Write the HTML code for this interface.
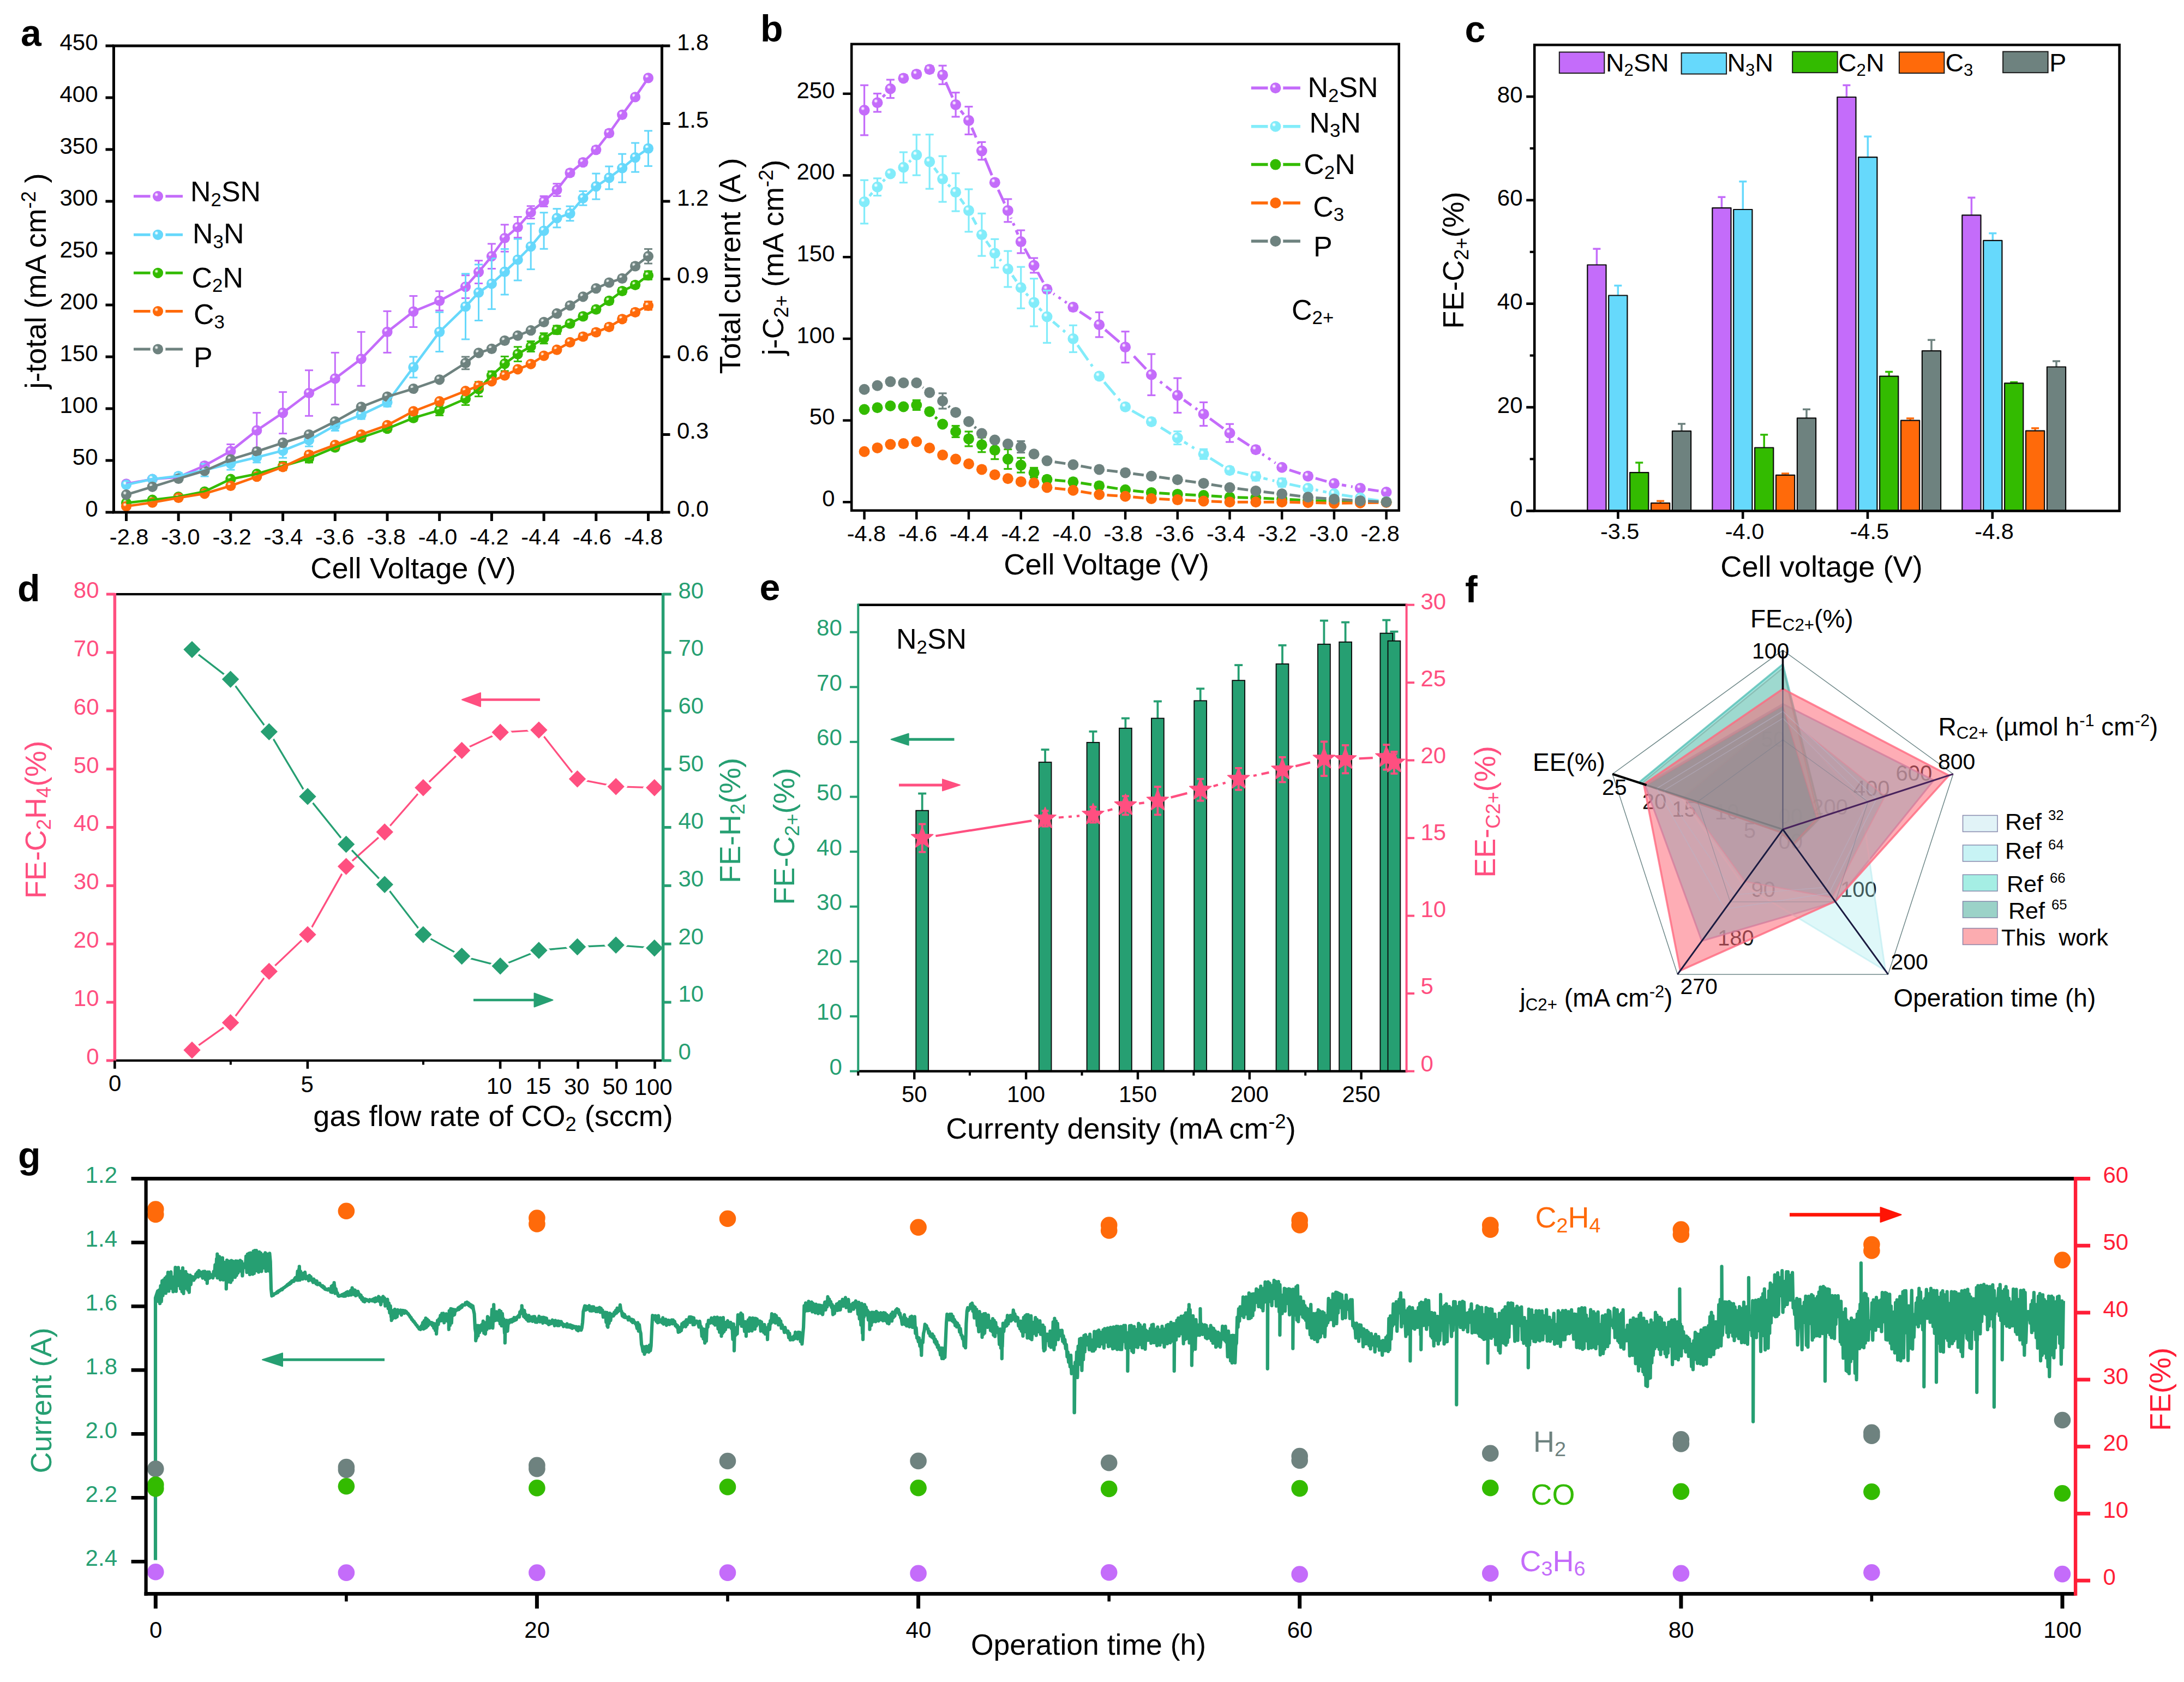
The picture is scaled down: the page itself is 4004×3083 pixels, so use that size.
<!DOCTYPE html><html><head><meta charset="utf-8"><title>Figure</title><style>html,body{margin:0;padding:0;background:#fff;width:4004px;height:3083px;overflow:hidden}svg{display:block}text{font-family:"Liberation Sans",sans-serif}</style></head><body><svg width="4004" height="3083" viewBox="0 0 4004 3083"><defs><radialGradient id="gP" cx="0.36" cy="0.34" r="0.6" fx="0.36" fy="0.34"><stop offset="0" stop-color="#fff"/><stop offset="0.13" stop-color="#F3DCFF"/><stop offset="0.32" stop-color="#C46CFA"/><stop offset="1" stop-color="#C46CFA"/></radialGradient><radialGradient id="gB" cx="0.36" cy="0.34" r="0.6" fx="0.36" fy="0.34"><stop offset="0" stop-color="#fff"/><stop offset="0.13" stop-color="#E6FAFF"/><stop offset="0.32" stop-color="#66D8FB"/><stop offset="1" stop-color="#66D8FB"/></radialGradient><radialGradient id="gC" cx="0.36" cy="0.34" r="0.6" fx="0.36" fy="0.34"><stop offset="0" stop-color="#fff"/><stop offset="0.13" stop-color="#EAFDFF"/><stop offset="0.32" stop-color="#82ECFA"/><stop offset="1" stop-color="#82ECFA"/></radialGradient><radialGradient id="gG" cx="0.36" cy="0.34" r="0.6" fx="0.36" fy="0.34"><stop offset="0" stop-color="#fff"/><stop offset="0.13" stop-color="#C8F5B0"/><stop offset="0.32" stop-color="#33BB00"/><stop offset="1" stop-color="#33BB00"/></radialGradient><radialGradient id="gO" cx="0.36" cy="0.34" r="0.6" fx="0.36" fy="0.34"><stop offset="0" stop-color="#fff"/><stop offset="0.13" stop-color="#FFD9B8"/><stop offset="0.32" stop-color="#FF6A0A"/><stop offset="1" stop-color="#FF6A0A"/></radialGradient><radialGradient id="gY" cx="0.36" cy="0.34" r="0.6" fx="0.36" fy="0.34"><stop offset="0" stop-color="#fff"/><stop offset="0.13" stop-color="#D5DEDC"/><stop offset="0.32" stop-color="#6E827F"/><stop offset="1" stop-color="#6E827F"/></radialGradient></defs><rect width="4004" height="3083" fill="#fff"/><g>
<line x1="375.1" y1="847.8" x2="375.1" y2="859.2" stroke="#C46CFA" stroke-width="3" stroke-linecap="butt" />
<line x1="367.6" y1="847.8" x2="382.6" y2="847.8" stroke="#C46CFA" stroke-width="3" stroke-linecap="butt" />
<line x1="367.6" y1="859.2" x2="382.6" y2="859.2" stroke="#C46CFA" stroke-width="3" stroke-linecap="butt" />
<line x1="422.9" y1="814.4" x2="422.9" y2="839.4" stroke="#C46CFA" stroke-width="3" stroke-linecap="butt" />
<line x1="415.4" y1="814.4" x2="430.4" y2="814.4" stroke="#C46CFA" stroke-width="3" stroke-linecap="butt" />
<line x1="415.4" y1="839.4" x2="430.4" y2="839.4" stroke="#C46CFA" stroke-width="3" stroke-linecap="butt" />
<line x1="470.8" y1="756.6" x2="470.8" y2="821.2" stroke="#C46CFA" stroke-width="3" stroke-linecap="butt" />
<line x1="463.2" y1="756.6" x2="478.2" y2="756.6" stroke="#C46CFA" stroke-width="3" stroke-linecap="butt" />
<line x1="463.2" y1="821.2" x2="478.2" y2="821.2" stroke="#C46CFA" stroke-width="3" stroke-linecap="butt" />
<line x1="518.6" y1="718.6" x2="518.6" y2="794.6" stroke="#C46CFA" stroke-width="3" stroke-linecap="butt" />
<line x1="511.1" y1="718.6" x2="526.1" y2="718.6" stroke="#C46CFA" stroke-width="3" stroke-linecap="butt" />
<line x1="511.1" y1="794.6" x2="526.1" y2="794.6" stroke="#C46CFA" stroke-width="3" stroke-linecap="butt" />
<line x1="566.5" y1="678.7" x2="566.5" y2="762.3" stroke="#C46CFA" stroke-width="3" stroke-linecap="butt" />
<line x1="559" y1="678.7" x2="574" y2="678.7" stroke="#C46CFA" stroke-width="3" stroke-linecap="butt" />
<line x1="559" y1="762.3" x2="574" y2="762.3" stroke="#C46CFA" stroke-width="3" stroke-linecap="butt" />
<line x1="614.3" y1="646.4" x2="614.3" y2="741.4" stroke="#C46CFA" stroke-width="3" stroke-linecap="butt" />
<line x1="606.8" y1="646.4" x2="621.8" y2="646.4" stroke="#C46CFA" stroke-width="3" stroke-linecap="butt" />
<line x1="606.8" y1="741.4" x2="621.8" y2="741.4" stroke="#C46CFA" stroke-width="3" stroke-linecap="butt" />
<line x1="662.2" y1="608.4" x2="662.2" y2="707.2" stroke="#C46CFA" stroke-width="3" stroke-linecap="butt" />
<line x1="654.7" y1="608.4" x2="669.7" y2="608.4" stroke="#C46CFA" stroke-width="3" stroke-linecap="butt" />
<line x1="654.7" y1="707.2" x2="669.7" y2="707.2" stroke="#C46CFA" stroke-width="3" stroke-linecap="butt" />
<line x1="710" y1="570.4" x2="710" y2="646.4" stroke="#C46CFA" stroke-width="3" stroke-linecap="butt" />
<line x1="702.5" y1="570.4" x2="717.5" y2="570.4" stroke="#C46CFA" stroke-width="3" stroke-linecap="butt" />
<line x1="702.5" y1="646.4" x2="717.5" y2="646.4" stroke="#C46CFA" stroke-width="3" stroke-linecap="butt" />
<line x1="757.9" y1="542.5" x2="757.9" y2="599.5" stroke="#C46CFA" stroke-width="3" stroke-linecap="butt" />
<line x1="750.4" y1="542.5" x2="765.4" y2="542.5" stroke="#C46CFA" stroke-width="3" stroke-linecap="butt" />
<line x1="750.4" y1="599.5" x2="765.4" y2="599.5" stroke="#C46CFA" stroke-width="3" stroke-linecap="butt" />
<line x1="805.7" y1="533.7" x2="805.7" y2="569.1" stroke="#C46CFA" stroke-width="3" stroke-linecap="butt" />
<line x1="798.2" y1="533.7" x2="813.2" y2="533.7" stroke="#C46CFA" stroke-width="3" stroke-linecap="butt" />
<line x1="798.2" y1="569.1" x2="813.2" y2="569.1" stroke="#C46CFA" stroke-width="3" stroke-linecap="butt" />
<line x1="853.5" y1="504.7" x2="853.5" y2="546.5" stroke="#C46CFA" stroke-width="3" stroke-linecap="butt" />
<line x1="846" y1="504.7" x2="861" y2="504.7" stroke="#C46CFA" stroke-width="3" stroke-linecap="butt" />
<line x1="846" y1="546.5" x2="861" y2="546.5" stroke="#C46CFA" stroke-width="3" stroke-linecap="butt" />
<line x1="877.5" y1="477.7" x2="877.5" y2="519.5" stroke="#C46CFA" stroke-width="3" stroke-linecap="butt" />
<line x1="870" y1="477.7" x2="885" y2="477.7" stroke="#C46CFA" stroke-width="3" stroke-linecap="butt" />
<line x1="870" y1="519.5" x2="885" y2="519.5" stroke="#C46CFA" stroke-width="3" stroke-linecap="butt" />
<line x1="901.4" y1="446.9" x2="901.4" y2="492.5" stroke="#C46CFA" stroke-width="3" stroke-linecap="butt" />
<line x1="893.9" y1="446.9" x2="908.9" y2="446.9" stroke="#C46CFA" stroke-width="3" stroke-linecap="butt" />
<line x1="893.9" y1="492.5" x2="908.9" y2="492.5" stroke="#C46CFA" stroke-width="3" stroke-linecap="butt" />
<line x1="925.3" y1="411.8" x2="925.3" y2="461.2" stroke="#C46CFA" stroke-width="3" stroke-linecap="butt" />
<line x1="917.8" y1="411.8" x2="932.8" y2="411.8" stroke="#C46CFA" stroke-width="3" stroke-linecap="butt" />
<line x1="917.8" y1="461.2" x2="932.8" y2="461.2" stroke="#C46CFA" stroke-width="3" stroke-linecap="butt" />
<line x1="949.2" y1="397.5" x2="949.2" y2="435.5" stroke="#C46CFA" stroke-width="3" stroke-linecap="butt" />
<line x1="941.8" y1="397.5" x2="956.8" y2="397.5" stroke="#C46CFA" stroke-width="3" stroke-linecap="butt" />
<line x1="941.8" y1="435.5" x2="956.8" y2="435.5" stroke="#C46CFA" stroke-width="3" stroke-linecap="butt" />
<line x1="973.2" y1="377.7" x2="973.2" y2="400.5" stroke="#C46CFA" stroke-width="3" stroke-linecap="butt" />
<line x1="965.7" y1="377.7" x2="980.7" y2="377.7" stroke="#C46CFA" stroke-width="3" stroke-linecap="butt" />
<line x1="965.7" y1="400.5" x2="980.7" y2="400.5" stroke="#C46CFA" stroke-width="3" stroke-linecap="butt" />
<line x1="997.1" y1="359.5" x2="997.1" y2="378.5" stroke="#C46CFA" stroke-width="3" stroke-linecap="butt" />
<line x1="989.6" y1="359.5" x2="1004.6" y2="359.5" stroke="#C46CFA" stroke-width="3" stroke-linecap="butt" />
<line x1="989.6" y1="378.5" x2="1004.6" y2="378.5" stroke="#C46CFA" stroke-width="3" stroke-linecap="butt" />
<line x1="1021" y1="336.7" x2="1021" y2="359.5" stroke="#C46CFA" stroke-width="3" stroke-linecap="butt" />
<line x1="1013.5" y1="336.7" x2="1028.5" y2="336.7" stroke="#C46CFA" stroke-width="3" stroke-linecap="butt" />
<line x1="1013.5" y1="359.5" x2="1028.5" y2="359.5" stroke="#C46CFA" stroke-width="3" stroke-linecap="butt" />
<line x1="1045" y1="311.2" x2="1045" y2="322.6" stroke="#C46CFA" stroke-width="3" stroke-linecap="butt" />
<line x1="1037.5" y1="311.2" x2="1052.5" y2="311.2" stroke="#C46CFA" stroke-width="3" stroke-linecap="butt" />
<line x1="1037.5" y1="322.6" x2="1052.5" y2="322.6" stroke="#C46CFA" stroke-width="3" stroke-linecap="butt" />
<line x1="1068.9" y1="291.9" x2="1068.9" y2="303.3" stroke="#C46CFA" stroke-width="3" stroke-linecap="butt" />
<line x1="1061.4" y1="291.9" x2="1076.4" y2="291.9" stroke="#C46CFA" stroke-width="3" stroke-linecap="butt" />
<line x1="1061.4" y1="303.3" x2="1076.4" y2="303.3" stroke="#C46CFA" stroke-width="3" stroke-linecap="butt" />
<line x1="1092.8" y1="268.9" x2="1092.8" y2="280.3" stroke="#C46CFA" stroke-width="3" stroke-linecap="butt" />
<line x1="1085.3" y1="268.9" x2="1100.3" y2="268.9" stroke="#C46CFA" stroke-width="3" stroke-linecap="butt" />
<line x1="1085.3" y1="280.3" x2="1100.3" y2="280.3" stroke="#C46CFA" stroke-width="3" stroke-linecap="butt" />
<line x1="1116.7" y1="238.3" x2="1116.7" y2="249.7" stroke="#C46CFA" stroke-width="3" stroke-linecap="butt" />
<line x1="1109.2" y1="238.3" x2="1124.2" y2="238.3" stroke="#C46CFA" stroke-width="3" stroke-linecap="butt" />
<line x1="1109.2" y1="249.7" x2="1124.2" y2="249.7" stroke="#C46CFA" stroke-width="3" stroke-linecap="butt" />
<circle cx="231.5" cy="886.9" r="9.6" fill="url(#gP)" />
<circle cx="279.4" cy="878.2" r="9.6" fill="url(#gP)" />
<circle cx="327.2" cy="874.4" r="9.6" fill="url(#gP)" />
<circle cx="375.1" cy="853.5" r="9.6" fill="url(#gP)" />
<circle cx="422.9" cy="826.9" r="9.6" fill="url(#gP)" />
<circle cx="470.8" cy="788.9" r="9.6" fill="url(#gP)" />
<circle cx="518.6" cy="756.6" r="9.6" fill="url(#gP)" />
<circle cx="566.5" cy="720.5" r="9.6" fill="url(#gP)" />
<circle cx="614.3" cy="693.9" r="9.6" fill="url(#gP)" />
<circle cx="662.2" cy="657.8" r="9.6" fill="url(#gP)" />
<circle cx="710" cy="608.4" r="9.6" fill="url(#gP)" />
<circle cx="757.9" cy="571" r="9.6" fill="url(#gP)" />
<circle cx="805.7" cy="551.4" r="9.6" fill="url(#gP)" />
<circle cx="853.5" cy="525.6" r="9.6" fill="url(#gP)" />
<circle cx="877.5" cy="498.6" r="9.6" fill="url(#gP)" />
<circle cx="901.4" cy="469.7" r="9.6" fill="url(#gP)" />
<circle cx="925.3" cy="436.5" r="9.6" fill="url(#gP)" />
<circle cx="949.2" cy="416.5" r="9.6" fill="url(#gP)" />
<circle cx="973.2" cy="389.1" r="9.6" fill="url(#gP)" />
<circle cx="997.1" cy="369" r="9.6" fill="url(#gP)" />
<circle cx="1021" cy="348.1" r="9.6" fill="url(#gP)" />
<circle cx="1045" cy="316.9" r="9.6" fill="url(#gP)" />
<circle cx="1068.9" cy="297.6" r="9.6" fill="url(#gP)" />
<circle cx="1092.8" cy="274.6" r="9.6" fill="url(#gP)" />
<circle cx="1116.7" cy="244" r="9.6" fill="url(#gP)" />
<circle cx="1140.7" cy="210.4" r="9.6" fill="url(#gP)" />
<circle cx="1164.6" cy="177.9" r="9.6" fill="url(#gP)" />
<circle cx="1188.5" cy="142.9" r="9.6" fill="url(#gP)" />
<line x1="327.2" y1="866.8" x2="327.2" y2="878.2" stroke="#66D8FB" stroke-width="3" stroke-linecap="butt" />
<line x1="319.7" y1="866.8" x2="334.7" y2="866.8" stroke="#66D8FB" stroke-width="3" stroke-linecap="butt" />
<line x1="319.7" y1="878.2" x2="334.7" y2="878.2" stroke="#66D8FB" stroke-width="3" stroke-linecap="butt" />
<line x1="375.1" y1="850.3" x2="375.1" y2="873.1" stroke="#66D8FB" stroke-width="3" stroke-linecap="butt" />
<line x1="367.6" y1="850.3" x2="382.6" y2="850.3" stroke="#66D8FB" stroke-width="3" stroke-linecap="butt" />
<line x1="367.6" y1="873.1" x2="382.6" y2="873.1" stroke="#66D8FB" stroke-width="3" stroke-linecap="butt" />
<line x1="422.9" y1="838.3" x2="422.9" y2="861.1" stroke="#66D8FB" stroke-width="3" stroke-linecap="butt" />
<line x1="415.4" y1="838.3" x2="430.4" y2="838.3" stroke="#66D8FB" stroke-width="3" stroke-linecap="butt" />
<line x1="415.4" y1="861.1" x2="430.4" y2="861.1" stroke="#66D8FB" stroke-width="3" stroke-linecap="butt" />
<line x1="470.8" y1="828.8" x2="470.8" y2="847.8" stroke="#66D8FB" stroke-width="3" stroke-linecap="butt" />
<line x1="463.2" y1="828.8" x2="478.2" y2="828.8" stroke="#66D8FB" stroke-width="3" stroke-linecap="butt" />
<line x1="463.2" y1="847.8" x2="478.2" y2="847.8" stroke="#66D8FB" stroke-width="3" stroke-linecap="butt" />
<line x1="518.6" y1="812.7" x2="518.6" y2="839.2" stroke="#66D8FB" stroke-width="3" stroke-linecap="butt" />
<line x1="511.1" y1="812.7" x2="526.1" y2="812.7" stroke="#66D8FB" stroke-width="3" stroke-linecap="butt" />
<line x1="511.1" y1="839.2" x2="526.1" y2="839.2" stroke="#66D8FB" stroke-width="3" stroke-linecap="butt" />
<line x1="566.5" y1="795.4" x2="566.5" y2="818.2" stroke="#66D8FB" stroke-width="3" stroke-linecap="butt" />
<line x1="559" y1="795.4" x2="574" y2="795.4" stroke="#66D8FB" stroke-width="3" stroke-linecap="butt" />
<line x1="559" y1="818.2" x2="574" y2="818.2" stroke="#66D8FB" stroke-width="3" stroke-linecap="butt" />
<line x1="614.3" y1="770.5" x2="614.3" y2="789.5" stroke="#66D8FB" stroke-width="3" stroke-linecap="butt" />
<line x1="606.8" y1="770.5" x2="621.8" y2="770.5" stroke="#66D8FB" stroke-width="3" stroke-linecap="butt" />
<line x1="606.8" y1="789.5" x2="621.8" y2="789.5" stroke="#66D8FB" stroke-width="3" stroke-linecap="butt" />
<line x1="662.2" y1="752.8" x2="662.2" y2="768" stroke="#66D8FB" stroke-width="3" stroke-linecap="butt" />
<line x1="654.7" y1="752.8" x2="669.7" y2="752.8" stroke="#66D8FB" stroke-width="3" stroke-linecap="butt" />
<line x1="654.7" y1="768" x2="669.7" y2="768" stroke="#66D8FB" stroke-width="3" stroke-linecap="butt" />
<line x1="710" y1="730" x2="710" y2="745.2" stroke="#66D8FB" stroke-width="3" stroke-linecap="butt" />
<line x1="702.5" y1="730" x2="717.5" y2="730" stroke="#66D8FB" stroke-width="3" stroke-linecap="butt" />
<line x1="702.5" y1="745.2" x2="717.5" y2="745.2" stroke="#66D8FB" stroke-width="3" stroke-linecap="butt" />
<line x1="757.9" y1="654" x2="757.9" y2="692" stroke="#66D8FB" stroke-width="3" stroke-linecap="butt" />
<line x1="750.4" y1="654" x2="765.4" y2="654" stroke="#66D8FB" stroke-width="3" stroke-linecap="butt" />
<line x1="750.4" y1="692" x2="765.4" y2="692" stroke="#66D8FB" stroke-width="3" stroke-linecap="butt" />
<line x1="805.7" y1="572.3" x2="805.7" y2="644.5" stroke="#66D8FB" stroke-width="3" stroke-linecap="butt" />
<line x1="798.2" y1="572.3" x2="813.2" y2="572.3" stroke="#66D8FB" stroke-width="3" stroke-linecap="butt" />
<line x1="798.2" y1="644.5" x2="813.2" y2="644.5" stroke="#66D8FB" stroke-width="3" stroke-linecap="butt" />
<line x1="853.5" y1="501.8" x2="853.5" y2="621.9" stroke="#66D8FB" stroke-width="3" stroke-linecap="butt" />
<line x1="846" y1="501.8" x2="861" y2="501.8" stroke="#66D8FB" stroke-width="3" stroke-linecap="butt" />
<line x1="846" y1="621.9" x2="861" y2="621.9" stroke="#66D8FB" stroke-width="3" stroke-linecap="butt" />
<line x1="877.5" y1="484.9" x2="877.5" y2="587.5" stroke="#66D8FB" stroke-width="3" stroke-linecap="butt" />
<line x1="870" y1="484.9" x2="885" y2="484.9" stroke="#66D8FB" stroke-width="3" stroke-linecap="butt" />
<line x1="870" y1="587.5" x2="885" y2="587.5" stroke="#66D8FB" stroke-width="3" stroke-linecap="butt" />
<line x1="901.4" y1="473.5" x2="901.4" y2="566.6" stroke="#66D8FB" stroke-width="3" stroke-linecap="butt" />
<line x1="893.9" y1="473.5" x2="908.9" y2="473.5" stroke="#66D8FB" stroke-width="3" stroke-linecap="butt" />
<line x1="893.9" y1="566.6" x2="908.9" y2="566.6" stroke="#66D8FB" stroke-width="3" stroke-linecap="butt" />
<line x1="925.3" y1="456.4" x2="925.3" y2="540" stroke="#66D8FB" stroke-width="3" stroke-linecap="butt" />
<line x1="917.8" y1="456.4" x2="932.8" y2="456.4" stroke="#66D8FB" stroke-width="3" stroke-linecap="butt" />
<line x1="917.8" y1="540" x2="932.8" y2="540" stroke="#66D8FB" stroke-width="3" stroke-linecap="butt" />
<line x1="949.2" y1="438" x2="949.2" y2="514" stroke="#66D8FB" stroke-width="3" stroke-linecap="butt" />
<line x1="941.8" y1="438" x2="956.8" y2="438" stroke="#66D8FB" stroke-width="3" stroke-linecap="butt" />
<line x1="941.8" y1="514" x2="956.8" y2="514" stroke="#66D8FB" stroke-width="3" stroke-linecap="butt" />
<line x1="973.2" y1="410" x2="973.2" y2="493.6" stroke="#66D8FB" stroke-width="3" stroke-linecap="butt" />
<line x1="965.7" y1="410" x2="980.7" y2="410" stroke="#66D8FB" stroke-width="3" stroke-linecap="butt" />
<line x1="965.7" y1="493.6" x2="980.7" y2="493.6" stroke="#66D8FB" stroke-width="3" stroke-linecap="butt" />
<line x1="997.1" y1="389.7" x2="997.1" y2="456.2" stroke="#66D8FB" stroke-width="3" stroke-linecap="butt" />
<line x1="989.6" y1="389.7" x2="1004.6" y2="389.7" stroke="#66D8FB" stroke-width="3" stroke-linecap="butt" />
<line x1="989.6" y1="456.2" x2="1004.6" y2="456.2" stroke="#66D8FB" stroke-width="3" stroke-linecap="butt" />
<line x1="1021" y1="382.7" x2="1021" y2="416.9" stroke="#66D8FB" stroke-width="3" stroke-linecap="butt" />
<line x1="1013.5" y1="382.7" x2="1028.5" y2="382.7" stroke="#66D8FB" stroke-width="3" stroke-linecap="butt" />
<line x1="1013.5" y1="416.9" x2="1028.5" y2="416.9" stroke="#66D8FB" stroke-width="3" stroke-linecap="butt" />
<line x1="1045" y1="378.1" x2="1045" y2="404.7" stroke="#66D8FB" stroke-width="3" stroke-linecap="butt" />
<line x1="1037.5" y1="378.1" x2="1052.5" y2="378.1" stroke="#66D8FB" stroke-width="3" stroke-linecap="butt" />
<line x1="1037.5" y1="404.7" x2="1052.5" y2="404.7" stroke="#66D8FB" stroke-width="3" stroke-linecap="butt" />
<line x1="1068.9" y1="350.4" x2="1068.9" y2="376.2" stroke="#66D8FB" stroke-width="3" stroke-linecap="butt" />
<line x1="1061.4" y1="350.4" x2="1076.4" y2="350.4" stroke="#66D8FB" stroke-width="3" stroke-linecap="butt" />
<line x1="1061.4" y1="376.2" x2="1076.4" y2="376.2" stroke="#66D8FB" stroke-width="3" stroke-linecap="butt" />
<line x1="1092.8" y1="318.1" x2="1092.8" y2="365.2" stroke="#66D8FB" stroke-width="3" stroke-linecap="butt" />
<line x1="1085.3" y1="318.1" x2="1100.3" y2="318.1" stroke="#66D8FB" stroke-width="3" stroke-linecap="butt" />
<line x1="1085.3" y1="365.2" x2="1100.3" y2="365.2" stroke="#66D8FB" stroke-width="3" stroke-linecap="butt" />
<line x1="1116.7" y1="305" x2="1116.7" y2="346.8" stroke="#66D8FB" stroke-width="3" stroke-linecap="butt" />
<line x1="1109.2" y1="305" x2="1124.2" y2="305" stroke="#66D8FB" stroke-width="3" stroke-linecap="butt" />
<line x1="1109.2" y1="346.8" x2="1124.2" y2="346.8" stroke="#66D8FB" stroke-width="3" stroke-linecap="butt" />
<line x1="1140.7" y1="282.2" x2="1140.7" y2="334.2" stroke="#66D8FB" stroke-width="3" stroke-linecap="butt" />
<line x1="1133.2" y1="282.2" x2="1148.2" y2="282.2" stroke="#66D8FB" stroke-width="3" stroke-linecap="butt" />
<line x1="1133.2" y1="334.2" x2="1148.2" y2="334.2" stroke="#66D8FB" stroke-width="3" stroke-linecap="butt" />
<line x1="1164.6" y1="262" x2="1164.6" y2="315.2" stroke="#66D8FB" stroke-width="3" stroke-linecap="butt" />
<line x1="1157.1" y1="262" x2="1172.1" y2="262" stroke="#66D8FB" stroke-width="3" stroke-linecap="butt" />
<line x1="1157.1" y1="315.2" x2="1172.1" y2="315.2" stroke="#66D8FB" stroke-width="3" stroke-linecap="butt" />
<line x1="1188.5" y1="239.8" x2="1188.5" y2="304.4" stroke="#66D8FB" stroke-width="3" stroke-linecap="butt" />
<line x1="1181" y1="239.8" x2="1196" y2="239.8" stroke="#66D8FB" stroke-width="3" stroke-linecap="butt" />
<line x1="1181" y1="304.4" x2="1196" y2="304.4" stroke="#66D8FB" stroke-width="3" stroke-linecap="butt" />
<circle cx="231.5" cy="888.5" r="9.6" fill="url(#gB)" />
<circle cx="279.4" cy="878.2" r="9.6" fill="url(#gB)" />
<circle cx="327.2" cy="872.5" r="9.6" fill="url(#gB)" />
<circle cx="375.1" cy="861.7" r="9.6" fill="url(#gB)" />
<circle cx="422.9" cy="849.7" r="9.6" fill="url(#gB)" />
<circle cx="470.8" cy="838.3" r="9.6" fill="url(#gB)" />
<circle cx="518.6" cy="826" r="9.6" fill="url(#gB)" />
<circle cx="566.5" cy="806.8" r="9.6" fill="url(#gB)" />
<circle cx="614.3" cy="780" r="9.6" fill="url(#gB)" />
<circle cx="662.2" cy="760.4" r="9.6" fill="url(#gB)" />
<circle cx="710" cy="737.6" r="9.6" fill="url(#gB)" />
<circle cx="757.9" cy="673" r="9.6" fill="url(#gB)" />
<circle cx="805.7" cy="608.4" r="9.6" fill="url(#gB)" />
<circle cx="853.5" cy="561.9" r="9.6" fill="url(#gB)" />
<circle cx="877.5" cy="536.2" r="9.6" fill="url(#gB)" />
<circle cx="901.4" cy="520" r="9.6" fill="url(#gB)" />
<circle cx="925.3" cy="498.2" r="9.6" fill="url(#gB)" />
<circle cx="949.2" cy="476" r="9.6" fill="url(#gB)" />
<circle cx="973.2" cy="451.8" r="9.6" fill="url(#gB)" />
<circle cx="997.1" cy="423" r="9.6" fill="url(#gB)" />
<circle cx="1021" cy="399.8" r="9.6" fill="url(#gB)" />
<circle cx="1045" cy="391.4" r="9.6" fill="url(#gB)" />
<circle cx="1068.9" cy="363.3" r="9.6" fill="url(#gB)" />
<circle cx="1092.8" cy="341.6" r="9.6" fill="url(#gB)" />
<circle cx="1116.7" cy="325.9" r="9.6" fill="url(#gB)" />
<circle cx="1140.7" cy="308.2" r="9.6" fill="url(#gB)" />
<circle cx="1164.6" cy="288.6" r="9.6" fill="url(#gB)" />
<circle cx="1188.5" cy="272.1" r="9.6" fill="url(#gB)" />
<line x1="518.6" y1="846.7" x2="518.6" y2="861.9" stroke="#33BB00" stroke-width="3" stroke-linecap="butt" />
<line x1="511.1" y1="846.7" x2="526.1" y2="846.7" stroke="#33BB00" stroke-width="3" stroke-linecap="butt" />
<line x1="511.1" y1="861.9" x2="526.1" y2="861.9" stroke="#33BB00" stroke-width="3" stroke-linecap="butt" />
<line x1="566.5" y1="832.6" x2="566.5" y2="847.8" stroke="#33BB00" stroke-width="3" stroke-linecap="butt" />
<line x1="559" y1="832.6" x2="574" y2="832.6" stroke="#33BB00" stroke-width="3" stroke-linecap="butt" />
<line x1="559" y1="847.8" x2="574" y2="847.8" stroke="#33BB00" stroke-width="3" stroke-linecap="butt" />
<line x1="614.3" y1="814.4" x2="614.3" y2="825.8" stroke="#33BB00" stroke-width="3" stroke-linecap="butt" />
<line x1="606.8" y1="814.4" x2="621.8" y2="814.4" stroke="#33BB00" stroke-width="3" stroke-linecap="butt" />
<line x1="606.8" y1="825.8" x2="621.8" y2="825.8" stroke="#33BB00" stroke-width="3" stroke-linecap="butt" />
<line x1="662.2" y1="796.5" x2="662.2" y2="807.9" stroke="#33BB00" stroke-width="3" stroke-linecap="butt" />
<line x1="654.7" y1="796.5" x2="669.7" y2="796.5" stroke="#33BB00" stroke-width="3" stroke-linecap="butt" />
<line x1="654.7" y1="807.9" x2="669.7" y2="807.9" stroke="#33BB00" stroke-width="3" stroke-linecap="butt" />
<line x1="710" y1="780" x2="710" y2="791.4" stroke="#33BB00" stroke-width="3" stroke-linecap="butt" />
<line x1="702.5" y1="780" x2="717.5" y2="780" stroke="#33BB00" stroke-width="3" stroke-linecap="butt" />
<line x1="702.5" y1="791.4" x2="717.5" y2="791.4" stroke="#33BB00" stroke-width="3" stroke-linecap="butt" />
<line x1="757.9" y1="760.4" x2="757.9" y2="771.8" stroke="#33BB00" stroke-width="3" stroke-linecap="butt" />
<line x1="750.4" y1="760.4" x2="765.4" y2="760.4" stroke="#33BB00" stroke-width="3" stroke-linecap="butt" />
<line x1="750.4" y1="771.8" x2="765.4" y2="771.8" stroke="#33BB00" stroke-width="3" stroke-linecap="butt" />
<line x1="805.7" y1="742.4" x2="805.7" y2="761.4" stroke="#33BB00" stroke-width="3" stroke-linecap="butt" />
<line x1="798.2" y1="742.4" x2="813.2" y2="742.4" stroke="#33BB00" stroke-width="3" stroke-linecap="butt" />
<line x1="798.2" y1="761.4" x2="813.2" y2="761.4" stroke="#33BB00" stroke-width="3" stroke-linecap="butt" />
<line x1="853.5" y1="719.6" x2="853.5" y2="742.4" stroke="#33BB00" stroke-width="3" stroke-linecap="butt" />
<line x1="846" y1="719.6" x2="861" y2="719.6" stroke="#33BB00" stroke-width="3" stroke-linecap="butt" />
<line x1="846" y1="742.4" x2="861" y2="742.4" stroke="#33BB00" stroke-width="3" stroke-linecap="butt" />
<line x1="877.5" y1="700" x2="877.5" y2="726.6" stroke="#33BB00" stroke-width="3" stroke-linecap="butt" />
<line x1="870" y1="700" x2="885" y2="700" stroke="#33BB00" stroke-width="3" stroke-linecap="butt" />
<line x1="870" y1="726.6" x2="885" y2="726.6" stroke="#33BB00" stroke-width="3" stroke-linecap="butt" />
<line x1="901.4" y1="680.6" x2="901.4" y2="695.8" stroke="#33BB00" stroke-width="3" stroke-linecap="butt" />
<line x1="893.9" y1="680.6" x2="908.9" y2="680.6" stroke="#33BB00" stroke-width="3" stroke-linecap="butt" />
<line x1="893.9" y1="695.8" x2="908.9" y2="695.8" stroke="#33BB00" stroke-width="3" stroke-linecap="butt" />
<line x1="925.3" y1="653.4" x2="925.3" y2="680" stroke="#33BB00" stroke-width="3" stroke-linecap="butt" />
<line x1="917.8" y1="653.4" x2="932.8" y2="653.4" stroke="#33BB00" stroke-width="3" stroke-linecap="butt" />
<line x1="917.8" y1="680" x2="932.8" y2="680" stroke="#33BB00" stroke-width="3" stroke-linecap="butt" />
<line x1="949.2" y1="635.8" x2="949.2" y2="662.4" stroke="#33BB00" stroke-width="3" stroke-linecap="butt" />
<line x1="941.8" y1="635.8" x2="956.8" y2="635.8" stroke="#33BB00" stroke-width="3" stroke-linecap="butt" />
<line x1="941.8" y1="662.4" x2="956.8" y2="662.4" stroke="#33BB00" stroke-width="3" stroke-linecap="butt" />
<line x1="973.2" y1="625.5" x2="973.2" y2="644.5" stroke="#33BB00" stroke-width="3" stroke-linecap="butt" />
<line x1="965.7" y1="625.5" x2="980.7" y2="625.5" stroke="#33BB00" stroke-width="3" stroke-linecap="butt" />
<line x1="965.7" y1="644.5" x2="980.7" y2="644.5" stroke="#33BB00" stroke-width="3" stroke-linecap="butt" />
<line x1="997.1" y1="610.7" x2="997.1" y2="629.7" stroke="#33BB00" stroke-width="3" stroke-linecap="butt" />
<line x1="989.6" y1="610.7" x2="1004.6" y2="610.7" stroke="#33BB00" stroke-width="3" stroke-linecap="butt" />
<line x1="989.6" y1="629.7" x2="1004.6" y2="629.7" stroke="#33BB00" stroke-width="3" stroke-linecap="butt" />
<line x1="1021" y1="597" x2="1021" y2="612.2" stroke="#33BB00" stroke-width="3" stroke-linecap="butt" />
<line x1="1013.5" y1="597" x2="1028.5" y2="597" stroke="#33BB00" stroke-width="3" stroke-linecap="butt" />
<line x1="1013.5" y1="612.2" x2="1028.5" y2="612.2" stroke="#33BB00" stroke-width="3" stroke-linecap="butt" />
<line x1="1045" y1="587.5" x2="1045" y2="598.9" stroke="#33BB00" stroke-width="3" stroke-linecap="butt" />
<line x1="1037.5" y1="587.5" x2="1052.5" y2="587.5" stroke="#33BB00" stroke-width="3" stroke-linecap="butt" />
<line x1="1037.5" y1="598.9" x2="1052.5" y2="598.9" stroke="#33BB00" stroke-width="3" stroke-linecap="butt" />
<line x1="1068.9" y1="574.2" x2="1068.9" y2="585.6" stroke="#33BB00" stroke-width="3" stroke-linecap="butt" />
<line x1="1061.4" y1="574.2" x2="1076.4" y2="574.2" stroke="#33BB00" stroke-width="3" stroke-linecap="butt" />
<line x1="1061.4" y1="585.6" x2="1076.4" y2="585.6" stroke="#33BB00" stroke-width="3" stroke-linecap="butt" />
<line x1="1092.8" y1="561.5" x2="1092.8" y2="572.9" stroke="#33BB00" stroke-width="3" stroke-linecap="butt" />
<line x1="1085.3" y1="561.5" x2="1100.3" y2="561.5" stroke="#33BB00" stroke-width="3" stroke-linecap="butt" />
<line x1="1085.3" y1="572.9" x2="1100.3" y2="572.9" stroke="#33BB00" stroke-width="3" stroke-linecap="butt" />
<line x1="1116.7" y1="545.7" x2="1116.7" y2="557.1" stroke="#33BB00" stroke-width="3" stroke-linecap="butt" />
<line x1="1109.2" y1="545.7" x2="1124.2" y2="545.7" stroke="#33BB00" stroke-width="3" stroke-linecap="butt" />
<line x1="1109.2" y1="557.1" x2="1124.2" y2="557.1" stroke="#33BB00" stroke-width="3" stroke-linecap="butt" />
<line x1="1140.7" y1="527.8" x2="1140.7" y2="539.2" stroke="#33BB00" stroke-width="3" stroke-linecap="butt" />
<line x1="1133.2" y1="527.8" x2="1148.2" y2="527.8" stroke="#33BB00" stroke-width="3" stroke-linecap="butt" />
<line x1="1133.2" y1="539.2" x2="1148.2" y2="539.2" stroke="#33BB00" stroke-width="3" stroke-linecap="butt" />
<line x1="1164.6" y1="516.6" x2="1164.6" y2="528" stroke="#33BB00" stroke-width="3" stroke-linecap="butt" />
<line x1="1157.1" y1="516.6" x2="1172.1" y2="516.6" stroke="#33BB00" stroke-width="3" stroke-linecap="butt" />
<line x1="1157.1" y1="528" x2="1172.1" y2="528" stroke="#33BB00" stroke-width="3" stroke-linecap="butt" />
<line x1="1188.5" y1="497.1" x2="1188.5" y2="512.3" stroke="#33BB00" stroke-width="3" stroke-linecap="butt" />
<line x1="1181" y1="497.1" x2="1196" y2="497.1" stroke="#33BB00" stroke-width="3" stroke-linecap="butt" />
<line x1="1181" y1="512.3" x2="1196" y2="512.3" stroke="#33BB00" stroke-width="3" stroke-linecap="butt" />
<circle cx="231.5" cy="921.9" r="9.6" fill="url(#gG)" />
<circle cx="279.4" cy="916.2" r="9.6" fill="url(#gG)" />
<circle cx="327.2" cy="910.5" r="9.6" fill="url(#gG)" />
<circle cx="375.1" cy="901" r="9.6" fill="url(#gG)" />
<circle cx="422.9" cy="878.2" r="9.6" fill="url(#gG)" />
<circle cx="470.8" cy="868.7" r="9.6" fill="url(#gG)" />
<circle cx="518.6" cy="854.3" r="9.6" fill="url(#gG)" />
<circle cx="566.5" cy="840.2" r="9.6" fill="url(#gG)" />
<circle cx="614.3" cy="820.1" r="9.6" fill="url(#gG)" />
<circle cx="662.2" cy="802.2" r="9.6" fill="url(#gG)" />
<circle cx="710" cy="785.7" r="9.6" fill="url(#gG)" />
<circle cx="757.9" cy="766.1" r="9.6" fill="url(#gG)" />
<circle cx="805.7" cy="751.9" r="9.6" fill="url(#gG)" />
<circle cx="853.5" cy="731" r="9.6" fill="url(#gG)" />
<circle cx="877.5" cy="713.3" r="9.6" fill="url(#gG)" />
<circle cx="901.4" cy="688.2" r="9.6" fill="url(#gG)" />
<circle cx="925.3" cy="666.7" r="9.6" fill="url(#gG)" />
<circle cx="949.2" cy="649.1" r="9.6" fill="url(#gG)" />
<circle cx="973.2" cy="635" r="9.6" fill="url(#gG)" />
<circle cx="997.1" cy="620.2" r="9.6" fill="url(#gG)" />
<circle cx="1021" cy="604.6" r="9.6" fill="url(#gG)" />
<circle cx="1045" cy="593.2" r="9.6" fill="url(#gG)" />
<circle cx="1068.9" cy="579.9" r="9.6" fill="url(#gG)" />
<circle cx="1092.8" cy="567.2" r="9.6" fill="url(#gG)" />
<circle cx="1116.7" cy="551.4" r="9.6" fill="url(#gG)" />
<circle cx="1140.7" cy="533.5" r="9.6" fill="url(#gG)" />
<circle cx="1164.6" cy="522.3" r="9.6" fill="url(#gG)" />
<circle cx="1188.5" cy="504.7" r="9.6" fill="url(#gG)" />
<line x1="518.6" y1="850.1" x2="518.6" y2="861.5" stroke="#FF6A0A" stroke-width="3" stroke-linecap="butt" />
<line x1="511.1" y1="850.1" x2="526.1" y2="850.1" stroke="#FF6A0A" stroke-width="3" stroke-linecap="butt" />
<line x1="511.1" y1="861.5" x2="526.1" y2="861.5" stroke="#FF6A0A" stroke-width="3" stroke-linecap="butt" />
<line x1="566.5" y1="827.8" x2="566.5" y2="839.2" stroke="#FF6A0A" stroke-width="3" stroke-linecap="butt" />
<line x1="559" y1="827.8" x2="574" y2="827.8" stroke="#FF6A0A" stroke-width="3" stroke-linecap="butt" />
<line x1="559" y1="839.2" x2="574" y2="839.2" stroke="#FF6A0A" stroke-width="3" stroke-linecap="butt" />
<line x1="877.5" y1="701.5" x2="877.5" y2="712.9" stroke="#FF6A0A" stroke-width="3" stroke-linecap="butt" />
<line x1="870" y1="701.5" x2="885" y2="701.5" stroke="#FF6A0A" stroke-width="3" stroke-linecap="butt" />
<line x1="870" y1="712.9" x2="885" y2="712.9" stroke="#FF6A0A" stroke-width="3" stroke-linecap="butt" />
<line x1="1068.9" y1="611.2" x2="1068.9" y2="622.7" stroke="#FF6A0A" stroke-width="3" stroke-linecap="butt" />
<line x1="1061.4" y1="611.2" x2="1076.4" y2="611.2" stroke="#FF6A0A" stroke-width="3" stroke-linecap="butt" />
<line x1="1061.4" y1="622.7" x2="1076.4" y2="622.7" stroke="#FF6A0A" stroke-width="3" stroke-linecap="butt" />
<line x1="1092.8" y1="603.3" x2="1092.8" y2="614.7" stroke="#FF6A0A" stroke-width="3" stroke-linecap="butt" />
<line x1="1085.3" y1="603.3" x2="1100.3" y2="603.3" stroke="#FF6A0A" stroke-width="3" stroke-linecap="butt" />
<line x1="1085.3" y1="614.7" x2="1100.3" y2="614.7" stroke="#FF6A0A" stroke-width="3" stroke-linecap="butt" />
<line x1="1116.7" y1="593.6" x2="1116.7" y2="605" stroke="#FF6A0A" stroke-width="3" stroke-linecap="butt" />
<line x1="1109.2" y1="593.6" x2="1124.2" y2="593.6" stroke="#FF6A0A" stroke-width="3" stroke-linecap="butt" />
<line x1="1109.2" y1="605" x2="1124.2" y2="605" stroke="#FF6A0A" stroke-width="3" stroke-linecap="butt" />
<line x1="1140.7" y1="579.1" x2="1140.7" y2="590.5" stroke="#FF6A0A" stroke-width="3" stroke-linecap="butt" />
<line x1="1133.2" y1="579.1" x2="1148.2" y2="579.1" stroke="#FF6A0A" stroke-width="3" stroke-linecap="butt" />
<line x1="1133.2" y1="590.5" x2="1148.2" y2="590.5" stroke="#FF6A0A" stroke-width="3" stroke-linecap="butt" />
<line x1="1164.6" y1="566.6" x2="1164.6" y2="578" stroke="#FF6A0A" stroke-width="3" stroke-linecap="butt" />
<line x1="1157.1" y1="566.6" x2="1172.1" y2="566.6" stroke="#FF6A0A" stroke-width="3" stroke-linecap="butt" />
<line x1="1157.1" y1="578" x2="1172.1" y2="578" stroke="#FF6A0A" stroke-width="3" stroke-linecap="butt" />
<line x1="1188.5" y1="552.7" x2="1188.5" y2="567.9" stroke="#FF6A0A" stroke-width="3" stroke-linecap="butt" />
<line x1="1181" y1="552.7" x2="1196" y2="552.7" stroke="#FF6A0A" stroke-width="3" stroke-linecap="butt" />
<line x1="1181" y1="567.9" x2="1196" y2="567.9" stroke="#FF6A0A" stroke-width="3" stroke-linecap="butt" />
<circle cx="231.5" cy="928" r="9.6" fill="url(#gO)" />
<circle cx="279.4" cy="921.1" r="9.6" fill="url(#gO)" />
<circle cx="327.2" cy="912.4" r="9.6" fill="url(#gO)" />
<circle cx="375.1" cy="904.8" r="9.6" fill="url(#gO)" />
<circle cx="422.9" cy="890.5" r="9.6" fill="url(#gO)" />
<circle cx="470.8" cy="873.6" r="9.6" fill="url(#gO)" />
<circle cx="518.6" cy="855.8" r="9.6" fill="url(#gO)" />
<circle cx="566.5" cy="833.5" r="9.6" fill="url(#gO)" />
<circle cx="614.3" cy="815.5" r="9.6" fill="url(#gO)" />
<circle cx="662.2" cy="796.5" r="9.6" fill="url(#gO)" />
<circle cx="710" cy="779.4" r="9.6" fill="url(#gO)" />
<circle cx="757.9" cy="753.9" r="9.6" fill="url(#gO)" />
<circle cx="805.7" cy="735.7" r="9.6" fill="url(#gO)" />
<circle cx="853.5" cy="716.7" r="9.6" fill="url(#gO)" />
<circle cx="877.5" cy="707.2" r="9.6" fill="url(#gO)" />
<circle cx="901.4" cy="698.8" r="9.6" fill="url(#gO)" />
<circle cx="925.3" cy="688.2" r="9.6" fill="url(#gO)" />
<circle cx="949.2" cy="676.8" r="9.6" fill="url(#gO)" />
<circle cx="973.2" cy="667.3" r="9.6" fill="url(#gO)" />
<circle cx="997.1" cy="652.1" r="9.6" fill="url(#gO)" />
<circle cx="1021" cy="641.1" r="9.6" fill="url(#gO)" />
<circle cx="1045" cy="627.4" r="9.6" fill="url(#gO)" />
<circle cx="1068.9" cy="617" r="9.6" fill="url(#gO)" />
<circle cx="1092.8" cy="609" r="9.6" fill="url(#gO)" />
<circle cx="1116.7" cy="599.3" r="9.6" fill="url(#gO)" />
<circle cx="1140.7" cy="584.8" r="9.6" fill="url(#gO)" />
<circle cx="1164.6" cy="572.3" r="9.6" fill="url(#gO)" />
<circle cx="1188.5" cy="560.3" r="9.6" fill="url(#gO)" />
<line x1="853.5" y1="654" x2="853.5" y2="676.8" stroke="#6E827F" stroke-width="3" stroke-linecap="butt" />
<line x1="846" y1="654" x2="861" y2="654" stroke="#6E827F" stroke-width="3" stroke-linecap="butt" />
<line x1="846" y1="676.8" x2="861" y2="676.8" stroke="#6E827F" stroke-width="3" stroke-linecap="butt" />
<line x1="1164.6" y1="482.2" x2="1164.6" y2="493.6" stroke="#6E827F" stroke-width="3" stroke-linecap="butt" />
<line x1="1157.1" y1="482.2" x2="1172.1" y2="482.2" stroke="#6E827F" stroke-width="3" stroke-linecap="butt" />
<line x1="1157.1" y1="493.6" x2="1172.1" y2="493.6" stroke="#6E827F" stroke-width="3" stroke-linecap="butt" />
<line x1="1188.5" y1="456.4" x2="1188.5" y2="483" stroke="#6E827F" stroke-width="3" stroke-linecap="butt" />
<line x1="1181" y1="456.4" x2="1196" y2="456.4" stroke="#6E827F" stroke-width="3" stroke-linecap="butt" />
<line x1="1181" y1="483" x2="1196" y2="483" stroke="#6E827F" stroke-width="3" stroke-linecap="butt" />
<circle cx="231.5" cy="906.7" r="9.6" fill="url(#gY)" />
<circle cx="279.4" cy="892.3" r="9.6" fill="url(#gY)" />
<circle cx="327.2" cy="877.4" r="9.6" fill="url(#gY)" />
<circle cx="375.1" cy="863" r="9.6" fill="url(#gY)" />
<circle cx="422.9" cy="842.1" r="9.6" fill="url(#gY)" />
<circle cx="470.8" cy="827.5" r="9.6" fill="url(#gY)" />
<circle cx="518.6" cy="811.7" r="9.6" fill="url(#gY)" />
<circle cx="566.5" cy="796.5" r="9.6" fill="url(#gY)" />
<circle cx="614.3" cy="772.6" r="9.6" fill="url(#gY)" />
<circle cx="662.2" cy="745.8" r="9.6" fill="url(#gY)" />
<circle cx="710" cy="727.1" r="9.6" fill="url(#gY)" />
<circle cx="757.9" cy="712.5" r="9.6" fill="url(#gY)" />
<circle cx="805.7" cy="695.8" r="9.6" fill="url(#gY)" />
<circle cx="853.5" cy="665.4" r="9.6" fill="url(#gY)" />
<circle cx="877.5" cy="646.8" r="9.6" fill="url(#gY)" />
<circle cx="901.4" cy="639.4" r="9.6" fill="url(#gY)" />
<circle cx="925.3" cy="624.4" r="9.6" fill="url(#gY)" />
<circle cx="949.2" cy="615.2" r="9.6" fill="url(#gY)" />
<circle cx="973.2" cy="605.7" r="9.6" fill="url(#gY)" />
<circle cx="997.1" cy="590.4" r="9.6" fill="url(#gY)" />
<circle cx="1021" cy="574.6" r="9.6" fill="url(#gY)" />
<circle cx="1045" cy="560" r="9.6" fill="url(#gY)" />
<circle cx="1068.9" cy="543.8" r="9.6" fill="url(#gY)" />
<circle cx="1092.8" cy="528.6" r="9.6" fill="url(#gY)" />
<circle cx="1116.7" cy="518" r="9.6" fill="url(#gY)" />
<circle cx="1140.7" cy="510.4" r="9.6" fill="url(#gY)" />
<circle cx="1164.6" cy="487.9" r="9.6" fill="url(#gY)" />
<circle cx="1188.5" cy="469.7" r="9.6" fill="url(#gY)" />
<polyline points="231.5,886.9 279.4,878.2 327.2,874.4 375.1,853.5 422.9,826.9 470.8,788.9 518.6,756.6 566.5,720.5 614.3,693.9 662.2,657.8 710,608.4 757.9,571 805.7,551.4 853.5,525.6 877.5,498.6 901.4,469.7 925.3,436.5 949.2,416.5 973.2,389.1 997.1,369 1021,348.1 1045,316.9 1068.9,297.6 1092.8,274.6 1116.7,244 1140.7,210.4 1164.6,177.9 1188.5,142.9" fill="none" stroke="#C46CFA" stroke-width="4.6" stroke-linejoin="round" />
<polyline points="231.5,888.5 279.4,878.2 327.2,872.5 375.1,861.7 422.9,849.7 470.8,838.3 518.6,826 566.5,806.8 614.3,780 662.2,760.4 710,737.6 757.9,673 805.7,608.4 853.5,561.9 877.5,536.2 901.4,520 925.3,498.2 949.2,476 973.2,451.8 997.1,423 1021,399.8 1045,391.4 1068.9,363.3 1092.8,341.6 1116.7,325.9 1140.7,308.2 1164.6,288.6 1188.5,272.1" fill="none" stroke="#66D8FB" stroke-width="4.6" stroke-linejoin="round" />
<polyline points="231.5,921.9 279.4,916.2 327.2,910.5 375.1,901 422.9,878.2 470.8,868.7 518.6,854.3 566.5,840.2 614.3,820.1 662.2,802.2 710,785.7 757.9,766.1 805.7,751.9 853.5,731 877.5,713.3 901.4,688.2 925.3,666.7 949.2,649.1 973.2,635 997.1,620.2 1021,604.6 1045,593.2 1068.9,579.9 1092.8,567.2 1116.7,551.4 1140.7,533.5 1164.6,522.3 1188.5,504.7" fill="none" stroke="#33BB00" stroke-width="4.6" stroke-linejoin="round" />
<polyline points="231.5,928 279.4,921.1 327.2,912.4 375.1,904.8 422.9,890.5 470.8,873.6 518.6,855.8 566.5,833.5 614.3,815.5 662.2,796.5 710,779.4 757.9,753.9 805.7,735.7 853.5,716.7 877.5,707.2 901.4,698.8 925.3,688.2 949.2,676.8 973.2,667.3 997.1,652.1 1021,641.1 1045,627.4 1068.9,617 1092.8,609 1116.7,599.3 1140.7,584.8 1164.6,572.3 1188.5,560.3" fill="none" stroke="#FF6A0A" stroke-width="4.6" stroke-linejoin="round" />
<polyline points="231.5,906.7 279.4,892.3 327.2,877.4 375.1,863 422.9,842.1 470.8,827.5 518.6,811.7 566.5,796.5 614.3,772.6 662.2,745.8 710,727.1 757.9,712.5 805.7,695.8 853.5,665.4 877.5,646.8 901.4,639.4 925.3,624.4 949.2,615.2 973.2,605.7 997.1,590.4 1021,574.6 1045,560 1068.9,543.8 1092.8,528.6 1116.7,518 1140.7,510.4 1164.6,487.9 1188.5,469.7" fill="none" stroke="#6E827F" stroke-width="4.6" stroke-linejoin="round" />
<rect x="208.5" y="84" width="1005" height="855" fill="none" stroke="#000" stroke-width="5" />
<line x1="193.5" y1="939" x2="208.5" y2="939" stroke="#000" stroke-width="5" stroke-linecap="butt" />
<text x="179.5" y="946.7" font-size="42" text-anchor="end" fill="#000" font-weight="normal" ><tspan>0</tspan></text>
<line x1="193.5" y1="844" x2="208.5" y2="844" stroke="#000" stroke-width="5" stroke-linecap="butt" />
<text x="179.5" y="851.7" font-size="42" text-anchor="end" fill="#000" font-weight="normal" ><tspan>50</tspan></text>
<line x1="193.5" y1="749" x2="208.5" y2="749" stroke="#000" stroke-width="5" stroke-linecap="butt" />
<text x="179.5" y="756.7" font-size="42" text-anchor="end" fill="#000" font-weight="normal" ><tspan>100</tspan></text>
<line x1="193.5" y1="654" x2="208.5" y2="654" stroke="#000" stroke-width="5" stroke-linecap="butt" />
<text x="179.5" y="661.7" font-size="42" text-anchor="end" fill="#000" font-weight="normal" ><tspan>150</tspan></text>
<line x1="193.5" y1="559" x2="208.5" y2="559" stroke="#000" stroke-width="5" stroke-linecap="butt" />
<text x="179.5" y="566.7" font-size="42" text-anchor="end" fill="#000" font-weight="normal" ><tspan>200</tspan></text>
<line x1="193.5" y1="464" x2="208.5" y2="464" stroke="#000" stroke-width="5" stroke-linecap="butt" />
<text x="179.5" y="471.7" font-size="42" text-anchor="end" fill="#000" font-weight="normal" ><tspan>250</tspan></text>
<line x1="193.5" y1="369" x2="208.5" y2="369" stroke="#000" stroke-width="5" stroke-linecap="butt" />
<text x="179.5" y="376.7" font-size="42" text-anchor="end" fill="#000" font-weight="normal" ><tspan>300</tspan></text>
<line x1="193.5" y1="274" x2="208.5" y2="274" stroke="#000" stroke-width="5" stroke-linecap="butt" />
<text x="179.5" y="281.7" font-size="42" text-anchor="end" fill="#000" font-weight="normal" ><tspan>350</tspan></text>
<line x1="193.5" y1="179" x2="208.5" y2="179" stroke="#000" stroke-width="5" stroke-linecap="butt" />
<text x="179.5" y="186.7" font-size="42" text-anchor="end" fill="#000" font-weight="normal" ><tspan>400</tspan></text>
<line x1="193.5" y1="84" x2="208.5" y2="84" stroke="#000" stroke-width="5" stroke-linecap="butt" />
<text x="179.5" y="91.7" font-size="42" text-anchor="end" fill="#000" font-weight="normal" ><tspan>450</tspan></text>
<line x1="1213.5" y1="939" x2="1228.5" y2="939" stroke="#000" stroke-width="5" stroke-linecap="butt" />
<text x="1241" y="946.7" font-size="42" text-anchor="start" fill="#000" font-weight="normal" ><tspan>0.0</tspan></text>
<line x1="1213.5" y1="796.5" x2="1228.5" y2="796.5" stroke="#000" stroke-width="5" stroke-linecap="butt" />
<text x="1241" y="804.2" font-size="42" text-anchor="start" fill="#000" font-weight="normal" ><tspan>0.3</tspan></text>
<line x1="1213.5" y1="654" x2="1228.5" y2="654" stroke="#000" stroke-width="5" stroke-linecap="butt" />
<text x="1241" y="661.7" font-size="42" text-anchor="start" fill="#000" font-weight="normal" ><tspan>0.6</tspan></text>
<line x1="1213.5" y1="511.5" x2="1228.5" y2="511.5" stroke="#000" stroke-width="5" stroke-linecap="butt" />
<text x="1241" y="519.2" font-size="42" text-anchor="start" fill="#000" font-weight="normal" ><tspan>0.9</tspan></text>
<line x1="1213.5" y1="369" x2="1228.5" y2="369" stroke="#000" stroke-width="5" stroke-linecap="butt" />
<text x="1241" y="376.7" font-size="42" text-anchor="start" fill="#000" font-weight="normal" ><tspan>1.2</tspan></text>
<line x1="1213.5" y1="226.5" x2="1228.5" y2="226.5" stroke="#000" stroke-width="5" stroke-linecap="butt" />
<text x="1241" y="234.2" font-size="42" text-anchor="start" fill="#000" font-weight="normal" ><tspan>1.5</tspan></text>
<line x1="1213.5" y1="84" x2="1228.5" y2="84" stroke="#000" stroke-width="5" stroke-linecap="butt" />
<text x="1241" y="91.7" font-size="42" text-anchor="start" fill="#000" font-weight="normal" ><tspan>1.8</tspan></text>
<line x1="231.5" y1="939" x2="231.5" y2="955" stroke="#000" stroke-width="5" stroke-linecap="butt" />
<text x="236.6" y="997.7" font-size="41.5" text-anchor="middle" fill="#000" font-weight="normal" ><tspan>-2.8</tspan></text>
<line x1="327.2" y1="939" x2="327.2" y2="955" stroke="#000" stroke-width="5" stroke-linecap="butt" />
<text x="330.9" y="997.7" font-size="41.5" text-anchor="middle" fill="#000" font-weight="normal" ><tspan>-3.0</tspan></text>
<line x1="422.9" y1="939" x2="422.9" y2="955" stroke="#000" stroke-width="5" stroke-linecap="butt" />
<text x="425.2" y="997.7" font-size="41.5" text-anchor="middle" fill="#000" font-weight="normal" ><tspan>-3.2</tspan></text>
<line x1="518.6" y1="939" x2="518.6" y2="955" stroke="#000" stroke-width="5" stroke-linecap="butt" />
<text x="519.5" y="997.7" font-size="41.5" text-anchor="middle" fill="#000" font-weight="normal" ><tspan>-3.4</tspan></text>
<line x1="614.3" y1="939" x2="614.3" y2="955" stroke="#000" stroke-width="5" stroke-linecap="butt" />
<text x="613.8" y="997.7" font-size="41.5" text-anchor="middle" fill="#000" font-weight="normal" ><tspan>-3.6</tspan></text>
<line x1="710" y1="939" x2="710" y2="955" stroke="#000" stroke-width="5" stroke-linecap="butt" />
<text x="708.1" y="997.7" font-size="41.5" text-anchor="middle" fill="#000" font-weight="normal" ><tspan>-3.8</tspan></text>
<line x1="805.7" y1="939" x2="805.7" y2="955" stroke="#000" stroke-width="5" stroke-linecap="butt" />
<text x="802.5" y="997.7" font-size="41.5" text-anchor="middle" fill="#000" font-weight="normal" ><tspan>-4.0</tspan></text>
<line x1="901.4" y1="939" x2="901.4" y2="955" stroke="#000" stroke-width="5" stroke-linecap="butt" />
<text x="896.8" y="997.7" font-size="41.5" text-anchor="middle" fill="#000" font-weight="normal" ><tspan>-4.2</tspan></text>
<line x1="997.1" y1="939" x2="997.1" y2="955" stroke="#000" stroke-width="5" stroke-linecap="butt" />
<text x="991.1" y="997.7" font-size="41.5" text-anchor="middle" fill="#000" font-weight="normal" ><tspan>-4.4</tspan></text>
<line x1="1092.8" y1="939" x2="1092.8" y2="955" stroke="#000" stroke-width="5" stroke-linecap="butt" />
<text x="1085.4" y="997.7" font-size="41.5" text-anchor="middle" fill="#000" font-weight="normal" ><tspan>-4.6</tspan></text>
<line x1="1188.5" y1="939" x2="1188.5" y2="955" stroke="#000" stroke-width="5" stroke-linecap="butt" />
<text x="1179.7" y="997.7" font-size="41.5" text-anchor="middle" fill="#000" font-weight="normal" ><tspan>-4.8</tspan></text>
<text x="757.5" y="1059.5" font-size="54.2" text-anchor="middle" fill="#000" font-weight="normal" ><tspan>Cell Voltage (V)</tspan></text>
<text x="84" y="515" font-size="54" text-anchor="middle" fill="#000" font-weight="normal" transform="rotate(-90 84 515)" ><tspan>j-total (mA cm</tspan><tspan font-size="36.2" dy="-19.4">-2</tspan><tspan dy="19.4"> )</tspan></text>
<text x="1357" y="487.5" font-size="54" text-anchor="middle" fill="#000" font-weight="normal" transform="rotate(-90 1357 487.5)" ><tspan>Total current (A )</tspan></text>
<line x1="245" y1="359.7" x2="335" y2="359.7" stroke="#C46CFA" stroke-width="5" stroke-linecap="butt" />
<circle cx="289.5" cy="359.7" r="14" fill="#fff" />
<circle cx="289.5" cy="359.7" r="9.6" fill="url(#gP)" />
<text x="349" y="369.3" font-size="52" text-anchor="start" fill="#000" font-weight="normal" ><tspan>N</tspan><tspan font-size="34.8" dy="8.3">2</tspan><tspan dy="-8.3">SN</tspan></text>
<line x1="245" y1="430.3" x2="335" y2="430.3" stroke="#66D8FB" stroke-width="5" stroke-linecap="butt" />
<circle cx="289.5" cy="430.3" r="14" fill="#fff" />
<circle cx="289.5" cy="430.3" r="9.6" fill="url(#gB)" />
<text x="353" y="446.4" font-size="52" text-anchor="start" fill="#000" font-weight="normal" ><tspan>N</tspan><tspan font-size="34.8" dy="8.3">3</tspan><tspan dy="-8.3">N</tspan></text>
<line x1="245" y1="500.3" x2="335" y2="500.3" stroke="#33BB00" stroke-width="5" stroke-linecap="butt" />
<circle cx="289.5" cy="500.3" r="14" fill="#fff" />
<circle cx="289.5" cy="500.3" r="9.6" fill="url(#gG)" />
<text x="351.5" y="526.8" font-size="52" text-anchor="start" fill="#000" font-weight="normal" ><tspan>C</tspan><tspan font-size="34.8" dy="8.3">2</tspan><tspan dy="-8.3">N</tspan></text>
<line x1="245" y1="570.5" x2="335" y2="570.5" stroke="#FF6A0A" stroke-width="5" stroke-linecap="butt" />
<circle cx="289.5" cy="570.5" r="14" fill="#fff" />
<circle cx="289.5" cy="570.5" r="9.6" fill="url(#gO)" />
<text x="355" y="593.7" font-size="52" text-anchor="start" fill="#000" font-weight="normal" ><tspan>C</tspan><tspan font-size="34.8" dy="8.3">3</tspan></text>
<line x1="245" y1="640" x2="335" y2="640" stroke="#6E827F" stroke-width="5" stroke-linecap="butt" />
<circle cx="289.5" cy="640" r="14" fill="#fff" />
<circle cx="289.5" cy="640" r="9.6" fill="url(#gY)" />
<text x="355" y="672.5" font-size="52" text-anchor="start" fill="#000" font-weight="normal" ><tspan>P</tspan></text>
<text x="38" y="83.5" font-size="68" text-anchor="start" fill="#000" font-weight="bold" ><tspan>a</tspan></text>
</g>
<g>
<line x1="1584.6" y1="156.2" x2="1584.6" y2="247.8" stroke="#C46CFA" stroke-width="3.2" stroke-linecap="butt" />
<line x1="1577.1" y1="156.2" x2="1592.1" y2="156.2" stroke="#C46CFA" stroke-width="3.2" stroke-linecap="butt" />
<line x1="1577.1" y1="247.8" x2="1592.1" y2="247.8" stroke="#C46CFA" stroke-width="3.2" stroke-linecap="butt" />
<line x1="1608.5" y1="171.5" x2="1608.5" y2="205" stroke="#C46CFA" stroke-width="3.2" stroke-linecap="butt" />
<line x1="1601" y1="171.5" x2="1616" y2="171.5" stroke="#C46CFA" stroke-width="3.2" stroke-linecap="butt" />
<line x1="1601" y1="205" x2="1616" y2="205" stroke="#C46CFA" stroke-width="3.2" stroke-linecap="butt" />
<line x1="1632.4" y1="146.1" x2="1632.4" y2="179.6" stroke="#C46CFA" stroke-width="3.2" stroke-linecap="butt" />
<line x1="1624.9" y1="146.1" x2="1639.9" y2="146.1" stroke="#C46CFA" stroke-width="3.2" stroke-linecap="butt" />
<line x1="1624.9" y1="179.6" x2="1639.9" y2="179.6" stroke="#C46CFA" stroke-width="3.2" stroke-linecap="butt" />
<line x1="1656.4" y1="137.4" x2="1656.4" y2="149.3" stroke="#C46CFA" stroke-width="3.2" stroke-linecap="butt" />
<line x1="1648.9" y1="137.4" x2="1663.9" y2="137.4" stroke="#C46CFA" stroke-width="3.2" stroke-linecap="butt" />
<line x1="1648.9" y1="149.3" x2="1663.9" y2="149.3" stroke="#C46CFA" stroke-width="3.2" stroke-linecap="butt" />
<line x1="1680.3" y1="129.9" x2="1680.3" y2="141.9" stroke="#C46CFA" stroke-width="3.2" stroke-linecap="butt" />
<line x1="1672.8" y1="129.9" x2="1687.8" y2="129.9" stroke="#C46CFA" stroke-width="3.2" stroke-linecap="butt" />
<line x1="1672.8" y1="141.9" x2="1687.8" y2="141.9" stroke="#C46CFA" stroke-width="3.2" stroke-linecap="butt" />
<line x1="1704.2" y1="121.2" x2="1704.2" y2="133.2" stroke="#C46CFA" stroke-width="3.2" stroke-linecap="butt" />
<line x1="1696.7" y1="121.2" x2="1711.7" y2="121.2" stroke="#C46CFA" stroke-width="3.2" stroke-linecap="butt" />
<line x1="1696.7" y1="133.2" x2="1711.7" y2="133.2" stroke="#C46CFA" stroke-width="3.2" stroke-linecap="butt" />
<line x1="1728.1" y1="120.3" x2="1728.1" y2="154.4" stroke="#C46CFA" stroke-width="3.2" stroke-linecap="butt" />
<line x1="1720.6" y1="120.3" x2="1735.6" y2="120.3" stroke="#C46CFA" stroke-width="3.2" stroke-linecap="butt" />
<line x1="1720.6" y1="154.4" x2="1735.6" y2="154.4" stroke="#C46CFA" stroke-width="3.2" stroke-linecap="butt" />
<line x1="1752.1" y1="169.7" x2="1752.1" y2="214" stroke="#C46CFA" stroke-width="3.2" stroke-linecap="butt" />
<line x1="1744.6" y1="169.7" x2="1759.6" y2="169.7" stroke="#C46CFA" stroke-width="3.2" stroke-linecap="butt" />
<line x1="1744.6" y1="214" x2="1759.6" y2="214" stroke="#C46CFA" stroke-width="3.2" stroke-linecap="butt" />
<line x1="1776" y1="195.5" x2="1776" y2="246.4" stroke="#C46CFA" stroke-width="3.2" stroke-linecap="butt" />
<line x1="1768.5" y1="195.5" x2="1783.5" y2="195.5" stroke="#C46CFA" stroke-width="3.2" stroke-linecap="butt" />
<line x1="1768.5" y1="246.4" x2="1783.5" y2="246.4" stroke="#C46CFA" stroke-width="3.2" stroke-linecap="butt" />
<line x1="1799.9" y1="260.4" x2="1799.9" y2="292.8" stroke="#C46CFA" stroke-width="3.2" stroke-linecap="butt" />
<line x1="1792.4" y1="260.4" x2="1807.4" y2="260.4" stroke="#C46CFA" stroke-width="3.2" stroke-linecap="butt" />
<line x1="1792.4" y1="292.8" x2="1807.4" y2="292.8" stroke="#C46CFA" stroke-width="3.2" stroke-linecap="butt" />
<line x1="1847.8" y1="364.9" x2="1847.8" y2="406.8" stroke="#C46CFA" stroke-width="3.2" stroke-linecap="butt" />
<line x1="1840.3" y1="364.9" x2="1855.3" y2="364.9" stroke="#C46CFA" stroke-width="3.2" stroke-linecap="butt" />
<line x1="1840.3" y1="406.8" x2="1855.3" y2="406.8" stroke="#C46CFA" stroke-width="3.2" stroke-linecap="butt" />
<line x1="1871.7" y1="422.1" x2="1871.7" y2="464" stroke="#C46CFA" stroke-width="3.2" stroke-linecap="butt" />
<line x1="1864.2" y1="422.1" x2="1879.2" y2="422.1" stroke="#C46CFA" stroke-width="3.2" stroke-linecap="butt" />
<line x1="1864.2" y1="464" x2="1879.2" y2="464" stroke="#C46CFA" stroke-width="3.2" stroke-linecap="butt" />
<line x1="1895.6" y1="473" x2="1895.6" y2="499.9" stroke="#C46CFA" stroke-width="3.2" stroke-linecap="butt" />
<line x1="1888.1" y1="473" x2="1903.1" y2="473" stroke="#C46CFA" stroke-width="3.2" stroke-linecap="butt" />
<line x1="1888.1" y1="499.9" x2="1903.1" y2="499.9" stroke="#C46CFA" stroke-width="3.2" stroke-linecap="butt" />
<line x1="1919.5" y1="524.2" x2="1919.5" y2="536.2" stroke="#C46CFA" stroke-width="3.2" stroke-linecap="butt" />
<line x1="1912" y1="524.2" x2="1927" y2="524.2" stroke="#C46CFA" stroke-width="3.2" stroke-linecap="butt" />
<line x1="1912" y1="536.2" x2="1927" y2="536.2" stroke="#C46CFA" stroke-width="3.2" stroke-linecap="butt" />
<line x1="1967.4" y1="557.1" x2="1967.4" y2="569.1" stroke="#C46CFA" stroke-width="3.2" stroke-linecap="butt" />
<line x1="1959.9" y1="557.1" x2="1974.9" y2="557.1" stroke="#C46CFA" stroke-width="3.2" stroke-linecap="butt" />
<line x1="1959.9" y1="569.1" x2="1974.9" y2="569.1" stroke="#C46CFA" stroke-width="3.2" stroke-linecap="butt" />
<line x1="2015.2" y1="572.4" x2="2015.2" y2="617.9" stroke="#C46CFA" stroke-width="3.2" stroke-linecap="butt" />
<line x1="2007.8" y1="572.4" x2="2022.8" y2="572.4" stroke="#C46CFA" stroke-width="3.2" stroke-linecap="butt" />
<line x1="2007.8" y1="617.9" x2="2022.8" y2="617.9" stroke="#C46CFA" stroke-width="3.2" stroke-linecap="butt" />
<line x1="2063.1" y1="607.7" x2="2063.1" y2="664.6" stroke="#C46CFA" stroke-width="3.2" stroke-linecap="butt" />
<line x1="2055.6" y1="607.7" x2="2070.6" y2="607.7" stroke="#C46CFA" stroke-width="3.2" stroke-linecap="butt" />
<line x1="2055.6" y1="664.6" x2="2070.6" y2="664.6" stroke="#C46CFA" stroke-width="3.2" stroke-linecap="butt" />
<line x1="2110.9" y1="649" x2="2110.9" y2="724.5" stroke="#C46CFA" stroke-width="3.2" stroke-linecap="butt" />
<line x1="2103.4" y1="649" x2="2118.4" y2="649" stroke="#C46CFA" stroke-width="3.2" stroke-linecap="butt" />
<line x1="2103.4" y1="724.5" x2="2118.4" y2="724.5" stroke="#C46CFA" stroke-width="3.2" stroke-linecap="butt" />
<line x1="2158.8" y1="693.1" x2="2158.8" y2="756.5" stroke="#C46CFA" stroke-width="3.2" stroke-linecap="butt" />
<line x1="2151.3" y1="693.1" x2="2166.3" y2="693.1" stroke="#C46CFA" stroke-width="3.2" stroke-linecap="butt" />
<line x1="2151.3" y1="756.5" x2="2166.3" y2="756.5" stroke="#C46CFA" stroke-width="3.2" stroke-linecap="butt" />
<line x1="2206.6" y1="737.4" x2="2206.6" y2="780.5" stroke="#C46CFA" stroke-width="3.2" stroke-linecap="butt" />
<line x1="2199.1" y1="737.4" x2="2214.1" y2="737.4" stroke="#C46CFA" stroke-width="3.2" stroke-linecap="butt" />
<line x1="2199.1" y1="780.5" x2="2214.1" y2="780.5" stroke="#C46CFA" stroke-width="3.2" stroke-linecap="butt" />
<line x1="2254.5" y1="777.2" x2="2254.5" y2="810.1" stroke="#C46CFA" stroke-width="3.2" stroke-linecap="butt" />
<line x1="2247" y1="777.2" x2="2262" y2="777.2" stroke="#C46CFA" stroke-width="3.2" stroke-linecap="butt" />
<line x1="2247" y1="810.1" x2="2262" y2="810.1" stroke="#C46CFA" stroke-width="3.2" stroke-linecap="butt" />
<line x1="2302.3" y1="818.2" x2="2302.3" y2="830.2" stroke="#C46CFA" stroke-width="3.2" stroke-linecap="butt" />
<line x1="2294.8" y1="818.2" x2="2309.8" y2="818.2" stroke="#C46CFA" stroke-width="3.2" stroke-linecap="butt" />
<line x1="2294.8" y1="830.2" x2="2309.8" y2="830.2" stroke="#C46CFA" stroke-width="3.2" stroke-linecap="butt" />
<line x1="2398" y1="866.7" x2="2398" y2="878.7" stroke="#C46CFA" stroke-width="3.2" stroke-linecap="butt" />
<line x1="2390.5" y1="866.7" x2="2405.5" y2="866.7" stroke="#C46CFA" stroke-width="3.2" stroke-linecap="butt" />
<line x1="2390.5" y1="878.7" x2="2405.5" y2="878.7" stroke="#C46CFA" stroke-width="3.2" stroke-linecap="butt" />
<line x1="1618.3" y1="177.8" x2="1622.7" y2="173.2" stroke="#C46CFA" stroke-width="5" stroke-linecap="butt" stroke-dasharray="58 9 5 9" stroke-dashoffset="41.9"/>
<line x1="1643.5" y1="153.8" x2="1645.3" y2="152.4" stroke="#C46CFA" stroke-width="5" stroke-linecap="butt" stroke-dasharray="58 9 5 9" stroke-dashoffset="76.8"/>
<line x1="1733.9" y1="150.5" x2="1746.3" y2="178.8" stroke="#C46CFA" stroke-width="5" stroke-linecap="butt" stroke-dasharray="58 9 5 9" stroke-dashoffset="184.2"/>
<line x1="1761.2" y1="202.9" x2="1766.9" y2="209.9" stroke="#C46CFA" stroke-width="5" stroke-linecap="butt" stroke-dasharray="58 9 5 9" stroke-dashoffset="243.7"/>
<line x1="1781.6" y1="234" x2="1794.3" y2="263.5" stroke="#C46CFA" stroke-width="5" stroke-linecap="butt" stroke-dasharray="58 9 5 9" stroke-dashoffset="281.3"/>
<line x1="1805.4" y1="289.8" x2="1818.4" y2="321.2" stroke="#C46CFA" stroke-width="5" stroke-linecap="butt" stroke-dasharray="58 9 5 9" stroke-dashoffset="341.9"/>
<line x1="1829.9" y1="347.3" x2="1841.7" y2="372.9" stroke="#C46CFA" stroke-width="5" stroke-linecap="butt" stroke-dasharray="58 9 5 9" stroke-dashoffset="404.5"/>
<line x1="1853.3" y1="399.1" x2="1866.2" y2="429.9" stroke="#C46CFA" stroke-width="5" stroke-linecap="butt" stroke-dasharray="58 9 5 9" stroke-dashoffset="461.3"/>
<line x1="1878.6" y1="455.6" x2="1888.7" y2="473.9" stroke="#C46CFA" stroke-width="5" stroke-linecap="butt" stroke-dasharray="58 9 5 9" stroke-dashoffset="523.3"/>
<line x1="1902.5" y1="499" x2="1912.7" y2="517.6" stroke="#C46CFA" stroke-width="5" stroke-linecap="butt" stroke-dasharray="58 9 5 9" stroke-dashoffset="572.8"/>
<line x1="1931.3" y1="538.3" x2="1955.6" y2="555" stroke="#C46CFA" stroke-width="5" stroke-linecap="butt" stroke-dasharray="58 9 5 9" stroke-dashoffset="622.7"/>
<line x1="1979.3" y1="571.1" x2="2003.4" y2="587.2" stroke="#C46CFA" stroke-width="5" stroke-linecap="butt" stroke-dasharray="58 9 5 9" stroke-dashoffset="680.7"/>
<line x1="2026.1" y1="604.5" x2="2052.2" y2="626.9" stroke="#C46CFA" stroke-width="5" stroke-linecap="butt" stroke-dasharray="58 9 5 9" stroke-dashoffset="738.3"/>
<line x1="2072.9" y1="646.6" x2="2101.1" y2="676.4" stroke="#C46CFA" stroke-width="5" stroke-linecap="butt" stroke-dasharray="58 9 5 9" stroke-dashoffset="801.4"/>
<line x1="2122.1" y1="695.7" x2="2147.6" y2="715.9" stroke="#C46CFA" stroke-width="5" stroke-linecap="butt" stroke-dasharray="58 9 5 9" stroke-dashoffset="871"/>
<line x1="2170.4" y1="733.1" x2="2195" y2="750.6" stroke="#C46CFA" stroke-width="5" stroke-linecap="butt" stroke-dasharray="58 9 5 9" stroke-dashoffset="932.1"/>
<line x1="2218.2" y1="767.3" x2="2242.9" y2="785.3" stroke="#C46CFA" stroke-width="5" stroke-linecap="butt" stroke-dasharray="58 9 5 9" stroke-dashoffset="990.9"/>
<line x1="2266.6" y1="801.3" x2="2290.3" y2="816.5" stroke="#C46CFA" stroke-width="5" stroke-linecap="butt" stroke-dasharray="58 9 5 9" stroke-dashoffset="1050"/>
<line x1="2314.2" y1="832.2" x2="2338.4" y2="848.8" stroke="#C46CFA" stroke-width="5" stroke-linecap="butt" stroke-dasharray="58 9 5 9" stroke-dashoffset="1106.8"/>
<line x1="2363.8" y1="861.3" x2="2384.5" y2="868.2" stroke="#C46CFA" stroke-width="5" stroke-linecap="butt" stroke-dasharray="58 9 5 9" stroke-dashoffset="1164.7"/>
<line x1="2411.8" y1="876.6" x2="2432.1" y2="882.3" stroke="#C46CFA" stroke-width="5" stroke-linecap="butt" stroke-dasharray="58 9 5 9" stroke-dashoffset="1215.1"/>
<line x1="2460" y1="888.7" x2="2479.7" y2="892.3" stroke="#C46CFA" stroke-width="5" stroke-linecap="butt" stroke-dasharray="58 9 5 9" stroke-dashoffset="1264.8"/>
<line x1="2507.9" y1="897" x2="2527.5" y2="899.9" stroke="#C46CFA" stroke-width="5" stroke-linecap="butt" stroke-dasharray="58 9 5 9" stroke-dashoffset="1313.5"/>
<circle cx="1584.6" cy="202" r="10" fill="url(#gP)" />
<circle cx="1608.5" cy="188.3" r="10" fill="url(#gP)" />
<circle cx="1632.4" cy="162.8" r="10" fill="url(#gP)" />
<circle cx="1656.4" cy="143.4" r="10" fill="url(#gP)" />
<circle cx="1680.3" cy="135.9" r="10" fill="url(#gP)" />
<circle cx="1704.2" cy="127.2" r="10" fill="url(#gP)" />
<circle cx="1728.1" cy="137.4" r="10" fill="url(#gP)" />
<circle cx="1752.1" cy="191.9" r="10" fill="url(#gP)" />
<circle cx="1776" cy="220.9" r="10" fill="url(#gP)" />
<circle cx="1799.9" cy="276.6" r="10" fill="url(#gP)" />
<circle cx="1823.8" cy="334.4" r="10" fill="url(#gP)" />
<circle cx="1847.8" cy="385.9" r="10" fill="url(#gP)" />
<circle cx="1871.7" cy="443.1" r="10" fill="url(#gP)" />
<circle cx="1895.6" cy="486.5" r="10" fill="url(#gP)" />
<circle cx="1919.5" cy="530.2" r="10" fill="url(#gP)" />
<circle cx="1967.4" cy="563.1" r="10" fill="url(#gP)" />
<circle cx="2015.2" cy="595.2" r="10" fill="url(#gP)" />
<circle cx="2063.1" cy="636.2" r="10" fill="url(#gP)" />
<circle cx="2110.9" cy="686.8" r="10" fill="url(#gP)" />
<circle cx="2158.8" cy="724.8" r="10" fill="url(#gP)" />
<circle cx="2206.6" cy="758.9" r="10" fill="url(#gP)" />
<circle cx="2254.5" cy="793.7" r="10" fill="url(#gP)" />
<circle cx="2302.3" cy="824.2" r="10" fill="url(#gP)" />
<circle cx="2350.2" cy="856.8" r="10" fill="url(#gP)" />
<circle cx="2398" cy="872.7" r="10" fill="url(#gP)" />
<circle cx="2445.9" cy="886.2" r="10" fill="url(#gP)" />
<circle cx="2493.8" cy="894.9" r="10" fill="url(#gP)" />
<circle cx="2541.6" cy="902" r="10" fill="url(#gP)" />
<line x1="1584.6" y1="330.2" x2="1584.6" y2="409.8" stroke="#82ECFA" stroke-width="3.2" stroke-linecap="butt" />
<line x1="1577.1" y1="330.2" x2="1592.1" y2="330.2" stroke="#82ECFA" stroke-width="3.2" stroke-linecap="butt" />
<line x1="1577.1" y1="409.8" x2="1592.1" y2="409.8" stroke="#82ECFA" stroke-width="3.2" stroke-linecap="butt" />
<line x1="1608.5" y1="326.9" x2="1608.5" y2="358.6" stroke="#82ECFA" stroke-width="3.2" stroke-linecap="butt" />
<line x1="1601" y1="326.9" x2="1616" y2="326.9" stroke="#82ECFA" stroke-width="3.2" stroke-linecap="butt" />
<line x1="1601" y1="358.6" x2="1616" y2="358.6" stroke="#82ECFA" stroke-width="3.2" stroke-linecap="butt" />
<line x1="1656.4" y1="279" x2="1656.4" y2="334.7" stroke="#82ECFA" stroke-width="3.2" stroke-linecap="butt" />
<line x1="1648.9" y1="279" x2="1663.9" y2="279" stroke="#82ECFA" stroke-width="3.2" stroke-linecap="butt" />
<line x1="1648.9" y1="334.7" x2="1663.9" y2="334.7" stroke="#82ECFA" stroke-width="3.2" stroke-linecap="butt" />
<line x1="1680.3" y1="246.9" x2="1680.3" y2="321.2" stroke="#82ECFA" stroke-width="3.2" stroke-linecap="butt" />
<line x1="1672.8" y1="246.9" x2="1687.8" y2="246.9" stroke="#82ECFA" stroke-width="3.2" stroke-linecap="butt" />
<line x1="1672.8" y1="321.2" x2="1687.8" y2="321.2" stroke="#82ECFA" stroke-width="3.2" stroke-linecap="butt" />
<line x1="1704.2" y1="246.6" x2="1704.2" y2="346.1" stroke="#82ECFA" stroke-width="3.2" stroke-linecap="butt" />
<line x1="1696.7" y1="246.6" x2="1711.7" y2="246.6" stroke="#82ECFA" stroke-width="3.2" stroke-linecap="butt" />
<line x1="1696.7" y1="346.1" x2="1711.7" y2="346.1" stroke="#82ECFA" stroke-width="3.2" stroke-linecap="butt" />
<line x1="1728.1" y1="286.2" x2="1728.1" y2="370" stroke="#82ECFA" stroke-width="3.2" stroke-linecap="butt" />
<line x1="1720.6" y1="286.2" x2="1735.6" y2="286.2" stroke="#82ECFA" stroke-width="3.2" stroke-linecap="butt" />
<line x1="1720.6" y1="370" x2="1735.6" y2="370" stroke="#82ECFA" stroke-width="3.2" stroke-linecap="butt" />
<line x1="1752.1" y1="317.6" x2="1752.1" y2="387.1" stroke="#82ECFA" stroke-width="3.2" stroke-linecap="butt" />
<line x1="1744.6" y1="317.6" x2="1759.6" y2="317.6" stroke="#82ECFA" stroke-width="3.2" stroke-linecap="butt" />
<line x1="1744.6" y1="387.1" x2="1759.6" y2="387.1" stroke="#82ECFA" stroke-width="3.2" stroke-linecap="butt" />
<line x1="1776" y1="346.9" x2="1776" y2="424.8" stroke="#82ECFA" stroke-width="3.2" stroke-linecap="butt" />
<line x1="1768.5" y1="346.9" x2="1783.5" y2="346.9" stroke="#82ECFA" stroke-width="3.2" stroke-linecap="butt" />
<line x1="1768.5" y1="424.8" x2="1783.5" y2="424.8" stroke="#82ECFA" stroke-width="3.2" stroke-linecap="butt" />
<line x1="1799.9" y1="391.3" x2="1799.9" y2="469.1" stroke="#82ECFA" stroke-width="3.2" stroke-linecap="butt" />
<line x1="1792.4" y1="391.3" x2="1807.4" y2="391.3" stroke="#82ECFA" stroke-width="3.2" stroke-linecap="butt" />
<line x1="1792.4" y1="469.1" x2="1807.4" y2="469.1" stroke="#82ECFA" stroke-width="3.2" stroke-linecap="butt" />
<line x1="1823.8" y1="438.3" x2="1823.8" y2="490.4" stroke="#82ECFA" stroke-width="3.2" stroke-linecap="butt" />
<line x1="1816.3" y1="438.3" x2="1831.3" y2="438.3" stroke="#82ECFA" stroke-width="3.2" stroke-linecap="butt" />
<line x1="1816.3" y1="490.4" x2="1831.3" y2="490.4" stroke="#82ECFA" stroke-width="3.2" stroke-linecap="butt" />
<line x1="1847.8" y1="460.1" x2="1847.8" y2="526" stroke="#82ECFA" stroke-width="3.2" stroke-linecap="butt" />
<line x1="1840.3" y1="460.1" x2="1855.3" y2="460.1" stroke="#82ECFA" stroke-width="3.2" stroke-linecap="butt" />
<line x1="1840.3" y1="526" x2="1855.3" y2="526" stroke="#82ECFA" stroke-width="3.2" stroke-linecap="butt" />
<line x1="1871.7" y1="489.2" x2="1871.7" y2="565.2" stroke="#82ECFA" stroke-width="3.2" stroke-linecap="butt" />
<line x1="1864.2" y1="489.2" x2="1879.2" y2="489.2" stroke="#82ECFA" stroke-width="3.2" stroke-linecap="butt" />
<line x1="1864.2" y1="565.2" x2="1879.2" y2="565.2" stroke="#82ECFA" stroke-width="3.2" stroke-linecap="butt" />
<line x1="1895.6" y1="510.7" x2="1895.6" y2="598.1" stroke="#82ECFA" stroke-width="3.2" stroke-linecap="butt" />
<line x1="1888.1" y1="510.7" x2="1903.1" y2="510.7" stroke="#82ECFA" stroke-width="3.2" stroke-linecap="butt" />
<line x1="1888.1" y1="598.1" x2="1903.1" y2="598.1" stroke="#82ECFA" stroke-width="3.2" stroke-linecap="butt" />
<line x1="1919.5" y1="532.6" x2="1919.5" y2="628.4" stroke="#82ECFA" stroke-width="3.2" stroke-linecap="butt" />
<line x1="1912" y1="532.6" x2="1927" y2="532.6" stroke="#82ECFA" stroke-width="3.2" stroke-linecap="butt" />
<line x1="1912" y1="628.4" x2="1927" y2="628.4" stroke="#82ECFA" stroke-width="3.2" stroke-linecap="butt" />
<line x1="1967.4" y1="596.3" x2="1967.4" y2="645.5" stroke="#82ECFA" stroke-width="3.2" stroke-linecap="butt" />
<line x1="1959.9" y1="596.3" x2="1974.9" y2="596.3" stroke="#82ECFA" stroke-width="3.2" stroke-linecap="butt" />
<line x1="1959.9" y1="645.5" x2="1974.9" y2="645.5" stroke="#82ECFA" stroke-width="3.2" stroke-linecap="butt" />
<line x1="2015.2" y1="683.5" x2="2015.2" y2="695.5" stroke="#82ECFA" stroke-width="3.2" stroke-linecap="butt" />
<line x1="2007.8" y1="683.5" x2="2022.8" y2="683.5" stroke="#82ECFA" stroke-width="3.2" stroke-linecap="butt" />
<line x1="2007.8" y1="695.5" x2="2022.8" y2="695.5" stroke="#82ECFA" stroke-width="3.2" stroke-linecap="butt" />
<line x1="2063.1" y1="739.8" x2="2063.1" y2="751.7" stroke="#82ECFA" stroke-width="3.2" stroke-linecap="butt" />
<line x1="2055.6" y1="739.8" x2="2070.6" y2="739.8" stroke="#82ECFA" stroke-width="3.2" stroke-linecap="butt" />
<line x1="2055.6" y1="751.7" x2="2070.6" y2="751.7" stroke="#82ECFA" stroke-width="3.2" stroke-linecap="butt" />
<line x1="2110.9" y1="767" x2="2110.9" y2="779" stroke="#82ECFA" stroke-width="3.2" stroke-linecap="butt" />
<line x1="2103.4" y1="767" x2="2118.4" y2="767" stroke="#82ECFA" stroke-width="3.2" stroke-linecap="butt" />
<line x1="2103.4" y1="779" x2="2118.4" y2="779" stroke="#82ECFA" stroke-width="3.2" stroke-linecap="butt" />
<line x1="2158.8" y1="790.7" x2="2158.8" y2="814.6" stroke="#82ECFA" stroke-width="3.2" stroke-linecap="butt" />
<line x1="2151.3" y1="790.7" x2="2166.3" y2="790.7" stroke="#82ECFA" stroke-width="3.2" stroke-linecap="butt" />
<line x1="2151.3" y1="814.6" x2="2166.3" y2="814.6" stroke="#82ECFA" stroke-width="3.2" stroke-linecap="butt" />
<line x1="2206.6" y1="823.3" x2="2206.6" y2="841.3" stroke="#82ECFA" stroke-width="3.2" stroke-linecap="butt" />
<line x1="2199.1" y1="823.3" x2="2214.1" y2="823.3" stroke="#82ECFA" stroke-width="3.2" stroke-linecap="butt" />
<line x1="2199.1" y1="841.3" x2="2214.1" y2="841.3" stroke="#82ECFA" stroke-width="3.2" stroke-linecap="butt" />
<line x1="2254.5" y1="856.2" x2="2254.5" y2="868.2" stroke="#82ECFA" stroke-width="3.2" stroke-linecap="butt" />
<line x1="2247" y1="856.2" x2="2262" y2="856.2" stroke="#82ECFA" stroke-width="3.2" stroke-linecap="butt" />
<line x1="2247" y1="868.2" x2="2262" y2="868.2" stroke="#82ECFA" stroke-width="3.2" stroke-linecap="butt" />
<line x1="2302.3" y1="865.8" x2="2302.3" y2="880.8" stroke="#82ECFA" stroke-width="3.2" stroke-linecap="butt" />
<line x1="2294.8" y1="865.8" x2="2309.8" y2="865.8" stroke="#82ECFA" stroke-width="3.2" stroke-linecap="butt" />
<line x1="2294.8" y1="880.8" x2="2309.8" y2="880.8" stroke="#82ECFA" stroke-width="3.2" stroke-linecap="butt" />
<line x1="2350.2" y1="877.2" x2="2350.2" y2="892.2" stroke="#82ECFA" stroke-width="3.2" stroke-linecap="butt" />
<line x1="2342.7" y1="877.2" x2="2357.7" y2="877.2" stroke="#82ECFA" stroke-width="3.2" stroke-linecap="butt" />
<line x1="2342.7" y1="892.2" x2="2357.7" y2="892.2" stroke="#82ECFA" stroke-width="3.2" stroke-linecap="butt" />
<line x1="1594" y1="359.3" x2="1599.1" y2="353.5" stroke="#82ECFA" stroke-width="5" stroke-linecap="butt" stroke-dasharray="58 9 5 9" stroke-dashoffset="14.3"/>
<line x1="1618.6" y1="332.6" x2="1622.4" y2="328.7" stroke="#82ECFA" stroke-width="5" stroke-linecap="butt" stroke-dasharray="58 9 5 9" stroke-dashoffset="50.6"/>
<line x1="1666.7" y1="297" x2="1669.9" y2="293.9" stroke="#82ECFA" stroke-width="5" stroke-linecap="butt" stroke-dasharray="58 9 5 9" stroke-dashoffset="111.2"/>
<line x1="1712.8" y1="307.8" x2="1719.5" y2="316.7" stroke="#82ECFA" stroke-width="5" stroke-linecap="butt" stroke-dasharray="58 9 5 9" stroke-dashoffset="171.2"/>
<line x1="1738.2" y1="338.3" x2="1742" y2="342.2" stroke="#82ECFA" stroke-width="5" stroke-linecap="butt" stroke-dasharray="58 9 5 9" stroke-dashoffset="210.9"/>
<line x1="1760.4" y1="364" x2="1767.7" y2="374.2" stroke="#82ECFA" stroke-width="5" stroke-linecap="butt" stroke-dasharray="58 9 5 9" stroke-dashoffset="245"/>
<line x1="1782.8" y1="398.5" x2="1793.1" y2="417.6" stroke="#82ECFA" stroke-width="5" stroke-linecap="butt" stroke-dasharray="58 9 5 9" stroke-dashoffset="286.2"/>
<line x1="1808.1" y1="441.9" x2="1815.6" y2="452.6" stroke="#82ECFA" stroke-width="5" stroke-linecap="butt" stroke-dasharray="58 9 5 9" stroke-dashoffset="336.5"/>
<line x1="1833" y1="475.3" x2="1838.6" y2="482.1" stroke="#82ECFA" stroke-width="5" stroke-linecap="butt" stroke-dasharray="58 9 5 9" stroke-dashoffset="378.2"/>
<line x1="1856" y1="504.8" x2="1863.5" y2="515.5" stroke="#82ECFA" stroke-width="5" stroke-linecap="butt" stroke-dasharray="58 9 5 9" stroke-dashoffset="415.6"/>
<line x1="1881.1" y1="537.9" x2="1886.2" y2="543.7" stroke="#82ECFA" stroke-width="5" stroke-linecap="butt" stroke-dasharray="58 9 5 9" stroke-dashoffset="457.3"/>
<line x1="1905.3" y1="565" x2="1909.9" y2="569.9" stroke="#82ECFA" stroke-width="5" stroke-linecap="butt" stroke-dasharray="58 9 5 9" stroke-dashoffset="493.5"/>
<line x1="1930.5" y1="589.7" x2="1956.5" y2="611.7" stroke="#82ECFA" stroke-width="5" stroke-linecap="butt" stroke-dasharray="58 9 5 9" stroke-dashoffset="528.9"/>
<line x1="1975.6" y1="632.6" x2="2007.1" y2="677.7" stroke="#82ECFA" stroke-width="5" stroke-linecap="butt" stroke-dasharray="58 9 5 9" stroke-dashoffset="591.5"/>
<line x1="2024.5" y1="700.4" x2="2053.8" y2="734.9" stroke="#82ECFA" stroke-width="5" stroke-linecap="butt" stroke-dasharray="58 9 5 9" stroke-dashoffset="675.2"/>
<line x1="2075.5" y1="752.8" x2="2098.5" y2="765.9" stroke="#82ECFA" stroke-width="5" stroke-linecap="butt" stroke-dasharray="58 9 5 9" stroke-dashoffset="749"/>
<line x1="2123.1" y1="780.5" x2="2146.6" y2="795.1" stroke="#82ECFA" stroke-width="5" stroke-linecap="butt" stroke-dasharray="58 9 5 9" stroke-dashoffset="804.1"/>
<line x1="2171" y1="810.2" x2="2194.5" y2="824.7" stroke="#82ECFA" stroke-width="5" stroke-linecap="butt" stroke-dasharray="58 9 5 9" stroke-dashoffset="860.4"/>
<line x1="2218.8" y1="839.9" x2="2242.4" y2="854.6" stroke="#82ECFA" stroke-width="5" stroke-linecap="butt" stroke-dasharray="58 9 5 9" stroke-dashoffset="916.7"/>
<line x1="2268.4" y1="865.4" x2="2288.4" y2="870.1" stroke="#82ECFA" stroke-width="5" stroke-linecap="butt" stroke-dasharray="58 9 5 9" stroke-dashoffset="973.1"/>
<line x1="2316.3" y1="876.6" x2="2336.3" y2="881.4" stroke="#82ECFA" stroke-width="5" stroke-linecap="butt" stroke-dasharray="58 9 5 9" stroke-dashoffset="1022.2"/>
<line x1="2364.2" y1="887.6" x2="2384.1" y2="891.9" stroke="#82ECFA" stroke-width="5" stroke-linecap="butt" stroke-dasharray="58 9 5 9" stroke-dashoffset="1071.4"/>
<line x1="2412" y1="897.8" x2="2431.9" y2="902.1" stroke="#82ECFA" stroke-width="5" stroke-linecap="butt" stroke-dasharray="58 9 5 9" stroke-dashoffset="1120.3"/>
<line x1="2460" y1="907.2" x2="2479.6" y2="910.3" stroke="#82ECFA" stroke-width="5" stroke-linecap="butt" stroke-dasharray="58 9 5 9" stroke-dashoffset="1169.3"/>
<line x1="2507.9" y1="914.6" x2="2527.4" y2="917.4" stroke="#82ECFA" stroke-width="5" stroke-linecap="butt" stroke-dasharray="58 9 5 9" stroke-dashoffset="1217.7"/>
<circle cx="1584.6" cy="370" r="10" fill="url(#gC)" />
<circle cx="1608.5" cy="342.8" r="10" fill="url(#gC)" />
<circle cx="1632.4" cy="318.5" r="10" fill="url(#gC)" />
<circle cx="1656.4" cy="306.8" r="10" fill="url(#gC)" />
<circle cx="1680.3" cy="284.1" r="10" fill="url(#gC)" />
<circle cx="1704.2" cy="296.4" r="10" fill="url(#gC)" />
<circle cx="1728.1" cy="328.1" r="10" fill="url(#gC)" />
<circle cx="1752.1" cy="352.3" r="10" fill="url(#gC)" />
<circle cx="1776" cy="385.9" r="10" fill="url(#gC)" />
<circle cx="1799.9" cy="430.2" r="10" fill="url(#gC)" />
<circle cx="1823.8" cy="464.3" r="10" fill="url(#gC)" />
<circle cx="1847.8" cy="493.1" r="10" fill="url(#gC)" />
<circle cx="1871.7" cy="527.2" r="10" fill="url(#gC)" />
<circle cx="1895.6" cy="554.4" r="10" fill="url(#gC)" />
<circle cx="1919.5" cy="580.5" r="10" fill="url(#gC)" />
<circle cx="1967.4" cy="620.9" r="10" fill="url(#gC)" />
<circle cx="2015.2" cy="689.5" r="10" fill="url(#gC)" />
<circle cx="2063.1" cy="745.7" r="10" fill="url(#gC)" />
<circle cx="2110.9" cy="773" r="10" fill="url(#gC)" />
<circle cx="2158.8" cy="802.6" r="10" fill="url(#gC)" />
<circle cx="2206.6" cy="832.3" r="10" fill="url(#gC)" />
<circle cx="2254.5" cy="862.2" r="10" fill="url(#gC)" />
<circle cx="2302.3" cy="873.3" r="10" fill="url(#gC)" />
<circle cx="2350.2" cy="884.7" r="10" fill="url(#gC)" />
<circle cx="2398" cy="894.9" r="10" fill="url(#gC)" />
<circle cx="2445.9" cy="905" r="10" fill="url(#gC)" />
<circle cx="2493.8" cy="912.5" r="10" fill="url(#gC)" />
<circle cx="2541.6" cy="919.4" r="10" fill="url(#gC)" />
<line x1="1680.3" y1="733.5" x2="1680.3" y2="751.4" stroke="#33BB00" stroke-width="3.2" stroke-linecap="butt" />
<line x1="1672.8" y1="733.5" x2="1687.8" y2="733.5" stroke="#33BB00" stroke-width="3.2" stroke-linecap="butt" />
<line x1="1672.8" y1="751.4" x2="1687.8" y2="751.4" stroke="#33BB00" stroke-width="3.2" stroke-linecap="butt" />
<line x1="1752.1" y1="780.5" x2="1752.1" y2="801.4" stroke="#33BB00" stroke-width="3.2" stroke-linecap="butt" />
<line x1="1744.6" y1="780.5" x2="1759.6" y2="780.5" stroke="#33BB00" stroke-width="3.2" stroke-linecap="butt" />
<line x1="1744.6" y1="801.4" x2="1759.6" y2="801.4" stroke="#33BB00" stroke-width="3.2" stroke-linecap="butt" />
<line x1="1776" y1="791" x2="1776" y2="817.9" stroke="#33BB00" stroke-width="3.2" stroke-linecap="butt" />
<line x1="1768.5" y1="791" x2="1783.5" y2="791" stroke="#33BB00" stroke-width="3.2" stroke-linecap="butt" />
<line x1="1768.5" y1="817.9" x2="1783.5" y2="817.9" stroke="#33BB00" stroke-width="3.2" stroke-linecap="butt" />
<line x1="1799.9" y1="801.7" x2="1799.9" y2="828.7" stroke="#33BB00" stroke-width="3.2" stroke-linecap="butt" />
<line x1="1792.4" y1="801.7" x2="1807.4" y2="801.7" stroke="#33BB00" stroke-width="3.2" stroke-linecap="butt" />
<line x1="1792.4" y1="828.7" x2="1807.4" y2="828.7" stroke="#33BB00" stroke-width="3.2" stroke-linecap="butt" />
<line x1="1823.8" y1="808.6" x2="1823.8" y2="841.6" stroke="#33BB00" stroke-width="3.2" stroke-linecap="butt" />
<line x1="1816.3" y1="808.6" x2="1831.3" y2="808.6" stroke="#33BB00" stroke-width="3.2" stroke-linecap="butt" />
<line x1="1816.3" y1="841.6" x2="1831.3" y2="841.6" stroke="#33BB00" stroke-width="3.2" stroke-linecap="butt" />
<line x1="1847.8" y1="823.6" x2="1847.8" y2="859.5" stroke="#33BB00" stroke-width="3.2" stroke-linecap="butt" />
<line x1="1840.3" y1="823.6" x2="1855.3" y2="823.6" stroke="#33BB00" stroke-width="3.2" stroke-linecap="butt" />
<line x1="1840.3" y1="859.5" x2="1855.3" y2="859.5" stroke="#33BB00" stroke-width="3.2" stroke-linecap="butt" />
<line x1="1871.7" y1="839.2" x2="1871.7" y2="866.1" stroke="#33BB00" stroke-width="3.2" stroke-linecap="butt" />
<line x1="1864.2" y1="839.2" x2="1879.2" y2="839.2" stroke="#33BB00" stroke-width="3.2" stroke-linecap="butt" />
<line x1="1864.2" y1="866.1" x2="1879.2" y2="866.1" stroke="#33BB00" stroke-width="3.2" stroke-linecap="butt" />
<line x1="1895.6" y1="857.4" x2="1895.6" y2="875.4" stroke="#33BB00" stroke-width="3.2" stroke-linecap="butt" />
<line x1="1888.1" y1="857.4" x2="1903.1" y2="857.4" stroke="#33BB00" stroke-width="3.2" stroke-linecap="butt" />
<line x1="1888.1" y1="875.4" x2="1903.1" y2="875.4" stroke="#33BB00" stroke-width="3.2" stroke-linecap="butt" />
<line x1="1919.5" y1="872.7" x2="1919.5" y2="884.7" stroke="#33BB00" stroke-width="3.2" stroke-linecap="butt" />
<line x1="1912" y1="872.7" x2="1927" y2="872.7" stroke="#33BB00" stroke-width="3.2" stroke-linecap="butt" />
<line x1="1912" y1="884.7" x2="1927" y2="884.7" stroke="#33BB00" stroke-width="3.2" stroke-linecap="butt" />
<line x1="1967.4" y1="877.2" x2="1967.4" y2="889.2" stroke="#33BB00" stroke-width="3.2" stroke-linecap="butt" />
<line x1="1959.9" y1="877.2" x2="1974.9" y2="877.2" stroke="#33BB00" stroke-width="3.2" stroke-linecap="butt" />
<line x1="1959.9" y1="889.2" x2="1974.9" y2="889.2" stroke="#33BB00" stroke-width="3.2" stroke-linecap="butt" />
<line x1="2015.2" y1="884.4" x2="2015.2" y2="896.3" stroke="#33BB00" stroke-width="3.2" stroke-linecap="butt" />
<line x1="2007.8" y1="884.4" x2="2022.8" y2="884.4" stroke="#33BB00" stroke-width="3.2" stroke-linecap="butt" />
<line x1="2007.8" y1="896.3" x2="2022.8" y2="896.3" stroke="#33BB00" stroke-width="3.2" stroke-linecap="butt" />
<line x1="1714.5" y1="764.4" x2="1717.9" y2="767.6" stroke="#33BB00" stroke-width="5" stroke-linecap="butt" />
<line x1="1933.8" y1="880" x2="1953.2" y2="881.8" stroke="#33BB00" stroke-width="5" stroke-linecap="butt" />
<line x1="1981.5" y1="885.3" x2="2001.1" y2="888.2" stroke="#33BB00" stroke-width="5" stroke-linecap="butt" />
<line x1="2029.4" y1="892.6" x2="2049" y2="895.6" stroke="#33BB00" stroke-width="5" stroke-linecap="butt" />
<line x1="2077.3" y1="899.4" x2="2096.7" y2="901.4" stroke="#33BB00" stroke-width="5" stroke-linecap="butt" />
<line x1="2125.2" y1="903.8" x2="2144.5" y2="905" stroke="#33BB00" stroke-width="5" stroke-linecap="butt" />
<line x1="2173.1" y1="906.6" x2="2192.4" y2="907.4" stroke="#33BB00" stroke-width="5" stroke-linecap="butt" />
<line x1="2220.9" y1="909" x2="2240.2" y2="910.3" stroke="#33BB00" stroke-width="5" stroke-linecap="butt" />
<line x1="2268.8" y1="911.7" x2="2288.1" y2="912.2" stroke="#33BB00" stroke-width="5" stroke-linecap="butt" />
<line x1="2316.6" y1="913.2" x2="2335.9" y2="914.2" stroke="#33BB00" stroke-width="5" stroke-linecap="butt" />
<line x1="2364.5" y1="915.6" x2="2383.8" y2="916.6" stroke="#33BB00" stroke-width="5" stroke-linecap="butt" />
<line x1="2412.3" y1="917.7" x2="2431.6" y2="918.1" stroke="#33BB00" stroke-width="5" stroke-linecap="butt" />
<line x1="2460.2" y1="918.8" x2="2479.5" y2="919.1" stroke="#33BB00" stroke-width="5" stroke-linecap="butt" />
<line x1="2508" y1="919.7" x2="2527.3" y2="920" stroke="#33BB00" stroke-width="5" stroke-linecap="butt" />
<circle cx="1584.6" cy="750.5" r="10" fill="#33BB00" />
<circle cx="1608.5" cy="747.2" r="10" fill="#33BB00" />
<circle cx="1632.4" cy="744" r="10" fill="#33BB00" />
<circle cx="1656.4" cy="745.5" r="10" fill="#33BB00" />
<circle cx="1680.3" cy="742.5" r="10" fill="#33BB00" />
<circle cx="1704.2" cy="754.4" r="10" fill="#33BB00" />
<circle cx="1728.1" cy="777.5" r="10" fill="#33BB00" />
<circle cx="1752.1" cy="791" r="10" fill="#33BB00" />
<circle cx="1776" cy="804.4" r="10" fill="#33BB00" />
<circle cx="1799.9" cy="815.2" r="10" fill="#33BB00" />
<circle cx="1823.8" cy="825.1" r="10" fill="#33BB00" />
<circle cx="1847.8" cy="841.6" r="10" fill="#33BB00" />
<circle cx="1871.7" cy="852.6" r="10" fill="#33BB00" />
<circle cx="1895.6" cy="866.4" r="10" fill="#33BB00" />
<circle cx="1919.5" cy="878.7" r="10" fill="#33BB00" />
<circle cx="1967.4" cy="883.2" r="10" fill="#33BB00" />
<circle cx="2015.2" cy="890.4" r="10" fill="#33BB00" />
<circle cx="2063.1" cy="897.8" r="10" fill="#33BB00" />
<circle cx="2110.9" cy="902.9" r="10" fill="#33BB00" />
<circle cx="2158.8" cy="905.9" r="10" fill="#33BB00" />
<circle cx="2206.6" cy="908" r="10" fill="#33BB00" />
<circle cx="2254.5" cy="911.3" r="10" fill="#33BB00" />
<circle cx="2302.3" cy="912.5" r="10" fill="#33BB00" />
<circle cx="2350.2" cy="914.9" r="10" fill="#33BB00" />
<circle cx="2398" cy="917.3" r="10" fill="#33BB00" />
<circle cx="2445.9" cy="918.5" r="10" fill="#33BB00" />
<circle cx="2493.8" cy="919.4" r="10" fill="#33BB00" />
<circle cx="2541.6" cy="920.3" r="10" fill="#33BB00" />
<line x1="1933.8" y1="895" x2="1953.2" y2="897.1" stroke="#FF6A0A" stroke-width="5" stroke-linecap="butt" />
<line x1="1981.5" y1="901" x2="2001.1" y2="904.2" stroke="#FF6A0A" stroke-width="5" stroke-linecap="butt" />
<line x1="2029.5" y1="907.5" x2="2048.8" y2="908.8" stroke="#FF6A0A" stroke-width="5" stroke-linecap="butt" />
<line x1="2077.3" y1="911.1" x2="2096.7" y2="912.8" stroke="#FF6A0A" stroke-width="5" stroke-linecap="butt" />
<line x1="2125.2" y1="914.6" x2="2144.5" y2="915.5" stroke="#FF6A0A" stroke-width="5" stroke-linecap="butt" />
<line x1="2173.1" y1="916.8" x2="2192.4" y2="917.8" stroke="#FF6A0A" stroke-width="5" stroke-linecap="butt" />
<line x1="2220.9" y1="919" x2="2240.2" y2="919.8" stroke="#FF6A0A" stroke-width="5" stroke-linecap="butt" />
<line x1="2268.8" y1="920.3" x2="2288" y2="920.3" stroke="#FF6A0A" stroke-width="5" stroke-linecap="butt" />
<line x1="2316.7" y1="920.3" x2="2335.9" y2="920.3" stroke="#FF6A0A" stroke-width="5" stroke-linecap="butt" />
<line x1="2364.5" y1="920.6" x2="2383.8" y2="920.9" stroke="#FF6A0A" stroke-width="5" stroke-linecap="butt" />
<line x1="2412.3" y1="921.6" x2="2431.6" y2="922" stroke="#FF6A0A" stroke-width="5" stroke-linecap="butt" />
<line x1="2460.2" y1="922.2" x2="2479.5" y2="922" stroke="#FF6A0A" stroke-width="5" stroke-linecap="butt" />
<line x1="2508" y1="921.5" x2="2527.3" y2="921.2" stroke="#FF6A0A" stroke-width="5" stroke-linecap="butt" />
<circle cx="1584.6" cy="827.8" r="10" fill="#FF6A0A" />
<circle cx="1608.5" cy="820.9" r="10" fill="#FF6A0A" />
<circle cx="1632.4" cy="814.6" r="10" fill="#FF6A0A" />
<circle cx="1656.4" cy="813.1" r="10" fill="#FF6A0A" />
<circle cx="1680.3" cy="809.5" r="10" fill="#FF6A0A" />
<circle cx="1704.2" cy="821.2" r="10" fill="#FF6A0A" />
<circle cx="1728.1" cy="834.1" r="10" fill="#FF6A0A" />
<circle cx="1752.1" cy="841.6" r="10" fill="#FF6A0A" />
<circle cx="1776" cy="850.2" r="10" fill="#FF6A0A" />
<circle cx="1799.9" cy="860.4" r="10" fill="#FF6A0A" />
<circle cx="1823.8" cy="870.3" r="10" fill="#FF6A0A" />
<circle cx="1847.8" cy="877.2" r="10" fill="#FF6A0A" />
<circle cx="1871.7" cy="882.9" r="10" fill="#FF6A0A" />
<circle cx="1895.6" cy="885.3" r="10" fill="#FF6A0A" />
<circle cx="1919.5" cy="893.4" r="10" fill="#FF6A0A" />
<circle cx="1967.4" cy="898.7" r="10" fill="#FF6A0A" />
<circle cx="2015.2" cy="906.5" r="10" fill="#FF6A0A" />
<circle cx="2063.1" cy="909.8" r="10" fill="#FF6A0A" />
<circle cx="2110.9" cy="914" r="10" fill="#FF6A0A" />
<circle cx="2158.8" cy="916.1" r="10" fill="#FF6A0A" />
<circle cx="2206.6" cy="918.5" r="10" fill="#FF6A0A" />
<circle cx="2254.5" cy="920.3" r="10" fill="#FF6A0A" />
<circle cx="2302.3" cy="920.3" r="10" fill="#FF6A0A" />
<circle cx="2350.2" cy="920.3" r="10" fill="#FF6A0A" />
<circle cx="2398" cy="921.2" r="10" fill="#FF6A0A" />
<circle cx="2445.9" cy="922.4" r="10" fill="#FF6A0A" />
<circle cx="2493.8" cy="921.8" r="10" fill="#FF6A0A" />
<circle cx="2541.6" cy="920.9" r="10" fill="#FF6A0A" />
<line x1="1728.1" y1="720.9" x2="1728.1" y2="749" stroke="#6E827F" stroke-width="3.2" stroke-linecap="butt" />
<line x1="1720.6" y1="720.9" x2="1735.6" y2="720.9" stroke="#6E827F" stroke-width="3.2" stroke-linecap="butt" />
<line x1="1720.6" y1="749" x2="1735.6" y2="749" stroke="#6E827F" stroke-width="3.2" stroke-linecap="butt" />
<line x1="1871.7" y1="808.6" x2="1871.7" y2="829.6" stroke="#6E827F" stroke-width="3.2" stroke-linecap="butt" />
<line x1="1864.2" y1="808.6" x2="1879.2" y2="808.6" stroke="#6E827F" stroke-width="3.2" stroke-linecap="butt" />
<line x1="1864.2" y1="829.6" x2="1879.2" y2="829.6" stroke="#6E827F" stroke-width="3.2" stroke-linecap="butt" />
<line x1="1691.8" y1="710.2" x2="1692.7" y2="710.9" stroke="#6E827F" stroke-width="5" stroke-linecap="butt" />
<line x1="1738.9" y1="744.4" x2="1741.3" y2="746.5" stroke="#6E827F" stroke-width="5" stroke-linecap="butt" />
<line x1="1786.6" y1="782.3" x2="1789.4" y2="784.9" stroke="#6E827F" stroke-width="5" stroke-linecap="butt" />
<line x1="1933.7" y1="846.7" x2="1953.3" y2="849.6" stroke="#6E827F" stroke-width="5" stroke-linecap="butt" />
<line x1="1981.5" y1="854.3" x2="2001.2" y2="857.9" stroke="#6E827F" stroke-width="5" stroke-linecap="butt" />
<line x1="2029.4" y1="862.2" x2="2048.9" y2="864.6" stroke="#6E827F" stroke-width="5" stroke-linecap="butt" />
<line x1="2077.3" y1="868.3" x2="2096.8" y2="870.8" stroke="#6E827F" stroke-width="5" stroke-linecap="butt" />
<line x1="2125.1" y1="874.6" x2="2144.6" y2="877.3" stroke="#6E827F" stroke-width="5" stroke-linecap="butt" />
<line x1="2173" y1="881.2" x2="2192.5" y2="883.9" stroke="#6E827F" stroke-width="5" stroke-linecap="butt" />
<line x1="2220.8" y1="888.2" x2="2240.4" y2="891.4" stroke="#6E827F" stroke-width="5" stroke-linecap="butt" />
<line x1="2268.7" y1="895.5" x2="2288.2" y2="898.1" stroke="#6E827F" stroke-width="5" stroke-linecap="butt" />
<line x1="2316.6" y1="901.5" x2="2336" y2="903.7" stroke="#6E827F" stroke-width="5" stroke-linecap="butt" />
<line x1="2364.4" y1="907.1" x2="2383.9" y2="909.5" stroke="#6E827F" stroke-width="5" stroke-linecap="butt" />
<line x1="2412.3" y1="912.4" x2="2431.6" y2="913.8" stroke="#6E827F" stroke-width="5" stroke-linecap="butt" />
<line x1="2460.2" y1="915.8" x2="2479.5" y2="917" stroke="#6E827F" stroke-width="5" stroke-linecap="butt" />
<line x1="2508" y1="918.6" x2="2527.3" y2="919.6" stroke="#6E827F" stroke-width="5" stroke-linecap="butt" />
<circle cx="1584.6" cy="713.7" r="10" fill="#6E827F" />
<circle cx="1608.5" cy="706.8" r="10" fill="#6E827F" />
<circle cx="1632.4" cy="699.6" r="10" fill="#6E827F" />
<circle cx="1656.4" cy="701.7" r="10" fill="#6E827F" />
<circle cx="1680.3" cy="701.7" r="10" fill="#6E827F" />
<circle cx="1704.2" cy="719.4" r="10" fill="#6E827F" />
<circle cx="1728.1" cy="735" r="10" fill="#6E827F" />
<circle cx="1752.1" cy="755.9" r="10" fill="#6E827F" />
<circle cx="1776" cy="772.7" r="10" fill="#6E827F" />
<circle cx="1799.9" cy="794.6" r="10" fill="#6E827F" />
<circle cx="1823.8" cy="806.5" r="10" fill="#6E827F" />
<circle cx="1847.8" cy="813.7" r="10" fill="#6E827F" />
<circle cx="1871.7" cy="819.1" r="10" fill="#6E827F" />
<circle cx="1895.6" cy="832.3" r="10" fill="#6E827F" />
<circle cx="1919.5" cy="844.6" r="10" fill="#6E827F" />
<circle cx="1967.4" cy="851.7" r="10" fill="#6E827F" />
<circle cx="2015.2" cy="860.4" r="10" fill="#6E827F" />
<circle cx="2063.1" cy="866.4" r="10" fill="#6E827F" />
<circle cx="2110.9" cy="872.7" r="10" fill="#6E827F" />
<circle cx="2158.8" cy="879.3" r="10" fill="#6E827F" />
<circle cx="2206.6" cy="885.9" r="10" fill="#6E827F" />
<circle cx="2254.5" cy="893.7" r="10" fill="#6E827F" />
<circle cx="2302.3" cy="899.9" r="10" fill="#6E827F" />
<circle cx="2350.2" cy="905.3" r="10" fill="#6E827F" />
<circle cx="2398" cy="911.3" r="10" fill="#6E827F" />
<circle cx="2445.9" cy="914.9" r="10" fill="#6E827F" />
<circle cx="2493.8" cy="917.9" r="10" fill="#6E827F" />
<circle cx="2541.6" cy="920.3" r="10" fill="#6E827F" />
<rect x="1561.2" y="80.8" width="1003.5" height="854.9" fill="none" stroke="#000" stroke-width="4.5" />
<line x1="1545.2" y1="920.3" x2="1561.2" y2="920.3" stroke="#000" stroke-width="4.5" stroke-linecap="butt" />
<text x="1530.5" y="928" font-size="42" text-anchor="end" fill="#000" font-weight="normal" ><tspan>0</tspan></text>
<line x1="1545.2" y1="770.6" x2="1561.2" y2="770.6" stroke="#000" stroke-width="4.5" stroke-linecap="butt" />
<text x="1530.5" y="778.3" font-size="42" text-anchor="end" fill="#000" font-weight="normal" ><tspan>50</tspan></text>
<line x1="1545.2" y1="620.9" x2="1561.2" y2="620.9" stroke="#000" stroke-width="4.5" stroke-linecap="butt" />
<text x="1530.5" y="628.6" font-size="42" text-anchor="end" fill="#000" font-weight="normal" ><tspan>100</tspan></text>
<line x1="1545.2" y1="471.2" x2="1561.2" y2="471.2" stroke="#000" stroke-width="4.5" stroke-linecap="butt" />
<text x="1530.5" y="478.9" font-size="42" text-anchor="end" fill="#000" font-weight="normal" ><tspan>150</tspan></text>
<line x1="1545.2" y1="321.5" x2="1561.2" y2="321.5" stroke="#000" stroke-width="4.5" stroke-linecap="butt" />
<text x="1530.5" y="329.2" font-size="42" text-anchor="end" fill="#000" font-weight="normal" ><tspan>200</tspan></text>
<line x1="1545.2" y1="171.8" x2="1561.2" y2="171.8" stroke="#000" stroke-width="4.5" stroke-linecap="butt" />
<text x="1530.5" y="179.5" font-size="42" text-anchor="end" fill="#000" font-weight="normal" ><tspan>250</tspan></text>
<line x1="1584.6" y1="935.7" x2="1584.6" y2="952.2" stroke="#000" stroke-width="4.5" stroke-linecap="butt" />
<text x="1588.4" y="992.2" font-size="41.5" text-anchor="middle" fill="#000" font-weight="normal" ><tspan>-4.8</tspan></text>
<line x1="1680.3" y1="935.7" x2="1680.3" y2="952.2" stroke="#000" stroke-width="4.5" stroke-linecap="butt" />
<text x="1682.6" y="992.2" font-size="41.5" text-anchor="middle" fill="#000" font-weight="normal" ><tspan>-4.6</tspan></text>
<line x1="1776" y1="935.7" x2="1776" y2="952.2" stroke="#000" stroke-width="4.5" stroke-linecap="butt" />
<text x="1776.8" y="992.2" font-size="41.5" text-anchor="middle" fill="#000" font-weight="normal" ><tspan>-4.4</tspan></text>
<line x1="1871.7" y1="935.7" x2="1871.7" y2="952.2" stroke="#000" stroke-width="4.5" stroke-linecap="butt" />
<text x="1870.9" y="992.2" font-size="41.5" text-anchor="middle" fill="#000" font-weight="normal" ><tspan>-4.2</tspan></text>
<line x1="1967.4" y1="935.7" x2="1967.4" y2="952.2" stroke="#000" stroke-width="4.5" stroke-linecap="butt" />
<text x="1965.1" y="992.2" font-size="41.5" text-anchor="middle" fill="#000" font-weight="normal" ><tspan>-4.0</tspan></text>
<line x1="2063.1" y1="935.7" x2="2063.1" y2="952.2" stroke="#000" stroke-width="4.5" stroke-linecap="butt" />
<text x="2059.3" y="992.2" font-size="41.5" text-anchor="middle" fill="#000" font-weight="normal" ><tspan>-3.8</tspan></text>
<line x1="2158.8" y1="935.7" x2="2158.8" y2="952.2" stroke="#000" stroke-width="4.5" stroke-linecap="butt" />
<text x="2153.5" y="992.2" font-size="41.5" text-anchor="middle" fill="#000" font-weight="normal" ><tspan>-3.6</tspan></text>
<line x1="2254.5" y1="935.7" x2="2254.5" y2="952.2" stroke="#000" stroke-width="4.5" stroke-linecap="butt" />
<text x="2247.7" y="992.2" font-size="41.5" text-anchor="middle" fill="#000" font-weight="normal" ><tspan>-3.4</tspan></text>
<line x1="2350.2" y1="935.7" x2="2350.2" y2="952.2" stroke="#000" stroke-width="4.5" stroke-linecap="butt" />
<text x="2341.8" y="992.2" font-size="41.5" text-anchor="middle" fill="#000" font-weight="normal" ><tspan>-3.2</tspan></text>
<line x1="2445.9" y1="935.7" x2="2445.9" y2="952.2" stroke="#000" stroke-width="4.5" stroke-linecap="butt" />
<text x="2436" y="992.2" font-size="41.5" text-anchor="middle" fill="#000" font-weight="normal" ><tspan>-3.0</tspan></text>
<line x1="2541.6" y1="935.7" x2="2541.6" y2="952.2" stroke="#000" stroke-width="4.5" stroke-linecap="butt" />
<text x="2530.2" y="992.2" font-size="41.5" text-anchor="middle" fill="#000" font-weight="normal" ><tspan>-2.8</tspan></text>
<text x="2028.5" y="1053" font-size="54.2" text-anchor="middle" fill="#000" font-weight="normal" ><tspan>Cell Voltage (V)</tspan></text>
<text x="1436" y="472" font-size="54" text-anchor="middle" fill="#000" font-weight="normal" transform="rotate(-90 1436 472)" ><tspan>j-C</tspan><tspan font-size="36.2" dy="8.6">2+</tspan><tspan dy="-8.6"> (mA cm</tspan><tspan font-size="36.2" dy="-19.4">-2</tspan><tspan dy="19.4">)</tspan></text>
<line x1="2293.8" y1="161.3" x2="2383.9" y2="161.3" stroke="#C46CFA" stroke-width="5.5" stroke-linecap="butt" />
<circle cx="2338.4" cy="161.3" r="14" fill="#fff" />
<circle cx="2338.4" cy="161.3" r="10" fill="url(#gP)" />
<text x="2397.5" y="178.2" font-size="52" text-anchor="start" fill="#000" font-weight="normal" ><tspan>N</tspan><tspan font-size="34.8" dy="8.3">2</tspan><tspan dy="-8.3">SN</tspan></text>
<line x1="2293.8" y1="231.7" x2="2383.9" y2="231.7" stroke="#82ECFA" stroke-width="5.5" stroke-linecap="butt" />
<circle cx="2338.4" cy="231.7" r="14" fill="#fff" />
<circle cx="2338.4" cy="231.7" r="10" fill="url(#gC)" />
<text x="2400.5" y="242.7" font-size="52" text-anchor="start" fill="#000" font-weight="normal" ><tspan>N</tspan><tspan font-size="34.8" dy="8.3">3</tspan><tspan dy="-8.3">N</tspan></text>
<line x1="2293.8" y1="301.6" x2="2383.9" y2="301.6" stroke="#33BB00" stroke-width="5.5" stroke-linecap="butt" />
<circle cx="2338.4" cy="301.6" r="14" fill="#fff" />
<circle cx="2338.4" cy="301.6" r="10" fill="#33BB00" />
<text x="2390.3" y="319.4" font-size="52" text-anchor="start" fill="#000" font-weight="normal" ><tspan>C</tspan><tspan font-size="34.8" dy="8.3">2</tspan><tspan dy="-8.3">N</tspan></text>
<line x1="2293.8" y1="372" x2="2383.9" y2="372" stroke="#FF6A0A" stroke-width="5.5" stroke-linecap="butt" />
<circle cx="2338.4" cy="372" r="14" fill="#fff" />
<circle cx="2338.4" cy="372" r="10" fill="#FF6A0A" />
<text x="2407.2" y="396.7" font-size="52" text-anchor="start" fill="#000" font-weight="normal" ><tspan>C</tspan><tspan font-size="34.8" dy="8.3">3</tspan></text>
<line x1="2293.8" y1="441.9" x2="2383.9" y2="441.9" stroke="#6E827F" stroke-width="5.5" stroke-linecap="butt" />
<circle cx="2338.4" cy="441.9" r="14" fill="#fff" />
<circle cx="2338.4" cy="441.9" r="10" fill="#6E827F" />
<text x="2408.1" y="469.5" font-size="52" text-anchor="start" fill="#000" font-weight="normal" ><tspan>P</tspan></text>
<text x="2368" y="586.3" font-size="52" text-anchor="start" fill="#000" font-weight="normal" ><tspan>C</tspan><tspan font-size="34.8" dy="7.8">2+</tspan></text>
<text x="1394" y="76" font-size="68" text-anchor="start" fill="#000" font-weight="bold" ><tspan>b</tspan></text>
</g>
<g>
<line x1="2927.4" y1="485.5" x2="2927.4" y2="456.1" stroke="#C46CFA" stroke-width="3.5" stroke-linecap="butt" />
<line x1="2920.4" y1="456.1" x2="2934.4" y2="456.1" stroke="#C46CFA" stroke-width="3.5" stroke-linecap="butt" />
<rect x="2910.3" y="485.5" width="34.2" height="451" fill="#C46CFA" stroke="#0c0c0c" stroke-width="2.2" stroke-linejoin="round"/>
<line x1="2966.3" y1="541.5" x2="2966.3" y2="523.5" stroke="#66D9FC" stroke-width="3.5" stroke-linecap="butt" />
<line x1="2959.3" y1="523.5" x2="2973.3" y2="523.5" stroke="#66D9FC" stroke-width="3.5" stroke-linecap="butt" />
<rect x="2949.2" y="541.5" width="34.2" height="395" fill="#66D9FC" stroke="#0c0c0c" stroke-width="2.2" stroke-linejoin="round"/>
<line x1="3005.2" y1="866.1" x2="3005.2" y2="848" stroke="#33BB00" stroke-width="3.5" stroke-linecap="butt" />
<line x1="2998.2" y1="848" x2="3012.2" y2="848" stroke="#33BB00" stroke-width="3.5" stroke-linecap="butt" />
<rect x="2988.1" y="866.1" width="34.2" height="70.4" fill="#33BB00" stroke="#0c0c0c" stroke-width="2.2" stroke-linejoin="round"/>
<line x1="3044.1" y1="922.1" x2="3044.1" y2="918.3" stroke="#FF6A0A" stroke-width="3.5" stroke-linecap="butt" />
<line x1="3037.1" y1="918.3" x2="3051.1" y2="918.3" stroke="#FF6A0A" stroke-width="3.5" stroke-linecap="butt" />
<rect x="3027" y="922.1" width="34.2" height="14.4" fill="#FF6A0A" stroke="#0c0c0c" stroke-width="2.2" stroke-linejoin="round"/>
<line x1="3083" y1="790.2" x2="3083" y2="776.9" stroke="#6E827F" stroke-width="3.5" stroke-linecap="butt" />
<line x1="3076" y1="776.9" x2="3090" y2="776.9" stroke="#6E827F" stroke-width="3.5" stroke-linecap="butt" />
<rect x="3065.9" y="790.2" width="34.2" height="146.3" fill="#6E827F" stroke="#0c0c0c" stroke-width="2.2" stroke-linejoin="round"/>
<line x1="3156.4" y1="381.1" x2="3156.4" y2="361.2" stroke="#C46CFA" stroke-width="3.5" stroke-linecap="butt" />
<line x1="3149.4" y1="361.2" x2="3163.4" y2="361.2" stroke="#C46CFA" stroke-width="3.5" stroke-linecap="butt" />
<rect x="3139.3" y="381.1" width="34.2" height="555.4" fill="#C46CFA" stroke="#0c0c0c" stroke-width="2.2" stroke-linejoin="round"/>
<line x1="3195.3" y1="384" x2="3195.3" y2="332.7" stroke="#66D9FC" stroke-width="3.5" stroke-linecap="butt" />
<line x1="3188.3" y1="332.7" x2="3202.3" y2="332.7" stroke="#66D9FC" stroke-width="3.5" stroke-linecap="butt" />
<rect x="3178.2" y="384" width="34.2" height="552.5" fill="#66D9FC" stroke="#0c0c0c" stroke-width="2.2" stroke-linejoin="round"/>
<line x1="3234.2" y1="820.5" x2="3234.2" y2="796.8" stroke="#33BB00" stroke-width="3.5" stroke-linecap="butt" />
<line x1="3227.2" y1="796.8" x2="3241.2" y2="796.8" stroke="#33BB00" stroke-width="3.5" stroke-linecap="butt" />
<rect x="3217.1" y="820.5" width="34.2" height="116" fill="#33BB00" stroke="#0c0c0c" stroke-width="2.2" stroke-linejoin="round"/>
<line x1="3273.1" y1="870.8" x2="3273.1" y2="868" stroke="#FF6A0A" stroke-width="3.5" stroke-linecap="butt" />
<line x1="3266.1" y1="868" x2="3280.1" y2="868" stroke="#FF6A0A" stroke-width="3.5" stroke-linecap="butt" />
<rect x="3256" y="870.8" width="34.2" height="65.7" fill="#FF6A0A" stroke="#0c0c0c" stroke-width="2.2" stroke-linejoin="round"/>
<line x1="3312" y1="766.4" x2="3312" y2="750.3" stroke="#6E827F" stroke-width="3.5" stroke-linecap="butt" />
<line x1="3305" y1="750.3" x2="3319" y2="750.3" stroke="#6E827F" stroke-width="3.5" stroke-linecap="butt" />
<rect x="3294.9" y="766.4" width="34.2" height="170.1" fill="#6E827F" stroke="#0c0c0c" stroke-width="2.2" stroke-linejoin="round"/>
<line x1="3385.4" y1="178" x2="3385.4" y2="156.2" stroke="#C46CFA" stroke-width="3.5" stroke-linecap="butt" />
<line x1="3378.4" y1="156.2" x2="3392.4" y2="156.2" stroke="#C46CFA" stroke-width="3.5" stroke-linecap="butt" />
<rect x="3368.3" y="178" width="34.2" height="758.5" fill="#C46CFA" stroke="#0c0c0c" stroke-width="2.2" stroke-linejoin="round"/>
<line x1="3424.3" y1="288.1" x2="3424.3" y2="250.2" stroke="#66D9FC" stroke-width="3.5" stroke-linecap="butt" />
<line x1="3417.3" y1="250.2" x2="3431.3" y2="250.2" stroke="#66D9FC" stroke-width="3.5" stroke-linecap="butt" />
<rect x="3407.2" y="288.1" width="34.2" height="648.4" fill="#66D9FC" stroke="#0c0c0c" stroke-width="2.2" stroke-linejoin="round"/>
<line x1="3463.2" y1="689.6" x2="3463.2" y2="681.5" stroke="#33BB00" stroke-width="3.5" stroke-linecap="butt" />
<line x1="3456.2" y1="681.5" x2="3470.2" y2="681.5" stroke="#33BB00" stroke-width="3.5" stroke-linecap="butt" />
<rect x="3446.1" y="689.6" width="34.2" height="246.9" fill="#33BB00" stroke="#0c0c0c" stroke-width="2.2" stroke-linejoin="round"/>
<line x1="3502.1" y1="770.7" x2="3502.1" y2="766.9" stroke="#FF6A0A" stroke-width="3.5" stroke-linecap="butt" />
<line x1="3495.1" y1="766.9" x2="3509.1" y2="766.9" stroke="#FF6A0A" stroke-width="3.5" stroke-linecap="butt" />
<rect x="3485" y="770.7" width="34.2" height="165.8" fill="#FF6A0A" stroke="#0c0c0c" stroke-width="2.2" stroke-linejoin="round"/>
<line x1="3541" y1="643.1" x2="3541" y2="623.1" stroke="#6E827F" stroke-width="3.5" stroke-linecap="butt" />
<line x1="3534" y1="623.1" x2="3548" y2="623.1" stroke="#6E827F" stroke-width="3.5" stroke-linecap="butt" />
<rect x="3523.9" y="643.1" width="34.2" height="293.4" fill="#6E827F" stroke="#0c0c0c" stroke-width="2.2" stroke-linejoin="round"/>
<line x1="3614.4" y1="394.4" x2="3614.4" y2="362.2" stroke="#C46CFA" stroke-width="3.5" stroke-linecap="butt" />
<line x1="3607.4" y1="362.2" x2="3621.4" y2="362.2" stroke="#C46CFA" stroke-width="3.5" stroke-linecap="butt" />
<rect x="3597.3" y="394.4" width="34.2" height="542.1" fill="#C46CFA" stroke="#0c0c0c" stroke-width="2.2" stroke-linejoin="round"/>
<line x1="3653.3" y1="440.9" x2="3653.3" y2="427.6" stroke="#66D9FC" stroke-width="3.5" stroke-linecap="butt" />
<line x1="3646.3" y1="427.6" x2="3660.3" y2="427.6" stroke="#66D9FC" stroke-width="3.5" stroke-linecap="butt" />
<rect x="3636.2" y="440.9" width="34.2" height="495.6" fill="#66D9FC" stroke="#0c0c0c" stroke-width="2.2" stroke-linejoin="round"/>
<line x1="3692.2" y1="702.4" x2="3692.2" y2="700.5" stroke="#33BB00" stroke-width="3.5" stroke-linecap="butt" />
<line x1="3685.2" y1="700.5" x2="3699.2" y2="700.5" stroke="#33BB00" stroke-width="3.5" stroke-linecap="butt" />
<rect x="3675.1" y="702.4" width="34.2" height="234.1" fill="#33BB00" stroke="#0c0c0c" stroke-width="2.2" stroke-linejoin="round"/>
<line x1="3731.1" y1="789.7" x2="3731.1" y2="784.9" stroke="#FF6A0A" stroke-width="3.5" stroke-linecap="butt" />
<line x1="3724.1" y1="784.9" x2="3738.1" y2="784.9" stroke="#FF6A0A" stroke-width="3.5" stroke-linecap="butt" />
<rect x="3714" y="789.7" width="34.2" height="146.8" fill="#FF6A0A" stroke="#0c0c0c" stroke-width="2.2" stroke-linejoin="round"/>
<line x1="3770" y1="672.5" x2="3770" y2="662" stroke="#6E827F" stroke-width="3.5" stroke-linecap="butt" />
<line x1="3763" y1="662" x2="3777" y2="662" stroke="#6E827F" stroke-width="3.5" stroke-linecap="butt" />
<rect x="3752.9" y="672.5" width="34.2" height="264" fill="#6E827F" stroke="#0c0c0c" stroke-width="2.2" stroke-linejoin="round"/>
<rect x="2813.2" y="82.3" width="1072.4" height="854.2" fill="none" stroke="#000" stroke-width="4.6" />
<line x1="2798.2" y1="936.5" x2="2813.2" y2="936.5" stroke="#000" stroke-width="4.6" stroke-linecap="butt" />
<line x1="2798.2" y1="936.3" x2="2813.2" y2="936.3" stroke="#000" stroke-width="4.6" stroke-linecap="butt" />
<text x="2791.5" y="946.8" font-size="42" text-anchor="end" fill="#000" font-weight="normal" ><tspan>0</tspan></text>
<line x1="2804.7" y1="841.4" x2="2813.2" y2="841.4" stroke="#000" stroke-width="4.2" stroke-linecap="butt" />
<line x1="2798.2" y1="746.5" x2="2813.2" y2="746.5" stroke="#000" stroke-width="4.6" stroke-linecap="butt" />
<text x="2791.5" y="757" font-size="42" text-anchor="end" fill="#000" font-weight="normal" ><tspan>20</tspan></text>
<line x1="2804.7" y1="651.6" x2="2813.2" y2="651.6" stroke="#000" stroke-width="4.2" stroke-linecap="butt" />
<line x1="2798.2" y1="556.7" x2="2813.2" y2="556.7" stroke="#000" stroke-width="4.6" stroke-linecap="butt" />
<text x="2791.5" y="567.2" font-size="42" text-anchor="end" fill="#000" font-weight="normal" ><tspan>40</tspan></text>
<line x1="2804.7" y1="461.8" x2="2813.2" y2="461.8" stroke="#000" stroke-width="4.2" stroke-linecap="butt" />
<line x1="2798.2" y1="366.9" x2="2813.2" y2="366.9" stroke="#000" stroke-width="4.6" stroke-linecap="butt" />
<text x="2791.5" y="377.4" font-size="42" text-anchor="end" fill="#000" font-weight="normal" ><tspan>60</tspan></text>
<line x1="2804.7" y1="272" x2="2813.2" y2="272" stroke="#000" stroke-width="4.2" stroke-linecap="butt" />
<line x1="2798.2" y1="177.1" x2="2813.2" y2="177.1" stroke="#000" stroke-width="4.6" stroke-linecap="butt" />
<text x="2791.5" y="187.6" font-size="42" text-anchor="end" fill="#000" font-weight="normal" ><tspan>80</tspan></text>
<line x1="2966.4" y1="936.5" x2="2966.4" y2="951" stroke="#000" stroke-width="4.6" stroke-linecap="butt" />
<text x="2969.7" y="988.3" font-size="41.5" text-anchor="middle" fill="#000" font-weight="normal" ><tspan>-3.5</tspan></text>
<line x1="3195.2" y1="936.5" x2="3195.2" y2="951" stroke="#000" stroke-width="4.6" stroke-linecap="butt" />
<text x="3198.5" y="988.3" font-size="41.5" text-anchor="middle" fill="#000" font-weight="normal" ><tspan>-4.0</tspan></text>
<line x1="3424" y1="936.5" x2="3424" y2="951" stroke="#000" stroke-width="4.6" stroke-linecap="butt" />
<text x="3427.3" y="988.3" font-size="41.5" text-anchor="middle" fill="#000" font-weight="normal" ><tspan>-4.5</tspan></text>
<line x1="3652.8" y1="936.5" x2="3652.8" y2="951" stroke="#000" stroke-width="4.6" stroke-linecap="butt" />
<text x="3656.1" y="988.3" font-size="41.5" text-anchor="middle" fill="#000" font-weight="normal" ><tspan>-4.8</tspan></text>
<text x="3339.5" y="1057" font-size="54.2" text-anchor="middle" fill="#000" font-weight="normal" ><tspan>Cell voltage (V)</tspan></text>
<text x="2683" y="477" font-size="54" text-anchor="middle" fill="#000" font-weight="normal" transform="rotate(-90 2683 477)" ><tspan>FE-C</tspan><tspan font-size="36.2" dy="8.6">2+</tspan><tspan dy="-8.6">(%)</tspan></text>
<rect x="2858.8" y="95.5" width="82.5" height="38.6" fill="#C46CFA" stroke="#1a1a1a" stroke-width="2" />
<text x="2944" y="131.3" font-size="46.5" text-anchor="start" fill="#000" font-weight="normal" ><tspan>N</tspan><tspan font-size="31.2" dy="7.4">2</tspan><tspan dy="-7.4">SN</tspan></text>
<rect x="3082.6" y="97" width="82.5" height="38.6" fill="#66D9FC" stroke="#1a1a1a" stroke-width="2" />
<text x="3166.5" y="131.3" font-size="46.5" text-anchor="start" fill="#000" font-weight="normal" ><tspan>N</tspan><tspan font-size="31.2" dy="7.4">3</tspan><tspan dy="-7.4">N</tspan></text>
<rect x="3286.2" y="94.6" width="82.5" height="38.6" fill="#33BB00" stroke="#1a1a1a" stroke-width="2" />
<text x="3370" y="131.3" font-size="46.5" text-anchor="start" fill="#000" font-weight="normal" ><tspan>C</tspan><tspan font-size="31.2" dy="7.4">2</tspan><tspan dy="-7.4">N</tspan></text>
<rect x="3481.9" y="95.5" width="82.5" height="38.6" fill="#FF6A0A" stroke="#1a1a1a" stroke-width="2" />
<text x="3566.5" y="131.3" font-size="46.5" text-anchor="start" fill="#000" font-weight="normal" ><tspan>C</tspan><tspan font-size="31.2" dy="7.4">3</tspan></text>
<rect x="3672.1" y="94.6" width="82.5" height="38.6" fill="#6E827F" stroke="#1a1a1a" stroke-width="2" />
<text x="3757.3" y="131.3" font-size="46.5" text-anchor="start" fill="#000" font-weight="normal" ><tspan>P</tspan></text>
<text x="2685.5" y="77.2" font-size="68" text-anchor="start" fill="#000" font-weight="bold" ><tspan>c</tspan></text>
</g>
<g>
<polyline points="352,1924.7 422.6,1874.4 493.3,1780.4 564,1713.1 634.6,1588.1 705.2,1525 775.9,1443.8 846.6,1375.5 917.2,1342.3 987.9,1338.1 1058.5,1427.8 1129.2,1441.7 1199.8,1443.8" fill="none" stroke="#FF4F80" stroke-width="3.3" stroke-linejoin="round" />
<polygon points="352,1909 367.7,1924.7 352,1940.4 336.3,1924.7" fill="#FF4F80" stroke="#fff" stroke-width="8" paint-order="stroke" stroke-linejoin="miter"/>
<polygon points="422.6,1858.7 438.3,1874.4 422.6,1890.1 406.9,1874.4" fill="#FF4F80" stroke="#fff" stroke-width="8" paint-order="stroke" stroke-linejoin="miter"/>
<polygon points="493.3,1764.7 509,1780.4 493.3,1796.1 477.6,1780.4" fill="#FF4F80" stroke="#fff" stroke-width="8" paint-order="stroke" stroke-linejoin="miter"/>
<polygon points="564,1697.4 579.7,1713.1 564,1728.8 548.2,1713.1" fill="#FF4F80" stroke="#fff" stroke-width="8" paint-order="stroke" stroke-linejoin="miter"/>
<polygon points="634.6,1572.4 650.3,1588.1 634.6,1603.8 618.9,1588.1" fill="#FF4F80" stroke="#fff" stroke-width="8" paint-order="stroke" stroke-linejoin="miter"/>
<polygon points="705.2,1509.3 721,1525 705.2,1540.7 689.5,1525" fill="#FF4F80" stroke="#fff" stroke-width="8" paint-order="stroke" stroke-linejoin="miter"/>
<polygon points="775.9,1428.1 791.6,1443.8 775.9,1459.5 760.2,1443.8" fill="#FF4F80" stroke="#fff" stroke-width="8" paint-order="stroke" stroke-linejoin="miter"/>
<polygon points="846.6,1359.8 862.3,1375.5 846.6,1391.2 830.9,1375.5" fill="#FF4F80" stroke="#fff" stroke-width="8" paint-order="stroke" stroke-linejoin="miter"/>
<polygon points="917.2,1326.6 932.9,1342.3 917.2,1358 901.5,1342.3" fill="#FF4F80" stroke="#fff" stroke-width="8" paint-order="stroke" stroke-linejoin="miter"/>
<polygon points="987.9,1322.4 1003.6,1338.1 987.9,1353.8 972.1,1338.1" fill="#FF4F80" stroke="#fff" stroke-width="8" paint-order="stroke" stroke-linejoin="miter"/>
<polygon points="1058.5,1412.1 1074.2,1427.8 1058.5,1443.5 1042.8,1427.8" fill="#FF4F80" stroke="#fff" stroke-width="8" paint-order="stroke" stroke-linejoin="miter"/>
<polygon points="1129.2,1426 1144.9,1441.7 1129.2,1457.4 1113.5,1441.7" fill="#FF4F80" stroke="#fff" stroke-width="8" paint-order="stroke" stroke-linejoin="miter"/>
<polygon points="1199.8,1428.1 1215.5,1443.8 1199.8,1459.5 1184.1,1443.8" fill="#FF4F80" stroke="#fff" stroke-width="8" paint-order="stroke" stroke-linejoin="miter"/>
<polyline points="352,1190.6 422.6,1245.1 493.3,1341.3 564,1459.9 634.6,1547.5 705.2,1621.2 775.9,1713.1 846.6,1752.6 917.2,1770.8 987.9,1742 1058.5,1735.5 1129.2,1732.3 1199.8,1737.7" fill="none" stroke="#269F72" stroke-width="3.3" stroke-linejoin="round" />
<polygon points="352,1174.9 367.7,1190.6 352,1206.3 336.3,1190.6" fill="#269F72" stroke="#fff" stroke-width="8" paint-order="stroke" stroke-linejoin="miter"/>
<polygon points="422.6,1229.4 438.3,1245.1 422.6,1260.8 406.9,1245.1" fill="#269F72" stroke="#fff" stroke-width="8" paint-order="stroke" stroke-linejoin="miter"/>
<polygon points="493.3,1325.6 509,1341.3 493.3,1357 477.6,1341.3" fill="#269F72" stroke="#fff" stroke-width="8" paint-order="stroke" stroke-linejoin="miter"/>
<polygon points="564,1444.2 579.7,1459.9 564,1475.6 548.2,1459.9" fill="#269F72" stroke="#fff" stroke-width="8" paint-order="stroke" stroke-linejoin="miter"/>
<polygon points="634.6,1531.8 650.3,1547.5 634.6,1563.2 618.9,1547.5" fill="#269F72" stroke="#fff" stroke-width="8" paint-order="stroke" stroke-linejoin="miter"/>
<polygon points="705.2,1605.5 721,1621.2 705.2,1636.9 689.5,1621.2" fill="#269F72" stroke="#fff" stroke-width="8" paint-order="stroke" stroke-linejoin="miter"/>
<polygon points="775.9,1697.4 791.6,1713.1 775.9,1728.8 760.2,1713.1" fill="#269F72" stroke="#fff" stroke-width="8" paint-order="stroke" stroke-linejoin="miter"/>
<polygon points="846.6,1736.9 862.3,1752.6 846.6,1768.3 830.9,1752.6" fill="#269F72" stroke="#fff" stroke-width="8" paint-order="stroke" stroke-linejoin="miter"/>
<polygon points="917.2,1755.1 932.9,1770.8 917.2,1786.5 901.5,1770.8" fill="#269F72" stroke="#fff" stroke-width="8" paint-order="stroke" stroke-linejoin="miter"/>
<polygon points="987.9,1726.3 1003.6,1742 987.9,1757.7 972.1,1742" fill="#269F72" stroke="#fff" stroke-width="8" paint-order="stroke" stroke-linejoin="miter"/>
<polygon points="1058.5,1719.8 1074.2,1735.5 1058.5,1751.2 1042.8,1735.5" fill="#269F72" stroke="#fff" stroke-width="8" paint-order="stroke" stroke-linejoin="miter"/>
<polygon points="1129.2,1716.6 1144.9,1732.3 1129.2,1748 1113.5,1732.3" fill="#269F72" stroke="#fff" stroke-width="8" paint-order="stroke" stroke-linejoin="miter"/>
<polygon points="1199.8,1722 1215.5,1737.7 1199.8,1753.4 1184.1,1737.7" fill="#269F72" stroke="#fff" stroke-width="8" paint-order="stroke" stroke-linejoin="miter"/>
<line x1="210.4" y1="1089.1" x2="1215.6" y2="1089.1" stroke="#000" stroke-width="4.2" stroke-linecap="butt" />
<line x1="210.4" y1="1943.9" x2="1215.6" y2="1943.9" stroke="#000" stroke-width="4.4" stroke-linecap="butt" />
<line x1="210.4" y1="1087" x2="210.4" y2="1946.1" stroke="#FF4F80" stroke-width="5.5" stroke-linecap="butt" />
<line x1="1215.6" y1="1087" x2="1215.6" y2="1946.1" stroke="#269F72" stroke-width="5.5" stroke-linecap="butt" />
<line x1="194.9" y1="1943.9" x2="210.4" y2="1943.9" stroke="#FF4F80" stroke-width="5" stroke-linecap="butt" />
<text x="181.5" y="1950.7" font-size="42" text-anchor="end" fill="#FF4F80" font-weight="normal" ><tspan>0</tspan></text>
<line x1="1215.6" y1="1943.9" x2="1230.6" y2="1943.9" stroke="#269F72" stroke-width="5" stroke-linecap="butt" />
<text x="1243.5" y="1941.9" font-size="42" text-anchor="start" fill="#269F72" font-weight="normal" ><tspan>0</tspan></text>
<line x1="194.9" y1="1837.1" x2="210.4" y2="1837.1" stroke="#FF4F80" stroke-width="5" stroke-linecap="butt" />
<text x="181.5" y="1843.9" font-size="42" text-anchor="end" fill="#FF4F80" font-weight="normal" ><tspan>10</tspan></text>
<line x1="1215.6" y1="1837.1" x2="1230.6" y2="1837.1" stroke="#269F72" stroke-width="5" stroke-linecap="butt" />
<text x="1243.5" y="1836.3" font-size="42" text-anchor="start" fill="#269F72" font-weight="normal" ><tspan>10</tspan></text>
<line x1="194.9" y1="1730.2" x2="210.4" y2="1730.2" stroke="#FF4F80" stroke-width="5" stroke-linecap="butt" />
<text x="181.5" y="1737" font-size="42" text-anchor="end" fill="#FF4F80" font-weight="normal" ><tspan>20</tspan></text>
<line x1="1215.6" y1="1730.2" x2="1230.6" y2="1730.2" stroke="#269F72" stroke-width="5" stroke-linecap="butt" />
<text x="1243.5" y="1730.6" font-size="42" text-anchor="start" fill="#269F72" font-weight="normal" ><tspan>20</tspan></text>
<line x1="194.9" y1="1623.4" x2="210.4" y2="1623.4" stroke="#FF4F80" stroke-width="5" stroke-linecap="butt" />
<text x="181.5" y="1630.2" font-size="42" text-anchor="end" fill="#FF4F80" font-weight="normal" ><tspan>30</tspan></text>
<line x1="1215.6" y1="1623.4" x2="1230.6" y2="1623.4" stroke="#269F72" stroke-width="5" stroke-linecap="butt" />
<text x="1243.5" y="1625" font-size="42" text-anchor="start" fill="#269F72" font-weight="normal" ><tspan>30</tspan></text>
<line x1="194.9" y1="1516.5" x2="210.4" y2="1516.5" stroke="#FF4F80" stroke-width="5" stroke-linecap="butt" />
<text x="181.5" y="1523.3" font-size="42" text-anchor="end" fill="#FF4F80" font-weight="normal" ><tspan>40</tspan></text>
<line x1="1215.6" y1="1516.5" x2="1230.6" y2="1516.5" stroke="#269F72" stroke-width="5" stroke-linecap="butt" />
<text x="1243.5" y="1519.3" font-size="42" text-anchor="start" fill="#269F72" font-weight="normal" ><tspan>40</tspan></text>
<line x1="194.9" y1="1409.7" x2="210.4" y2="1409.7" stroke="#FF4F80" stroke-width="5" stroke-linecap="butt" />
<text x="181.5" y="1416.5" font-size="42" text-anchor="end" fill="#FF4F80" font-weight="normal" ><tspan>50</tspan></text>
<line x1="1215.6" y1="1409.7" x2="1230.6" y2="1409.7" stroke="#269F72" stroke-width="5" stroke-linecap="butt" />
<text x="1243.5" y="1413.7" font-size="42" text-anchor="start" fill="#269F72" font-weight="normal" ><tspan>50</tspan></text>
<line x1="194.9" y1="1302.8" x2="210.4" y2="1302.8" stroke="#FF4F80" stroke-width="5" stroke-linecap="butt" />
<text x="181.5" y="1309.6" font-size="42" text-anchor="end" fill="#FF4F80" font-weight="normal" ><tspan>60</tspan></text>
<line x1="1215.6" y1="1302.8" x2="1230.6" y2="1302.8" stroke="#269F72" stroke-width="5" stroke-linecap="butt" />
<text x="1243.5" y="1308.1" font-size="42" text-anchor="start" fill="#269F72" font-weight="normal" ><tspan>60</tspan></text>
<line x1="194.9" y1="1196" x2="210.4" y2="1196" stroke="#FF4F80" stroke-width="5" stroke-linecap="butt" />
<text x="181.5" y="1202.8" font-size="42" text-anchor="end" fill="#FF4F80" font-weight="normal" ><tspan>70</tspan></text>
<line x1="1215.6" y1="1196" x2="1230.6" y2="1196" stroke="#269F72" stroke-width="5" stroke-linecap="butt" />
<text x="1243.5" y="1202.4" font-size="42" text-anchor="start" fill="#269F72" font-weight="normal" ><tspan>70</tspan></text>
<line x1="194.9" y1="1089.1" x2="210.4" y2="1089.1" stroke="#FF4F80" stroke-width="5" stroke-linecap="butt" />
<text x="181.5" y="1095.9" font-size="42" text-anchor="end" fill="#FF4F80" font-weight="normal" ><tspan>80</tspan></text>
<line x1="1215.6" y1="1089.1" x2="1230.6" y2="1089.1" stroke="#269F72" stroke-width="5" stroke-linecap="butt" />
<text x="1243.5" y="1096.8" font-size="42" text-anchor="start" fill="#269F72" font-weight="normal" ><tspan>80</tspan></text>
<line x1="210.4" y1="1943.9" x2="210.4" y2="1958.9" stroke="#000" stroke-width="4.6" stroke-linecap="butt" />
<text x="210.7" y="2000.1" font-size="42" text-anchor="middle" fill="#000" font-weight="normal" ><tspan>0</tspan></text>
<line x1="563.9" y1="1943.9" x2="563.9" y2="1958.9" stroke="#000" stroke-width="4.6" stroke-linecap="butt" />
<text x="563.1" y="2002.4" font-size="42" text-anchor="middle" fill="#000" font-weight="normal" ><tspan>5</tspan></text>
<line x1="917.1" y1="1943.9" x2="917.1" y2="1958.9" stroke="#000" stroke-width="4.6" stroke-linecap="butt" />
<text x="915.2" y="2004.7" font-size="42" text-anchor="middle" fill="#000" font-weight="normal" ><tspan>10</tspan></text>
<line x1="989" y1="1943.9" x2="989" y2="1958.9" stroke="#000" stroke-width="4.6" stroke-linecap="butt" />
<text x="986.9" y="2005.1" font-size="42" text-anchor="middle" fill="#000" font-weight="normal" ><tspan>15</tspan></text>
<line x1="1059.6" y1="1943.9" x2="1059.6" y2="1958.9" stroke="#000" stroke-width="4.6" stroke-linecap="butt" />
<text x="1057.3" y="2005.6" font-size="42" text-anchor="middle" fill="#000" font-weight="normal" ><tspan>30</tspan></text>
<line x1="1130.4" y1="1943.9" x2="1130.4" y2="1958.9" stroke="#000" stroke-width="4.6" stroke-linecap="butt" />
<text x="1127.8" y="2006" font-size="42" text-anchor="middle" fill="#000" font-weight="normal" ><tspan>50</tspan></text>
<line x1="1200.5" y1="1943.9" x2="1200.5" y2="1958.9" stroke="#000" stroke-width="4.6" stroke-linecap="butt" />
<text x="1197.7" y="2006.5" font-size="42" text-anchor="middle" fill="#000" font-weight="normal" ><tspan>100</tspan></text>
<line x1="422.9" y1="1943.9" x2="422.9" y2="1951.6" stroke="#000" stroke-width="4" stroke-linecap="butt" />
<line x1="776" y1="1943.9" x2="776" y2="1951.6" stroke="#000" stroke-width="4" stroke-linecap="butt" />
<text x="904" y="2064" font-size="54" text-anchor="middle" fill="#000" font-weight="normal" ><tspan>gas flow rate of CO</tspan><tspan font-size="36.2" dy="8.6">2</tspan><tspan dy="-8.6"> (sccm)</tspan></text>
<text x="84" y="1502.5" font-size="54" text-anchor="middle" fill="#FF4F80" font-weight="normal" transform="rotate(-90 84 1502.5)" ><tspan>FE-C</tspan><tspan font-size="36.2" dy="8.6">2</tspan><tspan dy="-8.6">H</tspan><tspan font-size="36.2" dy="8.6">4</tspan><tspan dy="-8.6">(%)</tspan></text>
<text x="1356.7" y="1504" font-size="54" text-anchor="middle" fill="#269F72" font-weight="normal" transform="rotate(-90 1356.7 1504)" ><tspan>FE-H</tspan><tspan font-size="36.2" dy="8.6">2</tspan><tspan dy="-8.6">(%)</tspan></text>
<line x1="990" y1="1282.5" x2="874.2" y2="1282.5" stroke="#FF4F80" stroke-width="4.6" stroke-linecap="butt" />
<polygon points="847,1282.5 881,1270 881,1295" fill="#FF4F80" stroke="#FF4F80" stroke-width="2" stroke-linejoin="round"/>
<line x1="868" y1="1833" x2="986.3" y2="1833" stroke="#269F72" stroke-width="4.6" stroke-linecap="butt" />
<polygon points="1013.5,1833 979.5,1820.5 979.5,1845.5" fill="#269F72" stroke="#269F72" stroke-width="2" stroke-linejoin="round"/>
<text x="32" y="1102" font-size="68" text-anchor="start" fill="#000" font-weight="bold" ><tspan>d</tspan></text>
</g>
<g>
<line x1="1690.7" y1="1485.7" x2="1690.7" y2="1454.5" stroke="#269F72" stroke-width="3.8" stroke-linecap="butt" />
<line x1="1683.2" y1="1454.5" x2="1698.2" y2="1454.5" stroke="#269F72" stroke-width="3.8" stroke-linecap="butt" />
<rect x="1679.3" y="1485.7" width="22.8" height="477.8" fill="#269F72" stroke="#0a0a0a" stroke-width="1.9" />
<line x1="1916.1" y1="1397.1" x2="1916.1" y2="1374" stroke="#269F72" stroke-width="3.8" stroke-linecap="butt" />
<line x1="1908.6" y1="1374" x2="1923.6" y2="1374" stroke="#269F72" stroke-width="3.8" stroke-linecap="butt" />
<rect x="1904.7" y="1397.1" width="22.8" height="566.4" fill="#269F72" stroke="#0a0a0a" stroke-width="1.9" />
<line x1="2004" y1="1360.9" x2="2004" y2="1340.8" stroke="#269F72" stroke-width="3.8" stroke-linecap="butt" />
<line x1="1996.5" y1="1340.8" x2="2011.5" y2="1340.8" stroke="#269F72" stroke-width="3.8" stroke-linecap="butt" />
<rect x="1992.6" y="1360.9" width="22.8" height="602.6" fill="#269F72" stroke="#0a0a0a" stroke-width="1.9" />
<line x1="2063.4" y1="1334.8" x2="2063.4" y2="1316.6" stroke="#269F72" stroke-width="3.8" stroke-linecap="butt" />
<line x1="2055.9" y1="1316.6" x2="2070.9" y2="1316.6" stroke="#269F72" stroke-width="3.8" stroke-linecap="butt" />
<rect x="2052" y="1334.8" width="22.8" height="628.8" fill="#269F72" stroke="#0a0a0a" stroke-width="1.9" />
<line x1="2122.4" y1="1316.6" x2="2122.4" y2="1285.5" stroke="#269F72" stroke-width="3.8" stroke-linecap="butt" />
<line x1="2114.9" y1="1285.5" x2="2129.9" y2="1285.5" stroke="#269F72" stroke-width="3.8" stroke-linecap="butt" />
<rect x="2111" y="1316.6" width="22.8" height="646.9" fill="#269F72" stroke="#0a0a0a" stroke-width="1.9" />
<line x1="2200.7" y1="1284.4" x2="2200.7" y2="1262.3" stroke="#269F72" stroke-width="3.8" stroke-linecap="butt" />
<line x1="2193.2" y1="1262.3" x2="2208.2" y2="1262.3" stroke="#269F72" stroke-width="3.8" stroke-linecap="butt" />
<rect x="2189.3" y="1284.4" width="22.8" height="679.1" fill="#269F72" stroke="#0a0a0a" stroke-width="1.9" />
<line x1="2270.7" y1="1247.2" x2="2270.7" y2="1219.1" stroke="#269F72" stroke-width="3.8" stroke-linecap="butt" />
<line x1="2263.2" y1="1219.1" x2="2278.2" y2="1219.1" stroke="#269F72" stroke-width="3.8" stroke-linecap="butt" />
<rect x="2259.3" y="1247.2" width="22.8" height="716.3" fill="#269F72" stroke="#0a0a0a" stroke-width="1.9" />
<line x1="2351" y1="1217" x2="2351" y2="1182.8" stroke="#269F72" stroke-width="3.8" stroke-linecap="butt" />
<line x1="2343.5" y1="1182.8" x2="2358.5" y2="1182.8" stroke="#269F72" stroke-width="3.8" stroke-linecap="butt" />
<rect x="2339.6" y="1217" width="22.8" height="746.5" fill="#269F72" stroke="#0a0a0a" stroke-width="1.9" />
<line x1="2427.4" y1="1180.8" x2="2427.4" y2="1137.6" stroke="#269F72" stroke-width="3.8" stroke-linecap="butt" />
<line x1="2419.9" y1="1137.6" x2="2434.9" y2="1137.6" stroke="#269F72" stroke-width="3.8" stroke-linecap="butt" />
<rect x="2416" y="1180.8" width="22.8" height="782.7" fill="#269F72" stroke="#0a0a0a" stroke-width="1.9" />
<line x1="2466.6" y1="1176.8" x2="2466.6" y2="1140.6" stroke="#269F72" stroke-width="3.8" stroke-linecap="butt" />
<line x1="2459.1" y1="1140.6" x2="2474.1" y2="1140.6" stroke="#269F72" stroke-width="3.8" stroke-linecap="butt" />
<rect x="2455.2" y="1176.8" width="22.8" height="786.7" fill="#269F72" stroke="#0a0a0a" stroke-width="1.9" />
<line x1="2541.8" y1="1160.7" x2="2541.8" y2="1136.6" stroke="#269F72" stroke-width="3.8" stroke-linecap="butt" />
<line x1="2534.3" y1="1136.6" x2="2549.3" y2="1136.6" stroke="#269F72" stroke-width="3.8" stroke-linecap="butt" />
<rect x="2530.4" y="1160.7" width="22.8" height="802.8" fill="#269F72" stroke="#0a0a0a" stroke-width="1.9" />
<line x1="2555.9" y1="1174.8" x2="2555.9" y2="1157.7" stroke="#269F72" stroke-width="3.8" stroke-linecap="butt" />
<line x1="2548.4" y1="1157.7" x2="2563.4" y2="1157.7" stroke="#269F72" stroke-width="3.8" stroke-linecap="butt" />
<rect x="2544.5" y="1174.8" width="22.8" height="788.7" fill="#269F72" stroke="#0a0a0a" stroke-width="1.9" />
<line x1="1690.7" y1="1510.5" x2="1690.7" y2="1561.7" stroke="#FF4F80" stroke-width="3.8" stroke-linecap="butt" />
<line x1="1684.2" y1="1510.5" x2="1697.2" y2="1510.5" stroke="#FF4F80" stroke-width="3.8" stroke-linecap="butt" />
<line x1="1684.2" y1="1561.7" x2="1697.2" y2="1561.7" stroke="#FF4F80" stroke-width="3.8" stroke-linecap="butt" />
<line x1="1916.1" y1="1486.2" x2="1916.1" y2="1514.7" stroke="#FF4F80" stroke-width="3.8" stroke-linecap="butt" />
<line x1="1909.6" y1="1486.2" x2="1922.6" y2="1486.2" stroke="#FF4F80" stroke-width="3.8" stroke-linecap="butt" />
<line x1="1909.6" y1="1514.7" x2="1922.6" y2="1514.7" stroke="#FF4F80" stroke-width="3.8" stroke-linecap="butt" />
<line x1="2004" y1="1479.1" x2="2004" y2="1507.6" stroke="#FF4F80" stroke-width="3.8" stroke-linecap="butt" />
<line x1="1997.5" y1="1479.1" x2="2010.5" y2="1479.1" stroke="#FF4F80" stroke-width="3.8" stroke-linecap="butt" />
<line x1="1997.5" y1="1507.6" x2="2010.5" y2="1507.6" stroke="#FF4F80" stroke-width="3.8" stroke-linecap="butt" />
<line x1="2063.4" y1="1459.2" x2="2063.4" y2="1493.4" stroke="#FF4F80" stroke-width="3.8" stroke-linecap="butt" />
<line x1="2056.9" y1="1459.2" x2="2069.9" y2="1459.2" stroke="#FF4F80" stroke-width="3.8" stroke-linecap="butt" />
<line x1="2056.9" y1="1493.4" x2="2069.9" y2="1493.4" stroke="#FF4F80" stroke-width="3.8" stroke-linecap="butt" />
<line x1="2122.4" y1="1442.1" x2="2122.4" y2="1493.4" stroke="#FF4F80" stroke-width="3.8" stroke-linecap="butt" />
<line x1="2115.9" y1="1442.1" x2="2128.9" y2="1442.1" stroke="#FF4F80" stroke-width="3.8" stroke-linecap="butt" />
<line x1="2115.9" y1="1493.4" x2="2128.9" y2="1493.4" stroke="#FF4F80" stroke-width="3.8" stroke-linecap="butt" />
<line x1="2200.7" y1="1427.8" x2="2200.7" y2="1467.7" stroke="#FF4F80" stroke-width="3.8" stroke-linecap="butt" />
<line x1="2194.2" y1="1427.8" x2="2207.2" y2="1427.8" stroke="#FF4F80" stroke-width="3.8" stroke-linecap="butt" />
<line x1="2194.2" y1="1467.7" x2="2207.2" y2="1467.7" stroke="#FF4F80" stroke-width="3.8" stroke-linecap="butt" />
<line x1="2270.7" y1="1407.9" x2="2270.7" y2="1447.8" stroke="#FF4F80" stroke-width="3.8" stroke-linecap="butt" />
<line x1="2264.2" y1="1407.9" x2="2277.2" y2="1407.9" stroke="#FF4F80" stroke-width="3.8" stroke-linecap="butt" />
<line x1="2264.2" y1="1447.8" x2="2277.2" y2="1447.8" stroke="#FF4F80" stroke-width="3.8" stroke-linecap="butt" />
<line x1="2351" y1="1387.9" x2="2351" y2="1433.5" stroke="#FF4F80" stroke-width="3.8" stroke-linecap="butt" />
<line x1="2344.5" y1="1387.9" x2="2357.5" y2="1387.9" stroke="#FF4F80" stroke-width="3.8" stroke-linecap="butt" />
<line x1="2344.5" y1="1433.5" x2="2357.5" y2="1433.5" stroke="#FF4F80" stroke-width="3.8" stroke-linecap="butt" />
<line x1="2427.4" y1="1359.4" x2="2427.4" y2="1422.1" stroke="#FF4F80" stroke-width="3.8" stroke-linecap="butt" />
<line x1="2420.9" y1="1359.4" x2="2433.9" y2="1359.4" stroke="#FF4F80" stroke-width="3.8" stroke-linecap="butt" />
<line x1="2420.9" y1="1422.1" x2="2433.9" y2="1422.1" stroke="#FF4F80" stroke-width="3.8" stroke-linecap="butt" />
<line x1="2466.6" y1="1366" x2="2466.6" y2="1417.3" stroke="#FF4F80" stroke-width="3.8" stroke-linecap="butt" />
<line x1="2460.1" y1="1366" x2="2473.1" y2="1366" stroke="#FF4F80" stroke-width="3.8" stroke-linecap="butt" />
<line x1="2460.1" y1="1417.3" x2="2473.1" y2="1417.3" stroke="#FF4F80" stroke-width="3.8" stroke-linecap="butt" />
<line x1="2541.8" y1="1365.1" x2="2541.8" y2="1410.7" stroke="#FF4F80" stroke-width="3.8" stroke-linecap="butt" />
<line x1="2535.3" y1="1365.1" x2="2548.3" y2="1365.1" stroke="#FF4F80" stroke-width="3.8" stroke-linecap="butt" />
<line x1="2535.3" y1="1410.7" x2="2548.3" y2="1410.7" stroke="#FF4F80" stroke-width="3.8" stroke-linecap="butt" />
<line x1="2555.9" y1="1378" x2="2555.9" y2="1417.9" stroke="#FF4F80" stroke-width="3.8" stroke-linecap="butt" />
<line x1="2549.4" y1="1378" x2="2562.4" y2="1378" stroke="#FF4F80" stroke-width="3.8" stroke-linecap="butt" />
<line x1="2549.4" y1="1417.9" x2="2562.4" y2="1417.9" stroke="#FF4F80" stroke-width="3.8" stroke-linecap="butt" />
<line x1="1715.4" y1="1532.2" x2="1891.4" y2="1504.4" stroke="#FF4F80" stroke-width="4.2" stroke-linecap="butt" />
<line x1="1941" y1="1498.5" x2="1979.1" y2="1495.4" stroke="#FF4F80" stroke-width="4.2" stroke-linecap="butt" stroke-dasharray="34 9 6 9" stroke-dashoffset="25"/>
<line x1="2028" y1="1486.5" x2="2039.4" y2="1483.2" stroke="#FF4F80" stroke-width="4.2" stroke-linecap="butt" stroke-dasharray="34 9 6 9" stroke-dashoffset="113.2"/>
<line x1="2088.1" y1="1472.7" x2="2097.7" y2="1471.3" stroke="#FF4F80" stroke-width="4.2" stroke-linecap="butt" stroke-dasharray="34 9 6 9" stroke-dashoffset="175"/>
<line x1="2146.6" y1="1461.6" x2="2176.5" y2="1453.9" stroke="#FF4F80" stroke-width="4.2" stroke-linecap="butt" stroke-dasharray="34 9 6 9" stroke-dashoffset="234.6"/>
<line x1="2224.7" y1="1440.9" x2="2246.7" y2="1434.7" stroke="#FF4F80" stroke-width="4.2" stroke-linecap="butt" stroke-dasharray="34 9 6 9" stroke-dashoffset="315.4"/>
<line x1="2295.2" y1="1422.6" x2="2326.5" y2="1415.9" stroke="#FF4F80" stroke-width="4.2" stroke-linecap="butt" stroke-dasharray="34 9 6 9" stroke-dashoffset="388.2"/>
<line x1="2375.2" y1="1404.4" x2="2403.2" y2="1397.1" stroke="#FF4F80" stroke-width="4.2" stroke-linecap="butt" stroke-dasharray="34 9 6 9" stroke-dashoffset="470.3"/>
<line x1="2491.6" y1="1390.4" x2="2516.8" y2="1389.2" stroke="#FF4F80" stroke-width="4.2" stroke-linecap="butt" stroke-dasharray="34 9 6 9" stroke-dashoffset="588.5"/>
<polygon points="1690.7,1515.1 1695.9,1529 1710.7,1529.6 1699.1,1538.8 1703,1553.1 1690.7,1544.9 1678.4,1553.1 1682.3,1538.8 1670.7,1529.6 1685.5,1529" fill="#FF4F80" stroke="#FF4F80" stroke-width="1.5" stroke-linejoin="round"/>
<polygon points="1916.1,1479.5 1921.3,1493.4 1936.1,1494 1924.5,1503.2 1928.4,1517.5 1916.1,1509.3 1903.8,1517.5 1907.7,1503.2 1896.1,1494 1910.9,1493.4" fill="#FF4F80" stroke="#FF4F80" stroke-width="1.5" stroke-linejoin="round"/>
<polygon points="2004,1472.4 2009.2,1486.2 2024,1486.9 2012.4,1496.1 2016.3,1510.4 2004,1502.2 1991.7,1510.4 1995.6,1496.1 1984,1486.9 1998.8,1486.2" fill="#FF4F80" stroke="#FF4F80" stroke-width="1.5" stroke-linejoin="round"/>
<polygon points="2063.4,1455.3 2068.6,1469.1 2083.4,1469.8 2071.8,1479 2075.7,1493.3 2063.4,1485.1 2051.1,1493.3 2055,1479 2043.4,1469.8 2058.2,1469.1" fill="#FF4F80" stroke="#FF4F80" stroke-width="1.5" stroke-linejoin="round"/>
<polygon points="2122.4,1446.7 2127.6,1460.6 2142.4,1461.2 2130.8,1470.4 2134.7,1484.7 2122.4,1476.5 2110.1,1484.7 2114,1470.4 2102.4,1461.2 2117.2,1460.6" fill="#FF4F80" stroke="#FF4F80" stroke-width="1.5" stroke-linejoin="round"/>
<polygon points="2200.7,1426.8 2205.9,1440.6 2220.7,1441.3 2209.1,1450.5 2213,1464.8 2200.7,1456.6 2188.4,1464.8 2192.3,1450.5 2180.7,1441.3 2195.5,1440.6" fill="#FF4F80" stroke="#FF4F80" stroke-width="1.5" stroke-linejoin="round"/>
<polygon points="2270.7,1406.8 2275.9,1420.7 2290.7,1421.3 2279.1,1430.6 2283,1444.8 2270.7,1436.7 2258.4,1444.8 2262.3,1430.6 2250.7,1421.3 2265.5,1420.7" fill="#FF4F80" stroke="#FF4F80" stroke-width="1.5" stroke-linejoin="round"/>
<polygon points="2351,1389.7 2356.2,1403.6 2371,1404.2 2359.4,1413.5 2363.3,1427.7 2351,1419.6 2338.7,1427.7 2342.6,1413.5 2331,1404.2 2345.8,1403.6" fill="#FF4F80" stroke="#FF4F80" stroke-width="1.5" stroke-linejoin="round"/>
<polygon points="2427.4,1369.8 2432.6,1383.7 2447.4,1384.3 2435.8,1393.5 2439.7,1407.8 2427.4,1399.6 2415.1,1407.8 2419,1393.5 2407.4,1384.3 2422.2,1383.7" fill="#FF4F80" stroke="#FF4F80" stroke-width="1.5" stroke-linejoin="round"/>
<polygon points="2466.6,1370.6 2471.8,1384.5 2486.6,1385.2 2475,1394.4 2478.9,1408.6 2466.6,1400.5 2454.3,1408.6 2458.2,1394.4 2446.6,1385.2 2461.4,1384.5" fill="#FF4F80" stroke="#FF4F80" stroke-width="1.5" stroke-linejoin="round"/>
<polygon points="2541.8,1366.9 2547,1380.8 2561.8,1381.5 2550.2,1390.7 2554.1,1404.9 2541.8,1396.8 2529.5,1404.9 2533.4,1390.7 2521.8,1381.5 2536.6,1380.8" fill="#FF4F80" stroke="#FF4F80" stroke-width="1.5" stroke-linejoin="round"/>
<polygon points="2555.9,1376.9 2561.1,1390.8 2575.9,1391.4 2564.3,1400.6 2568.2,1414.9 2555.9,1406.7 2543.6,1414.9 2547.5,1400.6 2535.9,1391.4 2550.7,1390.8" fill="#FF4F80" stroke="#FF4F80" stroke-width="1.5" stroke-linejoin="round"/>
<line x1="1573.3" y1="1108.7" x2="2578.6" y2="1108.7" stroke="#000" stroke-width="4.4" stroke-linecap="butt" />
<line x1="1573.3" y1="1963.5" x2="2578.6" y2="1963.5" stroke="#000" stroke-width="4.6" stroke-linecap="butt" />
<line x1="1573.3" y1="1106.5" x2="1573.3" y2="1965.8" stroke="#269F72" stroke-width="4" stroke-linecap="butt" />
<line x1="2578.6" y1="1106.5" x2="2578.6" y2="1965.8" stroke="#FF4F80" stroke-width="4" stroke-linecap="butt" />
<line x1="1558.1" y1="1963.5" x2="1573.3" y2="1963.5" stroke="#269F72" stroke-width="4" stroke-linecap="butt" />
<text x="1543.8" y="1969.9" font-size="42" text-anchor="end" fill="#269F72" font-weight="normal" ><tspan>0</tspan></text>
<line x1="1558.1" y1="1862.9" x2="1573.3" y2="1862.9" stroke="#269F72" stroke-width="4" stroke-linecap="butt" />
<text x="1543.8" y="1869.3" font-size="42" text-anchor="end" fill="#269F72" font-weight="normal" ><tspan>10</tspan></text>
<line x1="1558.1" y1="1762.3" x2="1573.3" y2="1762.3" stroke="#269F72" stroke-width="4" stroke-linecap="butt" />
<text x="1543.8" y="1768.7" font-size="42" text-anchor="end" fill="#269F72" font-weight="normal" ><tspan>20</tspan></text>
<line x1="1558.1" y1="1661.7" x2="1573.3" y2="1661.7" stroke="#269F72" stroke-width="4" stroke-linecap="butt" />
<text x="1543.8" y="1668.1" font-size="42" text-anchor="end" fill="#269F72" font-weight="normal" ><tspan>30</tspan></text>
<line x1="1558.1" y1="1561.1" x2="1573.3" y2="1561.1" stroke="#269F72" stroke-width="4" stroke-linecap="butt" />
<text x="1543.8" y="1567.5" font-size="42" text-anchor="end" fill="#269F72" font-weight="normal" ><tspan>40</tspan></text>
<line x1="1558.1" y1="1460.5" x2="1573.3" y2="1460.5" stroke="#269F72" stroke-width="4" stroke-linecap="butt" />
<text x="1543.8" y="1466.9" font-size="42" text-anchor="end" fill="#269F72" font-weight="normal" ><tspan>50</tspan></text>
<line x1="1558.1" y1="1359.9" x2="1573.3" y2="1359.9" stroke="#269F72" stroke-width="4" stroke-linecap="butt" />
<text x="1543.8" y="1366.3" font-size="42" text-anchor="end" fill="#269F72" font-weight="normal" ><tspan>60</tspan></text>
<line x1="1558.1" y1="1259.3" x2="1573.3" y2="1259.3" stroke="#269F72" stroke-width="4" stroke-linecap="butt" />
<text x="1543.8" y="1265.7" font-size="42" text-anchor="end" fill="#269F72" font-weight="normal" ><tspan>70</tspan></text>
<line x1="1558.1" y1="1158.7" x2="1573.3" y2="1158.7" stroke="#269F72" stroke-width="4" stroke-linecap="butt" />
<text x="1543.8" y="1165.1" font-size="42" text-anchor="end" fill="#269F72" font-weight="normal" ><tspan>80</tspan></text>
<line x1="2578.6" y1="1963.5" x2="2593.1" y2="1963.5" stroke="#FF4F80" stroke-width="4" stroke-linecap="butt" />
<text x="2604.5" y="1963.5" font-size="42" text-anchor="start" fill="#FF4F80" font-weight="normal" ><tspan>0</tspan></text>
<line x1="2578.6" y1="1821" x2="2593.1" y2="1821" stroke="#FF4F80" stroke-width="4" stroke-linecap="butt" />
<text x="2604.5" y="1822.4" font-size="42" text-anchor="start" fill="#FF4F80" font-weight="normal" ><tspan>5</tspan></text>
<line x1="2578.6" y1="1678.6" x2="2593.1" y2="1678.6" stroke="#FF4F80" stroke-width="4" stroke-linecap="butt" />
<text x="2604.5" y="1681.4" font-size="42" text-anchor="start" fill="#FF4F80" font-weight="normal" ><tspan>10</tspan></text>
<line x1="2578.6" y1="1536.1" x2="2593.1" y2="1536.1" stroke="#FF4F80" stroke-width="4" stroke-linecap="butt" />
<text x="2604.5" y="1540.3" font-size="42" text-anchor="start" fill="#FF4F80" font-weight="normal" ><tspan>15</tspan></text>
<line x1="2578.6" y1="1393.6" x2="2593.1" y2="1393.6" stroke="#FF4F80" stroke-width="4" stroke-linecap="butt" />
<text x="2604.5" y="1399.2" font-size="42" text-anchor="start" fill="#FF4F80" font-weight="normal" ><tspan>20</tspan></text>
<line x1="2578.6" y1="1251.2" x2="2593.1" y2="1251.2" stroke="#FF4F80" stroke-width="4" stroke-linecap="butt" />
<text x="2604.5" y="1258.2" font-size="42" text-anchor="start" fill="#FF4F80" font-weight="normal" ><tspan>25</tspan></text>
<line x1="2578.6" y1="1108.7" x2="2593.1" y2="1108.7" stroke="#FF4F80" stroke-width="4" stroke-linecap="butt" />
<text x="2604.5" y="1117.1" font-size="42" text-anchor="start" fill="#FF4F80" font-weight="normal" ><tspan>30</tspan></text>
<line x1="1676.3" y1="1963.5" x2="1676.3" y2="1978.5" stroke="#000" stroke-width="4.4" stroke-linecap="butt" />
<text x="1676.3" y="2019.7" font-size="42" text-anchor="middle" fill="#000" font-weight="normal" ><tspan>50</tspan></text>
<line x1="1881.1" y1="1963.5" x2="1881.1" y2="1978.5" stroke="#000" stroke-width="4.4" stroke-linecap="butt" />
<text x="1881.1" y="2019.7" font-size="42" text-anchor="middle" fill="#000" font-weight="normal" ><tspan>100</tspan></text>
<line x1="2086" y1="1963.5" x2="2086" y2="1978.5" stroke="#000" stroke-width="4.4" stroke-linecap="butt" />
<text x="2086" y="2019.7" font-size="42" text-anchor="middle" fill="#000" font-weight="normal" ><tspan>150</tspan></text>
<line x1="2290.8" y1="1963.5" x2="2290.8" y2="1978.5" stroke="#000" stroke-width="4.4" stroke-linecap="butt" />
<text x="2290.8" y="2019.7" font-size="42" text-anchor="middle" fill="#000" font-weight="normal" ><tspan>200</tspan></text>
<line x1="2495.6" y1="1963.5" x2="2495.6" y2="1978.5" stroke="#000" stroke-width="4.4" stroke-linecap="butt" />
<text x="2495.6" y="2019.7" font-size="42" text-anchor="middle" fill="#000" font-weight="normal" ><tspan>250</tspan></text>
<line x1="1573.3" y1="1963.5" x2="1573.3" y2="1971.5" stroke="#000" stroke-width="4" stroke-linecap="butt" />
<line x1="1777.9" y1="1963.5" x2="1777.9" y2="1971.5" stroke="#000" stroke-width="4" stroke-linecap="butt" />
<line x1="1983.5" y1="1963.5" x2="1983.5" y2="1971.5" stroke="#000" stroke-width="4" stroke-linecap="butt" />
<line x1="2188.4" y1="1963.5" x2="2188.4" y2="1971.5" stroke="#000" stroke-width="4" stroke-linecap="butt" />
<line x1="2393.2" y1="1963.5" x2="2393.2" y2="1971.5" stroke="#000" stroke-width="4" stroke-linecap="butt" />
<text x="2055" y="2087" font-size="54" text-anchor="middle" fill="#000" font-weight="normal" ><tspan>Currenty density (mA cm</tspan><tspan font-size="36.2" dy="-19.4">-2</tspan><tspan dy="19.4">)</tspan></text>
<text x="1456" y="1533" font-size="54" text-anchor="middle" fill="#269F72" font-weight="normal" transform="rotate(-90 1456 1533)" ><tspan>FE-C</tspan><tspan font-size="36.2" dy="8.6">2+</tspan><tspan dy="-8.6">(%)</tspan></text>
<text x="2741" y="1488" font-size="54" text-anchor="middle" fill="#FF4F80" font-weight="normal" transform="rotate(-90 2741 1488)" ><tspan>EE-</tspan><tspan font-size="36.2" dy="8.6">C2+</tspan><tspan dy="-8.6">(%)</tspan></text>
<line x1="1749.5" y1="1355.2" x2="1659.3" y2="1355.2" stroke="#269F72" stroke-width="5" stroke-linecap="butt" />
<polygon points="1633.7,1355.2 1665.7,1344.7 1665.7,1365.7" fill="#269F72" stroke="#269F72" stroke-width="2" stroke-linejoin="round"/>
<line x1="1648" y1="1438.9" x2="1734.4" y2="1438.9" stroke="#FF4F80" stroke-width="5" stroke-linecap="butt" />
<polygon points="1760,1438.9 1728,1428.4 1728,1449.4" fill="#FF4F80" stroke="#FF4F80" stroke-width="2" stroke-linejoin="round"/>
<text x="1643" y="1189.3" font-size="52" text-anchor="start" fill="#000" font-weight="normal" ><tspan>N</tspan><tspan font-size="34.8" dy="8.3">2</tspan><tspan dy="-8.3">SN</tspan></text>
<text x="1392.5" y="1100" font-size="68" text-anchor="start" fill="#000" font-weight="bold" ><tspan>e</tspan></text>
</g>
<g>
<polygon points="3268.5,1191.8 3580.8,1418.7 3461.5,1785.9 3075.5,1785.9 2956.2,1418.7" fill="none" stroke="#70898a" stroke-width="1.5" />
<text x="3228.5" y="1369" font-size="40" text-anchor="start" fill="#1c1c1c" font-weight="normal" ><tspan>50</tspan></text>
<text x="3260.4" y="1510.4" font-size="40" text-anchor="start" fill="#1c1c1c" font-weight="normal" ><tspan>00</tspan></text>
<text x="3260.4" y="1556.2" font-size="40" text-anchor="start" fill="#1c1c1c" font-weight="normal" ><tspan>00</tspan></text>
<text x="3321.3" y="1492.5" font-size="40" text-anchor="start" fill="#1c1c1c" font-weight="normal" ><tspan>200</tspan></text>
<text x="3397.8" y="1458.6" font-size="40" text-anchor="start" fill="#1c1c1c" font-weight="normal" ><tspan>400</tspan></text>
<text x="3475.5" y="1430.8" font-size="40" text-anchor="start" fill="#1c1c1c" font-weight="normal" ><tspan>600</tspan></text>
<text x="3373.9" y="1643.8" font-size="40" text-anchor="start" fill="#1c1c1c" font-weight="normal" ><tspan>100</tspan></text>
<text x="3210.6" y="1643.8" font-size="40" text-anchor="start" fill="#1c1c1c" font-weight="normal" ><tspan>90</tspan></text>
<text x="3148.9" y="1733.4" font-size="40" text-anchor="start" fill="#1c1c1c" font-weight="normal" ><tspan>180</tspan></text>
<text x="3196.7" y="1536.3" font-size="40" text-anchor="start" fill="#1c1c1c" font-weight="normal" ><tspan>5</tspan></text>
<text x="3143.7" y="1502.4" font-size="40" text-anchor="start" fill="#1c1c1c" font-weight="normal" ><tspan>10</tspan></text>
<text x="3065.3" y="1496.5" font-size="40" text-anchor="start" fill="#1c1c1c" font-weight="normal" ><tspan>15</tspan></text>
<text x="3010.7" y="1482.5" font-size="40" text-anchor="start" fill="#1c1c1c" font-weight="normal" ><tspan>20</tspan></text>
<polygon points="3268.5,1290.3 3545.2,1430.3 3365,1653 3119.9,1724.8 3015.5,1438" fill="rgba(100,230,240,0.64)" stroke="rgba(165,150,200,0.75)" stroke-width="3.2" stroke-linejoin="round"/>
<polygon points="3268.5,1303.5 3412.2,1473.5 3456.7,1779.2 3195.1,1621.2 3081.1,1459.3" fill="rgba(150,232,235,0.30)" stroke="rgba(185,235,240,0.6)" stroke-width="3" stroke-linejoin="round"/>
<polygon points="3268.5,1310 3455.9,1459.3 3359.2,1645.1 3199,1615.8 3087.4,1461.3" fill="rgba(60,200,210,0.42)" stroke="rgba(185,180,200,0.6)" stroke-width="2.5" stroke-linejoin="round"/>
<polygon points="3268.5,1217.7 3338.1,1497.6 3288.8,1548.1 3264.6,1525.5 3004.6,1434.4" fill="rgba(70,200,185,0.5)" stroke="rgba(70,185,175,0.7)" stroke-width="3.5" stroke-linejoin="round"/>
<polygon points="3268.5,1224.6 3334.1,1498.9 3287.8,1546.8 3264.6,1525.5 3009.3,1436" fill="rgba(149,197,180,0.3)" stroke="rgba(120,160,150,0.5)" stroke-width="2.5" stroke-linejoin="round"/>
<polygon points="3268.5,1293.6 3331,1499.9 3287.8,1546.8 3264.6,1525.5 3018.6,1439" fill="rgba(0,185,180,0.55)" stroke="rgba(150,150,160,0.5)" stroke-width="2.5" stroke-linejoin="round"/>
<polygon points="3268.5,1262.7 3573,1421.3 3364.4,1652.2 3080.5,1779 3013.6,1437.4" fill="rgba(254,100,115,0.53)" stroke="rgba(255,105,128,0.8)" stroke-width="3.6" stroke-linejoin="round"/>
<polygon points="3268.5,1303.5 3440.3,1464.4 3353.4,1637.1 3162.3,1666.3 3037.4,1445.1" fill="none" stroke="rgba(185,180,200,0.55)" stroke-width="1.6" stroke-linejoin="round"/>
<polygon points="3268.5,1316.6 3424.7,1469.5 3345.7,1626.5 3181.6,1639.8 3049.9,1449.2" fill="none" stroke="rgba(185,180,200,0.5)" stroke-width="1.4" stroke-linejoin="round"/>
<polygon points="3268.5,1356 3424.7,1469.5 3365,1653 3172,1653 3112.3,1469.5" fill="none" stroke="rgba(120,125,140,0.55)" stroke-width="1.2" />
<line x1="3268.5" y1="1520.2" x2="3268.5" y2="1260.8" stroke="rgba(75,75,105,0.75)" stroke-width="2.2" stroke-linecap="butt" />
<line x1="3268.5" y1="1264" x2="3268.5" y2="1191.8" stroke="#0a0a14" stroke-width="3.6" stroke-linecap="butt" />
<line x1="3268.5" y1="1520.2" x2="3012.4" y2="1437" stroke="rgba(120,120,125,0.8)" stroke-width="3" stroke-linecap="butt" />
<line x1="3018.6" y1="1439" x2="2956.2" y2="1418.7" stroke="#000" stroke-width="4.2" stroke-linecap="butt" />
<line x1="3268.5" y1="1520.2" x2="3580.8" y2="1418.7" stroke="#48225c" stroke-width="3" stroke-linecap="butt" />
<line x1="3268.5" y1="1520.2" x2="3461.5" y2="1785.9" stroke="#1a1a40" stroke-width="3" stroke-linecap="butt" />
<line x1="3268.5" y1="1520.2" x2="3075.5" y2="1785.9" stroke="#1a1a40" stroke-width="3" stroke-linecap="butt" />
<text x="3212" y="1207" font-size="41" text-anchor="start" fill="#000" font-weight="normal" ><tspan>100</tspan></text>
<text x="3553" y="1409.5" font-size="41" text-anchor="start" fill="#000" font-weight="normal" ><tspan>800</tspan></text>
<text x="3466.5" y="1777" font-size="41" text-anchor="start" fill="#000" font-weight="normal" ><tspan>200</tspan></text>
<text x="3080.5" y="1821.5" font-size="41" text-anchor="start" fill="#000" font-weight="normal" ><tspan>270</tspan></text>
<text x="2937" y="1457" font-size="41" text-anchor="start" fill="#000" font-weight="normal" ><tspan>25</tspan></text>
<text x="3209" y="1149.5" font-size="46" text-anchor="start" fill="#000" font-weight="normal" ><tspan>FE</tspan><tspan font-size="31.3" dy="6.9">C2+</tspan><tspan dy="-6.9">(%)</tspan></text>
<text x="3553.5" y="1347.5" font-size="46" text-anchor="start" fill="#000" font-weight="normal" ><tspan>R</tspan><tspan font-size="31.3" dy="6.9">C2+</tspan><tspan dy="-6.9"> (µmol h</tspan><tspan font-size="30.8" dy="-16.6">-1</tspan><tspan dy="16.6"> cm</tspan><tspan font-size="30.8" dy="-16.6">-2</tspan><tspan dy="16.6">)</tspan></text>
<text x="2810" y="1412.5" font-size="46" text-anchor="start" fill="#000" font-weight="normal" ><tspan>EE(%)</tspan></text>
<text x="2786.5" y="1845" font-size="46" text-anchor="start" fill="#000" font-weight="normal" ><tspan>j</tspan><tspan font-size="31.3" dy="6.9">C2+</tspan><tspan dy="-6.9"> (mA cm</tspan><tspan font-size="30.8" dy="-16.6">-2</tspan><tspan dy="16.6">)</tspan></text>
<text x="3471.5" y="1845" font-size="46" text-anchor="start" fill="#000" font-weight="normal" ><tspan>Operation time (h)</tspan></text>
<rect x="3598.5" y="1494.5" width="63.5" height="30" fill="rgb(225,243,247)" stroke="rgba(120,120,160,0.85)" stroke-width="1.5" />
<text x="3676" y="1520.6" font-size="43" text-anchor="start" fill="#000" font-weight="normal" ><tspan>Ref </tspan><tspan font-size="25.8" dy="-17.2">32</tspan></text>
<rect x="3598.5" y="1548.9" width="63.5" height="30" fill="rgb(200,243,245)" stroke="rgba(120,120,160,0.85)" stroke-width="1.5" />
<text x="3676" y="1574.3" font-size="43" text-anchor="start" fill="#000" font-weight="normal" ><tspan>Ref </tspan><tspan font-size="25.8" dy="-17.2">64</tspan></text>
<rect x="3598.5" y="1603.3" width="63.5" height="30" fill="rgb(165,238,228)" stroke="rgba(120,120,160,0.85)" stroke-width="1.5" />
<text x="3679" y="1634.9" font-size="43" text-anchor="start" fill="#000" font-weight="normal" ><tspan>Ref </tspan><tspan font-size="25.8" dy="-17.2">66</tspan></text>
<rect x="3598.5" y="1652.1" width="63.5" height="30" fill="rgb(155,210,200)" stroke="rgba(120,120,160,0.85)" stroke-width="1.5" />
<text x="3682" y="1684.4" font-size="43" text-anchor="start" fill="#000" font-weight="normal" ><tspan>Ref </tspan><tspan font-size="25.8" dy="-17.2">65</tspan></text>
<rect x="3598.5" y="1701.5" width="63.5" height="30" fill="rgb(252,172,176)" stroke="rgba(120,120,160,0.85)" stroke-width="1.5" />
<text x="3669" y="1732.6" font-size="43" text-anchor="start" fill="#000" font-weight="normal" ><tspan>This  work</tspan></text>
<text x="2686" y="1104" font-size="68" text-anchor="start" fill="#000" font-weight="bold" ><tspan>f</tspan></text>
</g>
<g>
<polyline points="285,2859.5 285,2379 289.1,2366.5 290.5,2385.3 291.8,2364.7 293.2,2389.2 294.5,2356.8 295.9,2385.5 297.2,2347.9 298.6,2374.5 299.9,2346.1 301.3,2368.2 302.6,2342.8 304,2370.4 305.3,2340.1 306.7,2354.2 308,2332.2 309.4,2366.5 310.7,2334.7 312.1,2343.8 313.4,2331.3 314.8,2361.7 316.1,2346.6 317.5,2367.5 318.8,2340.7 320.2,2364 321.5,2323.1 322.9,2366.8 324.2,2324.2 325.6,2348.1 326.9,2323.4 328.3,2356.4 329.6,2332.4 331,2362.2 332.3,2330.1 333.7,2367.4 335,2324.2 336.4,2365.6 336.5,2346.8 336.5,2370.8 337.1,2346.8 337.7,2335.7 339.1,2361.5 340.4,2330.8 341.8,2358.3 343.1,2335.8 344.5,2364.7 345.8,2346.2 346.8,2351.8 346.8,2368.7 347.4,2351.8 347.2,2356.6 348.5,2337.4 349.9,2354.5 351.2,2339.5 352.6,2345.6 353.9,2340.6 355.3,2346.5 356.6,2340.6 358,2342.8 359.3,2335.2 360.7,2339.2 362,2332 363.4,2340.6 364.7,2329.2 366.1,2338.2 367.4,2331.5 368.8,2338.6 370.1,2332.4 371.5,2342.7 372.8,2330.7 374.2,2341.4 375.5,2330.3 376.9,2345.2 378.2,2336.2 379.6,2338.7 379.8,2339.9 379.8,2352.2 380.4,2339.9 380.9,2331.7 382.3,2343.4 383.6,2331.6 385,2342.2 386.3,2336.3 387.7,2338.9 389,2338.7 390.4,2342.3 391.7,2330.7 393.1,2337 394.4,2318.3 395.8,2337.7 397.1,2307.3 398.3,2322.4 398.3,2298.7 398.9,2322.4 398.5,2342.3 399.8,2302.4 401.2,2328.9 402.5,2303.6 403.9,2345.6 405.2,2307.5 406.6,2328.9 407.9,2305.5 409.3,2345.9 410.6,2313.6 412,2332.1 413.3,2325.3 414.7,2334.9 414.8,2333.2 414.8,2362.5 415.4,2333.2 416,2309.9 417.4,2349.8 418.7,2311.6 420.1,2332 421.4,2331.2 422.8,2350.3 424.1,2310.7 425.5,2346.5 426.8,2311.8 428.2,2339.5 429.5,2317.3 430.9,2341.1 432.2,2311.4 433.6,2337.5 434.9,2311.6 436.3,2333.4 437.6,2324.2 439,2329.3 440.3,2310.4 441.7,2329.9 443,2312.3 444.4,2338.5 445.7,2318.3 447.1,2323.7 448.4,2316.4 449.8,2322.3 451.1,2302.7 452.5,2332.1 453.8,2298.9 455.2,2325.6 456.5,2297.4 457.9,2336.1 459.2,2296.7 460.6,2334.7 461.9,2296.8 463.3,2335.3 464.6,2293.3 466,2333.9 467.3,2292.1 468.7,2329.5 470,2292 471.4,2313.7 472.7,2300.5 474.1,2331.7 475.4,2294.8 476.8,2327.7 478.1,2296.9 479.5,2330.3 480.8,2309 482.2,2309.9 483.5,2299.5 484.9,2324.1 486.2,2296.4 487.6,2330 488.9,2298.4 490.3,2328.2 491.6,2309.2 493,2329.5 494.3,2297.4 495.7,2312.3 497,2362.4 498.4,2375.3 499.7,2372.9 501.1,2374 502.4,2371.5 503.8,2371.5 505.1,2370.7 506.5,2370.4 507.8,2368.2 509.2,2369.1 510.5,2366.4 511.9,2366.7 513.2,2364.9 514.6,2364.9 515.9,2362.9 517.3,2363.8 518.6,2361.6 520,2360.7 521.3,2359.7 522.7,2359 524,2357.6 525.4,2357.1 526.7,2354.9 528.1,2355.4 529.4,2352.9 530.8,2353.8 532.1,2350.8 533.5,2351.7 534.8,2348.3 536.2,2349.1 537.5,2346.9 538.9,2348.5 540.2,2344 541.6,2341.8 542.9,2341.5 544.3,2346.4 545.6,2330.1 547,2346.4 548.3,2325.5 548.8,2336.1 548.8,2321.3 549.4,2336.1 549.7,2346.2 551,2330.2 552.4,2337.2 553.7,2335.4 555.1,2344.4 556.4,2333.8 557.8,2341 559.1,2331.9 560.5,2343.8 561.8,2340.5 563.2,2343.3 564.5,2339.8 565.9,2347.4 567.2,2337.9 568.6,2345.7 569.9,2340.3 571.3,2346.8 572.6,2346.8 574,2350.6 575.3,2344.5 576.7,2348.3 578,2347.8 579.4,2353 580.7,2348 582.1,2354.5 583.4,2352.5 584.8,2354.1 586.1,2352.3 587.5,2355.9 588.8,2356.7 590.2,2358.3 591.5,2356.8 592.9,2360.4 594.2,2358.8 595.6,2362.8 596.9,2362.3 598.3,2363.7 599.6,2363.4 601,2364.4 602.3,2362.3 603.7,2364.1 605,2362.6 606.4,2368.2 607.7,2357.7 609.1,2368.9 610.4,2355.5 611.8,2366.9 612.6,2363.4 612.6,2351 613.2,2363.4 613.1,2355.2 614.5,2370.6 615.8,2362.2 617.2,2369.8 618.5,2369.8 619.9,2375 621.2,2375.8 622.6,2375.5 623.9,2374.5 625.3,2374.8 626.6,2373.4 628,2375.1 629.3,2372.2 630.7,2375.9 632,2370.8 633.4,2375.7 634.7,2369 636.1,2372.7 637.4,2367.7 638.8,2374.3 640.1,2368.9 641.5,2373.5 642.8,2365.5 644.2,2373.5 645.5,2365.4 645.6,2369.8 645.6,2360.5 646.2,2369.8 646.9,2371 648.2,2364.1 649.6,2373.1 650.9,2364.7 652.3,2375 653.6,2368.3 655,2373.7 656.3,2367 657.7,2371.9 659,2372 660.4,2378 661.7,2374 663.1,2381.8 664.4,2378.1 665.8,2384.9 667.1,2380.9 668.5,2386.1 669.8,2381.2 671.2,2383.6 672.5,2382.3 673.9,2383.8 675.2,2383.5 676.6,2385.4 677.9,2382.1 679.3,2383.2 680.6,2382.9 682,2384.3 683.3,2381.8 684.7,2384.5 686,2380.4 687.4,2386.1 688.7,2379.1 690.1,2384.9 691.4,2381.2 692.8,2383.1 694.1,2376.5 695.5,2385.3 696.8,2378.6 698.2,2391.4 699.5,2381.9 700.9,2383 702.2,2376.3 703.6,2385.1 704.9,2379.1 706.3,2393.6 707.6,2389.5 709,2390.7 710.3,2381.5 711.7,2398.2 713,2388.5 714.4,2406.3 715.7,2393.6 717.1,2413.7 717.7,2407.9 717.7,2420.2 718.3,2407.9 718.4,2403.7 719.8,2417.1 721.1,2402 722.5,2414.3 723.8,2399.8 725.2,2415.4 726.5,2403.6 727.9,2413.7 729.2,2400.8 730.6,2406.9 731.9,2405.4 733.3,2406.4 734.6,2401.5 736,2410.4 737.3,2401.8 738.7,2406.2 740,2402.3 741.4,2407 742.7,2402.8 744.1,2403.8 745.4,2404.7 746.8,2407.7 748.1,2407.6 749.5,2410.3 750.8,2411.5 752.2,2414.3 753.5,2414.8 754.9,2418.6 756.2,2418.9 757.6,2421.9 758.9,2422 760.3,2424.7 761.6,2426 763,2428.6 764.3,2429.2 765.7,2432.1 767,2432.8 768.4,2435.7 769.7,2434.9 771.1,2436.8 772.4,2430.4 773.8,2431.3 775.1,2424.2 776.5,2435.9 777.8,2420.8 779.2,2434.5 780.5,2416 781.9,2432.8 783.2,2418.1 784.6,2430.1 785.9,2420.6 787.3,2427.3 788.6,2423.6 790,2425.4 791.3,2424.4 792.7,2429.7 794,2425.4 795.4,2434.3 796.7,2426.4 798.1,2438.6 799.4,2430.9 800.1,2432.3 800.1,2444.9 800.7,2432.3 800.8,2436.2 802.1,2420.3 803.5,2427.8 804.8,2417.7 806.2,2421.3 807.5,2411.2 808.9,2420.9 810.2,2407.7 811.6,2417.1 812.9,2407.4 814.3,2424.5 815.6,2412.2 817,2417.1 818.3,2408.2 819.7,2421 821,2411.3 822.4,2424.4 822.8,2416.8 822.8,2436.7 823.4,2416.8 823.7,2402.6 825.1,2429.1 826.4,2398.9 827.8,2424.8 829.1,2399.5 830.5,2411.1 831.8,2400.4 833.2,2409.9 834.5,2400.5 835.9,2402.4 837.2,2400.9 838.6,2401 839.9,2397.4 841.3,2400.2 842.6,2395.6 844,2397.9 845.3,2393.6 846.7,2396 848,2391.7 849.4,2392.5 850.7,2391.9 852.1,2392 853.4,2387.9 854.8,2388.7 856.1,2386.7 857.5,2391.3 858.8,2388.3 860.2,2393.4 861.5,2390.6 862.9,2395.2 864.2,2392 865.6,2397.4 866.9,2393.7 868.3,2402.4 869.6,2408.2 871,2435.6 872.2,2442.8 872.2,2457.3 872.8,2442.8 872.3,2431.5 873.7,2452.7 875,2429.7 876.4,2448.7 877.7,2429.9 879.1,2442.4 880.4,2430 881.8,2438.7 883.1,2428 884.5,2433.6 885.8,2421.6 887.2,2443.3 888.5,2432.8 889.9,2445.1 891.2,2424.2 892.6,2436.9 893.9,2413.3 895.3,2430 896.6,2424.4 898,2434.1 899.3,2415.6 900.7,2426.3 902,2400.1 903.4,2434.2 904.7,2401.2 905.2,2418.8 905.2,2391.4 905.8,2418.8 906.1,2421.2 907.4,2411.2 908.8,2420.1 910.1,2404.3 911.5,2416.5 912.8,2407.4 914.2,2420.4 915.5,2401.9 916.9,2426.3 918.2,2403.9 919.6,2430.2 920.9,2407.9 922.3,2428.7 923.6,2417.6 925,2443.3 925.8,2435.8 925.8,2461.4 926.4,2435.8 926.3,2423.4 927.7,2439.5 929,2420 930.4,2440 931.7,2423.6 933.1,2425.2 934.4,2419.7 935.8,2423.1 937.1,2419 938.5,2423.1 939.8,2418 941.2,2421.4 942.5,2415 943.9,2420 945.2,2415.3 946.6,2418.8 947.9,2414 949.3,2414.2 950.6,2411.4 952,2414.1 953.3,2404.5 954.7,2407.7 956,2400.4 956.7,2402.6 956.7,2393.4 957.3,2402.6 957.4,2405.8 958.7,2400.5 960.1,2412.8 961.4,2402.1 962.8,2415.4 964.1,2409.6 965.5,2418.4 966.8,2412.3 968.2,2421.4 969.5,2411.2 970.9,2421.1 972.2,2413.8 973.6,2418.7 974.9,2414.2 976.3,2421.9 977.6,2413.3 979,2421.2 980.3,2413.2 981.7,2423.5 983,2417.3 984.4,2423.6 985.7,2418.7 987.1,2418.1 988.4,2412.7 989.8,2422.9 991.1,2417.3 992.5,2418.5 993.8,2414.8 995.2,2425.2 996.5,2414.7 997.9,2420.2 999.2,2415.5 1000.6,2424.2 1001.9,2416.2 1003.3,2425.3 1004.6,2422.3 1006,2427.9 1007.3,2421.5 1008.7,2426.6 1010,2422.9 1011.4,2425.7 1012.7,2419.5 1014.1,2424.5 1015.4,2420.9 1016.8,2429.9 1018.1,2420.4 1019.5,2428.3 1020.8,2421.8 1022.2,2429.6 1023.5,2421.5 1024.9,2429.8 1026.2,2422.4 1027.6,2427 1028.9,2422.5 1030.3,2428.1 1031.6,2426.2 1033,2431.4 1034.3,2427.6 1035.7,2429.4 1037,2428.2 1038.4,2432 1039.7,2426.5 1041.1,2432.3 1042.4,2430.6 1043.8,2432.1 1045.1,2428.5 1046.5,2433.4 1047.8,2429.4 1049.2,2434.8 1050.5,2430.4 1051.9,2433.3 1053.2,2431.6 1054.6,2433.7 1055.9,2431.7 1057.3,2437.5 1058.6,2432.5 1060,2439.2 1061.3,2432.1 1062.7,2435.8 1064,2435.9 1065.4,2438 1066.7,2434 1068.1,2423.8 1069.4,2404 1070.8,2398.4 1072.1,2393.6 1073.5,2401.2 1074.8,2394.3 1076.2,2400 1077.5,2395.1 1078.9,2399.3 1080.2,2393.2 1081.6,2402.5 1082.9,2397.9 1084.3,2402.8 1085.6,2395.2 1087,2402.5 1088.3,2395.3 1089.7,2400.7 1091,2400.1 1092.4,2403.8 1093.7,2398.1 1095.1,2404 1096.4,2397.8 1097.8,2403.6 1099.1,2396.6 1100.5,2405.3 1101.8,2398 1103.2,2404.4 1104.5,2401.3 1105.9,2414.1 1107.2,2408.6 1108.6,2409.5 1109.9,2405.4 1111.3,2423.6 1112.6,2405.9 1113.3,2417.6 1113.3,2430.5 1113.9,2417.6 1114,2428.5 1114.4,2417.4 1114.4,2432.6 1115,2417.4 1115.3,2407.9 1116.7,2425.6 1118,2407.2 1119.4,2420.5 1120.7,2408.8 1122.1,2412.1 1123.4,2409.2 1124.8,2412 1126.1,2405.5 1127.5,2408.7 1128.8,2401.8 1130.2,2406.7 1131.5,2397.7 1132.9,2404.1 1134.2,2398.9 1135.6,2401.9 1136.9,2391.8 1138.3,2401.7 1139.6,2403.7 1141,2412 1142.3,2407.7 1143.7,2414.1 1145,2409.6 1146.4,2415.1 1147.7,2413.8 1149.1,2414.9 1150.4,2414.9 1151.8,2419.3 1153.1,2414 1154.5,2418.8 1155.8,2418.3 1157.2,2421.5 1158.5,2418.3 1159.9,2424.2 1161.2,2419.3 1162.6,2423 1163.9,2423.6 1165.3,2426.7 1166.6,2428.1 1168,2434.9 1169.3,2424.3 1170.7,2439.7 1172,2428.2 1173.4,2438.9 1174.7,2443.7 1176.1,2464.1 1177.4,2468.7 1178.8,2477.1 1180.1,2468.7 1181.5,2482.2 1182.8,2468.5 1184.2,2478.3 1185.5,2467.9 1186.9,2474.3 1188.2,2469.6 1189.6,2478.3 1190.9,2465.7 1192.3,2475.8 1193.6,2466.8 1195,2435.7 1196.3,2411 1197.7,2418.5 1199,2412.1 1200.4,2418.1 1201.7,2411.7 1203.1,2421.8 1204.4,2413.2 1205.8,2424.4 1207.1,2411.5 1208.5,2423.3 1209.8,2419.2 1211.2,2422.4 1212.5,2419.1 1213.9,2424.7 1215.2,2415.3 1216.6,2427 1217.9,2422.2 1219.3,2424.5 1220.6,2418.2 1222,2429.1 1223.3,2420.3 1224.7,2425.9 1226,2420 1227.4,2427.6 1228.7,2421.1 1230.1,2423 1231.4,2419.4 1232.8,2426.4 1234.1,2419.5 1235.5,2424.6 1236.8,2422.1 1238.2,2430 1239.5,2427.5 1240.9,2432.8 1242.2,2429.9 1243.6,2441.9 1244.9,2437.3 1246.3,2440.9 1247.6,2432.9 1249,2438.9 1250.3,2426.3 1251.7,2432.4 1253,2424.1 1254.4,2427.9 1255.7,2422.6 1257.1,2431.8 1258.4,2419 1259.8,2428.1 1261.1,2419.1 1262.5,2420.7 1263.8,2414 1265.2,2423.9 1266.5,2413.9 1267.9,2419.6 1269.2,2414.8 1270.6,2428.2 1271.9,2415.7 1273.3,2427.8 1274.6,2422.6 1276,2424.2 1277.3,2421.6 1278.7,2423.9 1280,2425.4 1281.4,2432.4 1282.7,2421.8 1284.1,2432 1285.4,2431.6 1286.8,2449.1 1288.1,2435.6 1289.5,2453.7 1290.8,2436.7 1292.2,2461.6 1293.5,2439.9 1294.9,2458 1296.2,2427.6 1297.6,2432.7 1298.9,2420.2 1300.3,2425.1 1301.6,2420.3 1303,2424.9 1304.3,2415.7 1305.7,2420.9 1307,2419.1 1308.4,2426.2 1309.7,2414.6 1311.1,2428.6 1312.4,2415.5 1313.8,2424.1 1315.1,2414.3 1316.5,2435.5 1317.8,2425.1 1319.2,2441.7 1320.5,2415.6 1321.9,2431.4 1322.5,2429.4 1322.5,2449.1 1323.1,2429.4 1323.2,2423.2 1324.6,2443.8 1325.9,2415.2 1327.3,2441 1328.6,2427.4 1330,2437.1 1331.3,2423.9 1332.7,2427.5 1334,2420.9 1335.4,2432.2 1336.7,2426.8 1338.1,2428.3 1339.4,2423.8 1340.8,2434.8 1342.1,2426.2 1343.5,2454.8 1344.8,2426.8 1346,2449.4 1346,2475.8 1346.6,2449.4 1346.2,2454.6 1347.5,2442.3 1348.9,2447.2 1350.2,2433.4 1351.6,2444.8 1352.9,2410 1354.3,2426.7 1355.6,2414.2 1357,2414.6 1358.3,2406.8 1359.7,2430.7 1361,2409.7 1362.4,2431.4 1363.7,2423.4 1365.1,2440.2 1366.4,2422.6 1367.8,2433.7 1367.9,2429.2 1367.9,2449.1 1368.5,2429.2 1369.1,2424.7 1370.5,2432.1 1371.8,2419.3 1373.2,2439.9 1374.5,2415.6 1375.9,2438 1377.2,2423 1378.6,2439.3 1379.9,2415.8 1381.3,2429.4 1382.6,2416.5 1384,2436.1 1385.3,2416.5 1386.7,2430.5 1388,2417.8 1389.4,2424.8 1390.7,2426 1392.1,2427.1 1393.4,2421.5 1394.8,2439.7 1396.1,2423.2 1397.5,2439 1398.8,2430.1 1400.2,2442.2 1401.5,2427.8 1402.9,2445.1 1404.2,2433.3 1405.6,2444.3 1406.9,2437.5 1407,2437.3 1407,2455.2 1407.6,2437.3 1408.3,2438.1 1409.6,2427.3 1411,2436.8 1412.3,2420.9 1413.7,2425.6 1415,2408 1416.4,2420 1417.7,2411.5 1419.1,2423.3 1420.4,2409.6 1421.8,2424.9 1423.1,2411.7 1424.5,2420.4 1425.8,2416.3 1427.2,2428.3 1428.5,2417.2 1429.9,2423.3 1431.2,2421.2 1432.6,2434.6 1433.9,2428.2 1435.3,2434.8 1436.6,2434.6 1438,2442.2 1439.3,2433 1440.7,2440.6 1442,2440.2 1443.4,2443.3 1444.7,2439.8 1446.1,2452 1447.4,2443.9 1448.8,2456 1450.1,2453.2 1451.5,2455.2 1452.8,2451.3 1454.2,2455.5 1455.5,2448.8 1456.9,2453.8 1458.2,2441.8 1459.6,2449.2 1460.9,2446.7 1462.3,2454 1463.6,2441.8 1465,2452.5 1466.3,2442.1 1467.7,2458.7 1469,2444.8 1470.4,2463.5 1471.7,2448.1 1473.1,2432.6 1474.4,2393.3 1475.8,2403.7 1477.1,2388.3 1478.5,2402.1 1479.8,2390.5 1481.2,2402.4 1482.5,2385.4 1483.9,2402 1485.2,2391.2 1486.6,2399.7 1487.9,2386.5 1489.3,2404.4 1490.6,2389.1 1492,2401.7 1493.3,2392.7 1494.7,2406.3 1496,2390.6 1497.4,2402 1498.7,2392.2 1500.1,2407.6 1501.4,2392.1 1502.8,2399.9 1504.1,2392.6 1505.5,2407 1506.8,2393.4 1508.2,2409.5 1509.5,2397.8 1510.9,2395.5 1512.2,2386.7 1513.6,2400.9 1514.9,2386.1 1516.3,2395.5 1517.6,2376.9 1519,2385.4 1520.3,2381.1 1521.7,2391.8 1523,2385.9 1524.4,2396 1525.7,2391.2 1527.1,2409.5 1528.4,2394.3 1529.8,2407.6 1531.1,2396.2 1532.5,2400.1 1533.8,2390.3 1535.2,2402 1536.5,2389.2 1537.9,2401.1 1539.2,2386.1 1540.6,2400.8 1541.9,2386 1543.3,2390.7 1544.6,2381.7 1546,2394.1 1547.3,2385.1 1548.7,2385.5 1550,2378.4 1551.4,2396.7 1552.7,2388.4 1554.1,2388 1555.4,2381.8 1556.8,2403.5 1558.1,2391.6 1559.5,2403.3 1560.8,2391.4 1562.2,2397.3 1563.5,2389 1564.9,2399.7 1566.2,2387.9 1567.6,2396.3 1568.9,2384.7 1570.3,2391.2 1571.6,2391.7 1573,2408.6 1574.3,2387 1575.7,2417.3 1577,2393.1 1578.4,2428.7 1579.7,2389.4 1581.1,2443.6 1582.1,2420 1582.1,2455.2 1582.7,2420 1582.4,2406.5 1583.8,2414.4 1585.1,2391.4 1586.5,2410.1 1587.8,2395.9 1589.2,2405.3 1590.5,2402.2 1591.9,2419.3 1593.2,2405.3 1594.5,2418.1 1594.5,2436.7 1595.1,2418.1 1594.6,2426.4 1595.9,2408.7 1597.3,2429.1 1598.6,2405.4 1600,2423.1 1601.3,2405.5 1602.7,2420.4 1604,2405.8 1605.4,2422.4 1606.7,2403.9 1608.1,2418.5 1609.4,2406.4 1610.8,2421.1 1612.1,2409.6 1613.5,2414 1614.8,2406.2 1616.2,2419.2 1617.5,2407 1618.9,2420.8 1620.2,2406.2 1621.6,2419.9 1622.9,2406.8 1624.3,2421.1 1625.6,2409.5 1627,2425.1 1628.3,2411.7 1629.7,2426.3 1631,2413.9 1632.4,2418.8 1633.7,2408.6 1635.1,2421.5 1636.4,2405.2 1637.8,2415.1 1639.1,2407.3 1640.5,2412.2 1641.8,2402.2 1643.2,2400.5 1644.5,2399.1 1645.9,2405.7 1647.2,2400.5 1648.6,2409.2 1649.9,2406.9 1651.3,2415.2 1652.6,2417.4 1654,2427.4 1655.3,2415.6 1656.7,2418.6 1658,2409.9 1659.4,2427.6 1660.7,2416.3 1662.1,2430.1 1663.4,2419.6 1664.8,2430.1 1666.1,2418.5 1667.5,2432 1668.8,2414.2 1670.2,2422.1 1671.5,2412.5 1672.9,2432.8 1674.2,2415.3 1675.6,2433.1 1676.9,2413.3 1678.3,2443.8 1679.6,2433.7 1681,2452.2 1682.3,2451.1 1683.7,2459.1 1685,2452.2 1686.4,2467.2 1687.7,2457.4 1689.1,2477.7 1689.3,2463.7 1689.3,2484.1 1689.9,2463.7 1690.4,2457.8 1691.8,2460.9 1693.1,2444 1694.5,2438.8 1695.8,2427.3 1697.2,2432.2 1698.5,2429.7 1699.9,2435.3 1701.2,2435.3 1702.6,2443.7 1703.9,2440.6 1705.3,2448.6 1706.6,2446.5 1708,2450.5 1709.3,2445.2 1710.7,2452.6 1712,2449.1 1713.4,2459.9 1714.7,2454.7 1716.1,2463.8 1717.4,2459 1718.8,2469.5 1720.1,2465.5 1721.5,2474.2 1722.8,2472.3 1724.2,2483.3 1725.5,2470.8 1726.9,2490.1 1728.2,2471 1729.6,2490.1 1730.9,2475.6 1732.3,2488.2 1733.6,2456.9 1735,2425.1 1736.3,2408.9 1737.7,2417.6 1739,2411 1740.4,2419.3 1741.7,2408.9 1743.1,2419.1 1744.4,2408.9 1745.8,2421.1 1747.1,2412.7 1748.5,2423.4 1749.8,2418.7 1751.2,2429.7 1752.5,2423.1 1753.9,2432.1 1755.2,2425.2 1756.6,2432.2 1757.9,2429.6 1759.3,2441.5 1760.6,2435.1 1762,2447.1 1763.3,2447.5 1764.7,2454 1766,2450.7 1767.4,2467.1 1768.7,2456.9 1770.1,2470.5 1771.4,2426 1772.8,2403.7 1774.1,2397 1775.5,2401.9 1776.8,2397.6 1778.2,2398.4 1779.5,2390.7 1780.9,2395.1 1782.2,2388.6 1783.6,2403.2 1784.9,2393.9 1786.3,2415.6 1787.6,2396.2 1789,2415.5 1790.3,2400 1791.7,2429.3 1793,2421 1794.4,2440.9 1795.7,2404.2 1797.1,2433.6 1798.4,2409.4 1799.8,2434.7 1800.5,2426.5 1800.5,2451.1 1801.1,2426.5 1801.1,2420 1802.5,2446 1803.8,2408.1 1805.2,2443.4 1806.5,2407.8 1807.9,2427.4 1809.2,2420.9 1810.6,2433 1811.9,2410.5 1813.3,2429.4 1814.6,2421.2 1816,2438.6 1817.3,2422.2 1818.7,2440.2 1820,2417.2 1821.4,2447.1 1822.7,2420.3 1824.1,2449.7 1825.4,2424.2 1826.8,2441.6 1828.1,2432.7 1829.5,2442.2 1830.8,2436.7 1832.2,2464 1833.5,2436.2 1834.9,2471 1836.2,2448.7 1836.8,2453.7 1836.8,2490.3 1837.4,2453.7 1837.6,2468 1838.9,2425.6 1840.3,2440.6 1841.6,2425.2 1843,2431.5 1844.3,2420.5 1845.7,2430.1 1847,2411 1848.4,2426.7 1849.7,2413.4 1851.1,2415.3 1852.4,2411.1 1853.8,2421.2 1855.1,2411 1856.5,2418.8 1857.8,2401.4 1859.2,2411.7 1860.5,2408.4 1861.9,2421.3 1863.2,2413.6 1864.6,2421.1 1865.9,2415.1 1867.3,2430.2 1868.6,2423.9 1870,2435.4 1871.3,2421.6 1872.7,2439.7 1874,2422 1875.4,2448.8 1876.7,2414.8 1878.1,2441.1 1879.4,2411.9 1880.8,2430.7 1882.1,2409.9 1883.5,2452.3 1884.8,2409.8 1886.2,2430.4 1887.5,2413 1888.9,2453.4 1890.2,2411.8 1891.6,2455.4 1892.9,2423.5 1894.3,2444.2 1895.6,2424.7 1897,2441.8 1898.3,2415.1 1899.7,2447.7 1901,2418.7 1902.4,2441.1 1903.7,2432.8 1905.1,2441 1906.4,2421.2 1907.8,2445.6 1909.1,2444.5 1910.5,2446.4 1911.8,2428.9 1913.2,2471.8 1913.9,2453.4 1913.9,2475.8 1914.5,2453.4 1914.5,2432.6 1915.9,2473.5 1917.2,2449.8 1918.6,2457 1919.9,2445.4 1921.3,2457.2 1922.6,2447.6 1924,2466.7 1925.3,2439.9 1926.7,2469.4 1928,2442.3 1929.4,2469.1 1930.7,2423.2 1932.1,2464 1932.4,2443.7 1932.4,2473.8 1933,2443.7 1933.4,2416.5 1934.8,2464.9 1936.1,2421.6 1937.5,2448.8 1938.8,2425.9 1940.2,2455.3 1941.5,2441.8 1942.9,2448.6 1944.2,2438.7 1945.6,2447.5 1946.9,2438.4 1948.3,2458.5 1949.6,2448.6 1951,2462.3 1952.3,2455.4 1953.7,2471.7 1955,2464.6 1956.4,2486.7 1957.7,2478.1 1959.1,2496.6 1960.4,2485 1961.8,2505 1963.1,2484.1 1964.5,2517.8 1965.8,2504.5 1967.2,2514.3 1968.5,2505.7 1969.5,2519.4 1969.5,2589.2 1970.1,2519.4 1969.8,2519.4 1969.8,2589.2 1970.4,2519.4 1969.9,2532.2 1971.2,2497.2 1972.6,2516.4 1973.9,2478.4 1975.3,2524.9 1976.6,2467.6 1978,2501 1979.3,2454.3 1980.7,2486 1982,2453 1983.4,2512 1984.7,2464.2 1986.1,2492.1 1987.4,2448.1 1988.8,2477.7 1990.1,2446.6 1991.5,2465.3 1992.8,2453.6 1994.2,2464.6 1995.5,2450.9 1996.9,2473.9 1998.2,2445.7 1999.6,2472.6 2000.9,2457 2002.3,2476.3 2003.6,2456 2005,2476.1 2006.3,2440.5 2007.7,2473.1 2009,2454.8 2010.4,2467.8 2011.7,2440.2 2013.1,2456.4 2014.4,2438.1 2015.8,2468.2 2017.1,2441.9 2018.5,2460.1 2019.8,2447.5 2021.2,2463.2 2022.5,2437.7 2023.9,2470.9 2025.2,2435.4 2026.6,2456.5 2027.9,2443.5 2029.3,2459.7 2030.6,2434.4 2032,2468.2 2033.3,2446.4 2034.7,2464.4 2036,2433.1 2037.4,2467.4 2038.7,2450.2 2040.1,2472.2 2041.4,2432.4 2042.8,2471 2044.1,2442.3 2045.5,2454.8 2046.8,2431.1 2048.2,2473.4 2049.5,2431.3 2050.9,2470.3 2052.2,2435.6 2053.6,2473.5 2054.9,2431.7 2056.3,2473.5 2057.6,2453.6 2059,2459.2 2060.3,2429.7 2061.7,2450 2063,2429.7 2064.4,2470.9 2065.7,2454.9 2067.1,2457.6 2067.4,2453.7 2067.4,2512.9 2068,2453.7 2068.4,2442.9 2069.8,2470.5 2071.1,2430.2 2072.5,2464.3 2073.8,2429.6 2075.2,2476.5 2076.5,2432.1 2077.9,2478.8 2079.2,2431.5 2080.6,2457.7 2081.9,2439.8 2083.3,2468.6 2084.6,2436.8 2086,2469.6 2087.3,2425.8 2088.7,2464.5 2090,2428.7 2091.4,2458.6 2092.7,2448.3 2094.1,2470.3 2095.4,2432.4 2096.8,2457.1 2098.1,2428.4 2099.5,2472.9 2100.8,2438.2 2102.2,2450.1 2103.5,2440.3 2104.9,2456.6 2106.2,2443.5 2107.6,2456.4 2108.9,2435.3 2110.3,2462 2111.6,2428.6 2113,2456.1 2114.3,2427.5 2115.7,2461 2117,2440.6 2118.4,2454.1 2119.7,2436.4 2121.1,2466.4 2122.4,2432.3 2123.8,2463.2 2125.1,2437.5 2126.5,2465.3 2127.8,2439.7 2129.2,2449.9 2130.5,2431.1 2131.9,2460.4 2133.2,2444.7 2134.6,2468.8 2135.9,2436.2 2137.3,2448.8 2138.6,2429.3 2140,2462.9 2141.3,2427.9 2142.7,2453.5 2144,2447.6 2145.4,2461.1 2146.7,2423.8 2148.1,2458.1 2149.4,2428.5 2150.8,2451.8 2152.1,2426 2152.7,2443.2 2152.7,2512.9 2153.3,2443.2 2153.5,2453.3 2154.8,2435.8 2156.2,2456 2157.5,2420.2 2158.9,2438.2 2160.2,2415.9 2161.6,2448.6 2162.9,2417.3 2164.3,2444.5 2165.6,2412.6 2167,2433.3 2168.3,2413.9 2169.7,2462.8 2171,2411.3 2172.4,2455.1 2173.7,2406.5 2175.1,2453.7 2176.4,2406.3 2177.8,2440.9 2179.1,2399.7 2179.9,2431.2 2179.9,2391.4 2180.5,2431.2 2180.5,2461.5 2181.8,2400.8 2183.2,2455.5 2184.5,2449.7 2184.9,2452.1 2184.9,2502.6 2185.5,2452.1 2185.9,2477 2187.2,2411.9 2188.6,2455 2189.9,2419.1 2191.3,2473 2192.6,2418.8 2194,2447.9 2195.3,2435.9 2196.7,2447.1 2198,2428.4 2199.4,2447.3 2200.5,2439.8 2200.5,2398.8 2201.1,2439.8 2200.7,2426 2202.1,2437.9 2203.4,2427 2204.8,2445.8 2206.1,2435.6 2207.5,2441.7 2208.8,2428.4 2210.2,2451.8 2211.5,2429.6 2212.9,2453.6 2214.2,2436 2215.6,2450.9 2216.9,2436.5 2218.3,2452.8 2219.6,2429.6 2221,2457 2222.3,2433.9 2223.7,2461.8 2225,2435 2226.4,2456.2 2227.7,2439.6 2229.1,2469.1 2230.4,2442.9 2231.8,2466.9 2233.1,2441.8 2234.5,2462.9 2235.8,2444.4 2237.2,2469.1 2238.5,2452.4 2239.9,2454.6 2241.2,2430.9 2242.6,2454.5 2243.9,2448.7 2245.3,2456.8 2246.6,2431.1 2248,2459.9 2249.3,2445.1 2250.7,2486.9 2252,2439.8 2253.4,2464.4 2254.7,2455.3 2256.1,2494.4 2257.4,2448 2258.8,2498.1 2260.1,2447.7 2261.5,2478 2262.8,2448 2264.2,2497.9 2265.5,2465.6 2266.9,2462 2268.2,2414.5 2269.6,2432.6 2270.9,2399.2 2272.3,2421.4 2273.6,2395.3 2275,2411.5 2276.3,2399 2277.7,2411.2 2279,2377.3 2280.4,2414.7 2281.7,2382.2 2283.1,2408.7 2284.4,2377.3 2285.8,2398.6 2287.1,2378.2 2288.5,2417 2289.8,2370.2 2291.2,2416.7 2292.5,2373.8 2293.9,2414.9 2295.2,2372.1 2296.6,2411.3 2297.9,2371.6 2299.3,2401.2 2300.6,2371.4 2302,2387.3 2303.3,2362.5 2304.7,2386.4 2306,2364.7 2307.4,2395 2308.7,2368.1 2310.1,2383 2311.4,2357.7 2312.8,2397 2314.1,2378.4 2315.5,2402.5 2316.8,2361.6 2318.2,2386.6 2319.5,2349.8 2320.9,2386 2322.2,2360.5 2323.6,2371.2 2323.8,2372.2 2323.8,2508.8 2324.4,2372.2 2324.9,2349.5 2326.3,2367.4 2327.6,2352 2329,2385.5 2330.3,2366 2331.7,2393.2 2333,2356.2 2334.4,2380.1 2335.7,2346.8 2337.1,2373.7 2338.4,2348.8 2339.8,2394 2341.1,2354.8 2342.5,2385.1 2343.8,2349.1 2345.2,2404.3 2346.4,2383.1 2346.4,2447 2347,2383.1 2346.5,2354.8 2347.9,2400.3 2349.2,2373.9 2350.6,2407.6 2351.9,2374.2 2353.3,2401.9 2354.6,2361.5 2356,2403.1 2357.3,2362.9 2358.7,2378.2 2360,2369.2 2361.4,2389.3 2362.7,2362.3 2364.1,2409.8 2365.4,2363.3 2366.8,2404.7 2368.1,2374.5 2369.5,2399.2 2370.3,2394.3 2370.3,2471.7 2370.9,2394.3 2370.8,2363.2 2372.2,2402.8 2373.5,2388.1 2374.9,2410.5 2376.2,2358.9 2377.6,2419.4 2378.9,2356.7 2380.3,2422.4 2381.6,2388.9 2383,2408.7 2384.3,2377.4 2385.7,2402.8 2387,2395.9 2388.4,2414 2389.7,2385.4 2391.1,2416.1 2392.4,2393.4 2393.8,2419.9 2395.1,2397.5 2396.5,2434 2397.8,2399.3 2399.2,2432.7 2400.5,2405.8 2401.9,2446.4 2403.2,2391.1 2404.6,2452.5 2405.9,2411.7 2407.3,2423.9 2408.6,2407.8 2410,2455 2411.3,2420.1 2412.7,2436.9 2414,2406.9 2415.4,2459.1 2416.7,2400.9 2418.1,2452.3 2419.4,2403.1 2420.8,2450.5 2422.1,2414.1 2423.5,2428.5 2424.8,2404.5 2426.2,2443.4 2427.5,2406.5 2428.9,2450.2 2430.2,2415.4 2431.6,2429.9 2432.9,2411.2 2434.3,2424.4 2435.6,2380.1 2437,2419.5 2438.3,2383.9 2439.7,2398.1 2441,2401.4 2442.4,2418.8 2443.7,2371.8 2445.1,2430 2446.4,2379.8 2447.8,2425.6 2449.1,2368.5 2450.5,2426.2 2451.8,2369.3 2453.2,2406.3 2454.5,2370.9 2455.9,2393 2457.2,2372.1 2458.6,2396.9 2459.9,2373.6 2461.3,2417.1 2462.6,2385.4 2464,2414.4 2465.3,2385.9 2466.7,2415.3 2468,2373.9 2469.4,2399.9 2470.7,2385.2 2472.1,2396.9 2473.4,2385.8 2474.8,2416.6 2476.1,2382.4 2477.5,2402.1 2478.8,2382.4 2480.2,2430.1 2481.5,2424.3 2482.9,2434.9 2484.2,2431.4 2485.6,2452.3 2486.9,2425.3 2488.3,2446.6 2489.6,2437.1 2491,2458.5 2492.3,2428.4 2493.7,2449.5 2495,2428.9 2496.4,2448.6 2497.7,2435.3 2499.1,2468.4 2500.4,2436.1 2501.8,2462.8 2503.1,2439.9 2504.5,2463 2505.8,2438.8 2507.2,2460.5 2508.5,2441.9 2509.9,2466 2511.2,2448.2 2512.6,2472.4 2513.9,2444.6 2515.3,2464.1 2516.6,2460.8 2518,2465.2 2519.3,2450.2 2520.7,2477.8 2522,2445.9 2523.4,2461.4 2524.7,2456 2526.1,2467.2 2527.4,2450.1 2528.8,2474.7 2530.1,2468.4 2531.5,2470.2 2532.8,2458.4 2534.2,2483.9 2535.5,2457.1 2536.9,2471.9 2538.2,2458.3 2539.6,2475.7 2540.9,2451.5 2542.3,2460.8 2543.6,2448.5 2545,2477.1 2546.3,2416.8 2547.7,2473.7 2549,2412.1 2550.4,2454.3 2551.7,2423.2 2553.1,2430.4 2554.4,2390.2 2555.8,2426.7 2557.1,2407.9 2558.5,2417.3 2559.8,2386.2 2561.2,2439.9 2562.5,2397.2 2563.9,2407 2565.2,2381.5 2566.6,2394 2567.9,2369.9 2569.3,2432 2570.6,2383.6 2572,2414.6 2573.3,2382.8 2574.7,2425.1 2576,2419.5 2577.4,2449.5 2578.7,2402.6 2580.1,2431.7 2581.4,2398.6 2582.8,2445.2 2584.1,2395.7 2585.4,2420 2585.4,2494.4 2586,2420 2585.5,2426 2586.8,2411.4 2588.2,2434.4 2589.5,2397.1 2590.9,2421.8 2592.2,2410.8 2593.6,2436.1 2594.9,2403.7 2596.3,2418 2597.6,2414.3 2599,2433 2600.3,2396.9 2601.7,2431.9 2603,2389.2 2604.4,2446.6 2605.2,2417.7 2605.2,2473.8 2605.8,2417.7 2605.7,2386.8 2607.1,2426.4 2608.4,2388.2 2609.8,2429.5 2611.1,2387.6 2612.5,2428.3 2613.8,2382.4 2615.2,2436.5 2616.5,2410.3 2617.9,2427.9 2619.2,2383.9 2620.6,2426.5 2621.9,2408.1 2623.3,2449 2624.6,2405.9 2626,2452.3 2627.3,2409.3 2628.7,2466.9 2630,2406.8 2631.4,2432 2632.7,2430.6 2634.1,2456.6 2635.4,2412.9 2636.8,2463.3 2638.1,2421.6 2639.5,2456.5 2640.8,2431.3 2641.1,2431.4 2641.1,2372.8 2641.7,2431.4 2642.2,2438.8 2643.5,2420.5 2644.9,2425.2 2646.2,2395.7 2647.6,2463.4 2648.9,2392.8 2650.3,2459.7 2651.6,2390.1 2653,2459.2 2654.3,2399.6 2655.7,2423.8 2657,2394.8 2658.4,2417.2 2659.7,2416.1 2661.1,2449.7 2662.4,2397.4 2663.8,2438.6 2665.1,2385.8 2666.5,2410.8 2667.8,2386.2 2669.2,2427.1 2670.3,2411.4 2670.3,2574.7 2670.9,2411.4 2670.5,2395.1 2671.9,2407.2 2673.2,2394.9 2674.6,2427.4 2675.9,2387.2 2677.3,2433 2678.6,2409.8 2680,2405.1 2681.3,2385.4 2682.7,2437.1 2684,2386.8 2685.4,2432.7 2686.7,2409.7 2688.1,2412.9 2689.4,2407.2 2690.8,2441.1 2692.1,2405.8 2693.5,2423.9 2694.8,2400.6 2696.2,2412 2697.5,2390.1 2698.9,2443.2 2700.2,2407 2701.6,2416.2 2702.9,2404.4 2704.3,2442.1 2705.6,2402 2707,2426.7 2708.3,2393.5 2709.7,2443.6 2711,2395.6 2712.4,2448.9 2713.7,2400.9 2715.1,2449.8 2716.4,2396.6 2717.8,2451.8 2719.1,2409.5 2720.5,2454.9 2721.8,2412.1 2723.2,2454 2724.5,2396.9 2725.9,2425.7 2727.2,2398.7 2727.6,2428.8 2727.6,2498.5 2728.2,2428.8 2728.6,2426.4 2729.9,2423.1 2731.3,2430.1 2732.6,2399 2734,2452.9 2735.3,2399.9 2736.7,2431.2 2738,2426.1 2739.4,2449.9 2740.7,2408.8 2742.1,2464.6 2743.4,2428.5 2744.8,2461.8 2746.1,2418.9 2747.5,2475.7 2748.8,2407.4 2750.2,2480 2751.5,2425.2 2752.9,2461.4 2754.2,2402.6 2755.6,2439.7 2756.9,2400.7 2758.3,2462.6 2759.6,2395.4 2761,2465.4 2762.3,2420.6 2763.7,2460.4 2765,2388.3 2766.4,2451 2767.7,2390.4 2769.1,2425.6 2770.4,2388.4 2771.8,2420.4 2773.1,2389.2 2774.5,2426.2 2775.8,2406.6 2777.2,2458.5 2778.5,2398.9 2779.9,2455.4 2781.2,2394.3 2782.6,2456.8 2783.9,2397.4 2785.3,2420.5 2786.6,2429.5 2788,2425.2 2789.3,2395.5 2790.7,2455.5 2792,2424.5 2793.4,2462.1 2794.7,2415.1 2796.1,2458.5 2797.4,2433.1 2798.8,2465.8 2800.1,2421.9 2801.5,2458.8 2801.8,2432.3 2801.8,2506.8 2802.4,2432.3 2802.8,2399.6 2804.2,2464.9 2805.5,2423.4 2806.9,2450.1 2808.2,2401.1 2809.6,2452.9 2810.9,2428.4 2812.3,2458.5 2813.6,2410.9 2815,2459.1 2816.3,2402.6 2817.7,2436.8 2819,2417.1 2820.4,2455.9 2821.7,2402.6 2823.1,2457.6 2824.4,2412.3 2825.8,2447.3 2827.1,2403.2 2828.5,2455.6 2829.8,2411.6 2831.2,2438.4 2832.5,2420.5 2833.9,2443.6 2835.2,2400.7 2836.6,2457.9 2837.9,2415.6 2839.3,2449.8 2840.6,2414.7 2842,2458.4 2843.3,2420 2844.7,2454 2846,2422.8 2847.4,2432.5 2848.7,2407.4 2850.1,2463.6 2851.4,2429.2 2852.8,2453.5 2854.1,2427.6 2855.5,2462.2 2856.8,2402.6 2858.2,2438.8 2859.5,2406.3 2860.9,2467.9 2862.2,2406.9 2863.6,2452.6 2864.9,2402.4 2866.3,2455.6 2867.6,2408.4 2869,2455.3 2870.3,2402.2 2871.7,2445.2 2873,2425.1 2874.4,2436.4 2875.7,2404.3 2877.1,2444.5 2878.4,2405.4 2879.8,2442 2881.1,2400.9 2882.5,2434.8 2883.8,2433.5 2885.2,2454.5 2886.5,2408.5 2887.9,2453.7 2889.2,2409.1 2890.6,2469.8 2891.9,2435.4 2893.3,2467 2894.6,2399.2 2896,2470.8 2897.3,2399.6 2898.7,2440.2 2900,2397.1 2901.4,2473.1 2902.7,2416.1 2904.1,2471.2 2905.4,2397.3 2906.8,2453.8 2908.1,2410.5 2909.5,2457.6 2910.8,2417.7 2912.2,2471.8 2913.5,2429.2 2914.9,2446.9 2916.2,2400.5 2917.6,2470.4 2918.9,2409.5 2920.3,2457.5 2921.6,2404.4 2923,2469.4 2924.3,2408.1 2925.7,2472 2927,2416.1 2928.4,2442.9 2929.7,2404.9 2931.1,2462.9 2932.4,2427.8 2933.8,2483.3 2935.1,2435.3 2936.5,2444.5 2937.8,2412.2 2939.2,2480.9 2940.5,2439.3 2941.9,2472.4 2943.2,2410.1 2944.6,2439.7 2945.9,2426.5 2947.3,2468.2 2948.6,2401.5 2950,2461.7 2951.3,2403.5 2952.7,2424.1 2954,2419.4 2955.4,2429.1 2956.7,2420.8 2958.1,2433.8 2959.4,2398 2960.8,2451.6 2962.1,2432.4 2963.5,2430.2 2964.8,2400.8 2966.2,2457.6 2967.5,2413.4 2968.9,2460.8 2970.2,2409.6 2971.6,2469.5 2972.9,2406.7 2974.3,2457.6 2975.6,2400.9 2977,2472.7 2978.3,2439.6 2979.7,2446.9 2981,2438.2 2982.4,2457.4 2983.7,2429.2 2985.1,2442.9 2986.4,2436.5 2987.8,2485.2 2989.1,2419.8 2990.5,2481.9 2991.8,2422.9 2993.2,2484.2 2994.5,2415.9 2995.9,2447.9 2997.2,2422.6 2998.6,2499.4 2999.9,2418.1 3001.3,2496.9 3002.6,2460.7 3004,2512.7 3005.3,2410.5 3006.7,2493.1 3008,2407 3009.4,2504.1 3010.7,2474.1 3012.1,2514.2 3013.4,2416.3 3014.8,2519.7 3016.1,2434.2 3017.5,2539.7 3018.8,2422 3020.2,2541.3 3021.5,2430.2 3022.9,2526.8 3024.2,2428.3 3025.6,2525.6 3026.9,2419.5 3028.3,2497.8 3029.6,2452.5 3031,2484 3032.3,2424.6 3033.7,2472 3035,2405.6 3036.4,2458.9 3037.7,2410.5 3039.1,2468.2 3040.4,2421.7 3041.8,2473.2 3043.1,2414.5 3044.5,2482.6 3045.8,2417.3 3047.2,2473 3048.5,2425 3049.9,2470.8 3051.2,2425.2 3052.6,2481.2 3053.9,2450.1 3055.3,2487 3056.6,2433.3 3058,2480 3059.3,2423.9 3060.7,2451.9 3062,2423 3063.4,2467.5 3064.7,2419.5 3066.1,2501.2 3067.4,2452.2 3068.8,2489.2 3070.1,2418.8 3071.5,2490.1 3072.8,2427.8 3074.2,2470.3 3075.5,2422.8 3076.9,2492.4 3078.2,2460 3079.4,2459.8 3079.4,2362.5 3080,2459.8 3079.6,2468.8 3080.9,2426.9 3082.3,2485.3 3083.6,2431.7 3085,2470.5 3086.3,2441.2 3087.7,2461.5 3089,2451.8 3090.4,2477.9 3091.7,2449 3093.1,2471 3094.4,2451.5 3095.8,2486.2 3097.1,2454.5 3098.5,2478.2 3099.8,2465.2 3101.2,2504.7 3102.5,2463.7 3103.9,2510.3 3105.2,2457.5 3106.6,2491.6 3107.9,2442.2 3109.3,2466.8 3110.6,2444.9 3112,2499 3113.3,2456.9 3114.7,2472.1 3116,2445.4 3117.4,2499.7 3118.7,2437.8 3120.1,2495.7 3121.4,2451 3122.8,2502.2 3124.1,2434.4 3125.5,2489.7 3126.8,2433.5 3128.2,2500.2 3129.5,2453.6 3130.9,2467.7 3132.2,2430 3133.6,2486.2 3134.9,2413.6 3136.3,2486.8 3137.6,2405.5 3139,2467.3 3140.3,2412.1 3141.7,2482.6 3143,2432.9 3144.4,2471.3 3145.7,2422.9 3147.1,2436.7 3148.4,2431.1 3149.8,2469.6 3151.1,2391.6 3152.5,2425.3 3153.8,2381.8 3155.2,2466.8 3156.5,2422.5 3156.5,2321.3 3157.1,2422.5 3156.5,2392.9 3157.9,2447.2 3159.2,2416.1 3160.6,2426.9 3161.9,2386.4 3163.3,2408.3 3164.6,2386.7 3166,2442.7 3167.3,2398.2 3168.7,2450.5 3170,2385.9 3171.4,2441.8 3172.7,2388.3 3174.1,2420.7 3175.4,2404.8 3176.8,2448.8 3178.1,2389.6 3179.5,2457.1 3180.8,2395.6 3182.2,2448.8 3183.5,2402 3184.9,2429.3 3186.2,2429.1 3187.6,2453.4 3188.9,2395.2 3190.3,2446.2 3191.6,2432.2 3193,2461 3194.3,2398 3195.7,2434 3197,2386.9 3198.4,2460.8 3199.7,2428.7 3201.1,2430.9 3202.4,2395.3 3203.8,2463.8 3205.1,2418.9 3205.9,2423.9 3205.9,2341.9 3206.5,2423.9 3206.5,2437.2 3207.8,2412.1 3209.2,2415.8 3210.5,2416.4 3211.9,2448.4 3213.2,2384 3214.1,2420.5 3214.1,2605.7 3214.7,2420.5 3214.6,2451.8 3215.9,2392.2 3217.3,2441.4 3218.6,2383.4 3220,2451.6 3221.3,2396 3222.7,2439.3 3224,2382.1 3225.4,2413.5 3226.7,2393.9 3228.1,2477.1 3229.4,2378.6 3230.8,2437.5 3232.1,2371.4 3233.5,2448.3 3234.8,2362.7 3236.2,2474.3 3237.5,2405.9 3238.9,2449.4 3240.2,2383.4 3241.6,2471 3242.9,2366.4 3244.3,2443.6 3245.6,2351.8 3247,2424.6 3248.3,2358.6 3249.7,2381.8 3251,2355 3252.4,2410.6 3253.7,2336.9 3255.1,2413.4 3256.4,2358.8 3257.8,2412.8 3259.1,2333.2 3260.5,2409.5 3261.8,2341.7 3263.2,2375.2 3264.5,2344.3 3265.9,2374.6 3267.2,2329 3268.6,2405.3 3269.9,2352.4 3271.3,2395 3272.6,2348.5 3274,2391 3275.3,2331.2 3276.7,2390.9 3278,2331.2 3279.4,2361.2 3280.7,2341.5 3282.1,2382.8 3283.4,2337.4 3284.8,2378.9 3286.1,2332.7 3287.5,2397.3 3288.8,2389.2 3290.2,2409.1 3291.5,2384.8 3292.9,2435.1 3294.2,2380.1 3295.6,2465.2 3296.9,2421.1 3298.3,2429.1 3299.6,2381.8 3301,2427.3 3302.3,2413.1 3303.7,2474 3305,2394.9 3306.4,2424.2 3307.7,2387.1 3309.1,2423.3 3310.4,2375.8 3311.8,2465.6 3313.1,2400.4 3314.5,2469.2 3315.8,2376.2 3317.2,2422.2 3318.5,2382.2 3319.9,2425.9 3321.2,2373.2 3322.6,2456.1 3323.9,2375.4 3325.3,2450.8 3326.6,2412.1 3328,2443.4 3329.3,2380.4 3330.7,2448.5 3332,2376.5 3333.4,2438.7 3334.7,2368.4 3336.1,2449.4 3337.4,2359.3 3338.8,2409.1 3340.1,2361.1 3341.5,2444.3 3342.8,2358.1 3344.2,2443.4 3345.5,2360.5 3346,2405.3 3346,2531.5 3346.6,2405.3 3346.9,2451.1 3348.2,2380.6 3349.6,2442.2 3350.9,2362.6 3352.3,2421.6 3353.6,2363.7 3355,2446.5 3356.3,2397.8 3357.7,2451.7 3359,2374.8 3360.4,2415.2 3361.7,2398.1 3363.1,2453.4 3364.4,2375 3365.8,2427.1 3367.1,2377.5 3368.5,2411.2 3369.8,2375.1 3371.2,2413.6 3372.5,2386 3373.9,2459.4 3375.2,2385.4 3376.6,2464.3 3377.9,2405.6 3379.3,2489.5 3380.6,2441.9 3382,2486.4 3383.3,2399.1 3384.7,2512.1 3386,2419.8 3387.4,2514.1 3388.7,2450.7 3390.1,2517.7 3391.4,2422.9 3392.8,2495.7 3394.1,2416.2 3395.5,2478.8 3396.8,2419.8 3398.2,2490.3 3399.5,2429.9 3400.9,2516.9 3402.2,2419.4 3403.6,2528.9 3404.9,2408.5 3406.3,2465.1 3407.6,2403.7 3409,2472 3410.3,2390.5 3411.7,2469 3411.9,2435.3 3411.9,2315.1 3412.5,2435.3 3413,2387.9 3414.4,2462.1 3415.7,2377 3417.1,2470.3 3418.4,2370.5 3419.8,2461.7 3421.1,2372.2 3422.5,2435 3423.8,2380.2 3425.2,2456.4 3426.5,2421.2 3427.9,2436 3429.2,2422.3 3430.6,2432.5 3431.9,2388.2 3433.3,2456.3 3434.6,2382.7 3436,2430.2 3437.3,2393.9 3438.7,2438.1 3440,2378.2 3441.4,2417.1 3442.7,2384.4 3444.1,2431.1 3445.4,2394.5 3446.8,2431.5 3448.1,2382.9 3449.5,2440.6 3450.8,2369 3452.2,2406.8 3453.5,2391.5 3454.9,2422.9 3456.2,2369.4 3457.6,2455.4 3458.9,2370.6 3460.3,2456.2 3461.6,2374.6 3463,2453.6 3464.3,2372.3 3465.7,2462 3467,2394.1 3468.4,2472.5 3469.7,2414 3471.1,2455.9 3472.4,2404.9 3473.8,2479.8 3475.1,2387.5 3476.5,2454.2 3477.8,2382.6 3479.2,2492.6 3480.5,2418.1 3481.9,2445.4 3483.2,2376.3 3484.6,2494.3 3485.9,2418.7 3487.3,2461.5 3488.6,2367.8 3490,2488.8 3491.3,2366.1 3492.7,2442.9 3494,2365.8 3495.4,2428 3496.7,2401.5 3498.1,2493.6 3499.4,2393.6 3500.8,2471.1 3502.1,2397.2 3503.5,2428 3504.8,2365.4 3506.2,2472.7 3507.5,2414.7 3508.9,2451 3510.2,2409.4 3511.6,2427.3 3512.9,2388.3 3514.3,2412.3 3515.6,2378.9 3517,2431.8 3518.3,2361.6 3519.7,2416 3521,2368.4 3522.4,2425 3523.7,2398.3 3525.1,2437.5 3526.4,2384.7 3527.3,2399.2 3527.3,2541.8 3527.9,2399.2 3527.8,2436.7 3529.1,2380.3 3530.5,2403.6 3531.8,2363.6 3533.2,2416.3 3534.5,2397.4 3535.9,2410.2 3537.2,2371.2 3538.6,2423.7 3539.9,2361.6 3541.3,2418.3 3542.6,2366.9 3544,2431.4 3545.3,2365.4 3546.7,2444 3548,2385.5 3549.4,2427.5 3550,2413.1 3550,2533.5 3550.6,2413.1 3550.7,2365.5 3552.1,2462.1 3553.4,2377.8 3554.8,2460.9 3556.1,2421.9 3557.5,2476.9 3558.8,2369.7 3560.2,2434.6 3561.5,2366.2 3562.9,2478.2 3564.2,2373.2 3565.6,2451.1 3566.9,2387.3 3568.3,2452.5 3569.6,2367.7 3571,2456.9 3572.3,2389.1 3573.7,2467.9 3575,2402.9 3576.4,2429.6 3577.7,2367.6 3579.1,2462.6 3580.4,2373.2 3581.8,2457.6 3583.1,2367.8 3584.5,2453.8 3585.8,2368.8 3587.2,2432.5 3588.5,2376.6 3589.9,2469.4 3591.2,2371.6 3592.6,2456.8 3593.9,2373 3595.3,2477.5 3596.6,2366.2 3598,2486.5 3599.3,2432.3 3600.7,2441.3 3602,2365 3603.4,2442.2 3604.7,2426.6 3606.1,2453.2 3607.4,2363.4 3608.8,2456.2 3610.1,2372.1 3611.5,2470.4 3612.8,2377.3 3614.2,2472 3615.5,2410.6 3616.9,2436.5 3618.2,2380.7 3619.6,2408.1 3620.9,2381.2 3622.3,2455.7 3623.6,2360.2 3624.2,2408.3 3624.2,2552.1 3624.8,2408.3 3625,2456.8 3626.3,2356.7 3627.7,2416.4 3629,2392.8 3630.4,2444.7 3631.7,2356.2 3633.1,2422 3634.4,2389.9 3635.8,2397.2 3637.1,2354.3 3638.5,2407.4 3639.8,2386.3 3641.2,2409.3 3642.5,2357.4 3643.9,2437.2 3645.2,2384.4 3646.6,2430.5 3647.9,2358.4 3649.3,2417.5 3650.6,2358.3 3652,2398.5 3653.3,2355.2 3654.7,2432.7 3655.9,2392.6 3655.9,2578.9 3656.5,2392.6 3656,2365.7 3657.4,2408.9 3658.7,2380.5 3660.1,2403.1 3661.4,2386.4 3662.8,2386.7 3664.1,2361.8 3665.5,2411.2 3666.8,2354.5 3668.2,2420.2 3669.5,2366.9 3670.7,2391.5 3670.7,2492.3 3671.3,2391.5 3670.9,2426.8 3672.2,2373.4 3673.6,2426.3 3674.9,2363.7 3676.3,2388.5 3677.6,2358.4 3679,2430.6 3680.3,2365.8 3681.7,2428.8 3683,2379.8 3684.4,2433 3685.7,2388.5 3687.1,2401.2 3688.4,2386.3 3689.8,2430.2 3691.1,2362.9 3692.5,2421.6 3693.8,2371.1 3695.2,2441.3 3696.5,2363.4 3697.9,2445.7 3699.2,2381.8 3700.6,2410.6 3701.9,2402.2 3703.3,2455.8 3704.6,2365.3 3706,2450.5 3707.3,2379.3 3708.7,2463.9 3710,2364.6 3711.4,2483.9 3712.7,2369.1 3714.1,2460.9 3715.4,2421.5 3716.8,2415.4 3718.1,2404.1 3719.5,2404.3 3720.8,2409.3 3722.2,2425.1 3723.5,2391.2 3724.9,2442.4 3726.2,2383.8 3727.6,2428.7 3728.9,2369.2 3730.3,2438.5 3731.6,2416.3 3733,2452 3734.3,2391.2 3735.7,2471 3737,2375.9 3738.4,2431.1 3739.7,2371.2 3741.1,2494.3 3742.4,2403.2 3743.8,2484.2 3745.1,2373.3 3746.5,2468.5 3747.8,2382.2 3749.2,2480.2 3750.5,2385.6 3751.9,2489 3753.2,2397.9 3754.6,2505.1 3755.9,2375.8 3757.3,2523.1 3758.6,2438 3760,2483.8 3761.3,2375.9 3762.7,2442.7 3764,2378.6 3765.4,2488.6 3766.7,2390.1 3768.1,2470.5 3769.4,2386.2 3770.8,2443.5 3772.1,2377.1 3773.5,2445.3 3774.8,2375.8 3776.2,2462.3 3777.5,2395.6 3778.9,2500.5 3780.2,2384.7 3781.6,2470.2 3782.9,2384.5" fill="none" stroke="#269F72" stroke-width="6.2" stroke-linejoin="round" />
<circle cx="285.3" cy="2216.5" r="15.3" fill="#FF6A0A" />
<circle cx="285.3" cy="2226" r="15.3" fill="#FF6A0A" />
<circle cx="634.9" cy="2219.7" r="15.3" fill="#FF6A0A" />
<circle cx="984.4" cy="2232.6" r="15.3" fill="#FF6A0A" />
<circle cx="984.4" cy="2243.5" r="15.3" fill="#FF6A0A" />
<circle cx="1334" cy="2233.8" r="15.3" fill="#FF6A0A" />
<circle cx="1683.6" cy="2249.6" r="15.3" fill="#FF6A0A" />
<circle cx="2033.2" cy="2245.5" r="15.3" fill="#FF6A0A" />
<circle cx="2033.2" cy="2255.4" r="15.3" fill="#FF6A0A" />
<circle cx="2382.7" cy="2236.4" r="15.3" fill="#FF6A0A" />
<circle cx="2382.7" cy="2245.5" r="15.3" fill="#FF6A0A" />
<circle cx="2732.3" cy="2245.5" r="15.3" fill="#FF6A0A" />
<circle cx="2732.3" cy="2253.7" r="15.3" fill="#FF6A0A" />
<circle cx="3081.9" cy="2253.5" r="15.3" fill="#FF6A0A" />
<circle cx="3081.9" cy="2263" r="15.3" fill="#FF6A0A" />
<circle cx="3431.4" cy="2281" r="15.3" fill="#FF6A0A" />
<circle cx="3431.4" cy="2292.5" r="15.3" fill="#FF6A0A" />
<circle cx="3781" cy="2309.6" r="15.3" fill="#FF6A0A" />
<circle cx="285.3" cy="2692.2" r="15.3" fill="#6E827F" />
<circle cx="634.9" cy="2689" r="15.3" fill="#6E827F" />
<circle cx="634.9" cy="2694" r="15.3" fill="#6E827F" />
<circle cx="984.4" cy="2685.8" r="15.3" fill="#6E827F" />
<circle cx="984.4" cy="2692.2" r="15.3" fill="#6E827F" />
<circle cx="1334" cy="2678" r="15.3" fill="#6E827F" />
<circle cx="1683.6" cy="2677.9" r="15.3" fill="#6E827F" />
<circle cx="2033.2" cy="2681.2" r="15.3" fill="#6E827F" />
<circle cx="2382.7" cy="2669" r="15.3" fill="#6E827F" />
<circle cx="2382.7" cy="2677" r="15.3" fill="#6E827F" />
<circle cx="2732.3" cy="2663.9" r="15.3" fill="#6E827F" />
<circle cx="3081.9" cy="2638.3" r="15.3" fill="#6E827F" />
<circle cx="3081.9" cy="2646.5" r="15.3" fill="#6E827F" />
<circle cx="3431.4" cy="2625.7" r="15.3" fill="#6E827F" />
<circle cx="3431.4" cy="2631.7" r="15.3" fill="#6E827F" />
<circle cx="3781" cy="2603" r="15.3" fill="#6E827F" />
<circle cx="285.3" cy="2721.5" r="15.3" fill="#33BB00" />
<circle cx="285.3" cy="2728.5" r="15.3" fill="#33BB00" />
<circle cx="634.9" cy="2724.2" r="15.3" fill="#33BB00" />
<circle cx="984.4" cy="2727.4" r="15.3" fill="#33BB00" />
<circle cx="1334" cy="2725.5" r="15.3" fill="#33BB00" />
<circle cx="1683.6" cy="2727.3" r="15.3" fill="#33BB00" />
<circle cx="2033.2" cy="2729" r="15.3" fill="#33BB00" />
<circle cx="2382.7" cy="2728.1" r="15.3" fill="#33BB00" />
<circle cx="2732.3" cy="2727.3" r="15.3" fill="#33BB00" />
<circle cx="3081.9" cy="2733.9" r="15.3" fill="#33BB00" />
<circle cx="3431.4" cy="2734.3" r="15.3" fill="#33BB00" />
<circle cx="3781" cy="2737.2" r="15.3" fill="#33BB00" />
<circle cx="285.3" cy="2881.3" r="15.3" fill="#C46CFA" />
<circle cx="634.9" cy="2882.6" r="15.3" fill="#C46CFA" />
<circle cx="984.4" cy="2882.6" r="15.3" fill="#C46CFA" />
<circle cx="1334" cy="2882.6" r="15.3" fill="#C46CFA" />
<circle cx="1683.6" cy="2883.9" r="15.3" fill="#C46CFA" />
<circle cx="2033.2" cy="2882.3" r="15.3" fill="#C46CFA" />
<circle cx="2382.7" cy="2885.6" r="15.3" fill="#C46CFA" />
<circle cx="2732.3" cy="2883.9" r="15.3" fill="#C46CFA" />
<circle cx="3081.9" cy="2883.9" r="15.3" fill="#C46CFA" />
<circle cx="3431.4" cy="2882.2" r="15.3" fill="#C46CFA" />
<circle cx="3781" cy="2885.1" r="15.3" fill="#C46CFA" />
<line x1="240.6" y1="2160.4" x2="3805.1" y2="2160.4" stroke="#000" stroke-width="6.6" stroke-linecap="butt" />
<line x1="267.6" y1="2157.1" x2="267.6" y2="2924.7" stroke="#000" stroke-width="6.2" stroke-linecap="butt" />
<line x1="264.5" y1="2921.4" x2="3805.1" y2="2921.4" stroke="#000" stroke-width="6.6" stroke-linecap="butt" />
<line x1="3805.1" y1="2157.1" x2="3805.1" y2="2924.7" stroke="#FF1E37" stroke-width="6.4" stroke-linecap="butt" />
<text x="215" y="2167.8" font-size="42" text-anchor="end" fill="#269F72" font-weight="normal" ><tspan>1.2</tspan></text>
<line x1="240.6" y1="2277.4" x2="267.6" y2="2277.4" stroke="#000" stroke-width="6.6" stroke-linecap="butt" />
<text x="215" y="2284.8" font-size="42" text-anchor="end" fill="#269F72" font-weight="normal" ><tspan>1.4</tspan></text>
<line x1="240.6" y1="2394.4" x2="267.6" y2="2394.4" stroke="#000" stroke-width="6.6" stroke-linecap="butt" />
<text x="215" y="2401.8" font-size="42" text-anchor="end" fill="#269F72" font-weight="normal" ><tspan>1.6</tspan></text>
<line x1="240.6" y1="2511.3" x2="267.6" y2="2511.3" stroke="#000" stroke-width="6.6" stroke-linecap="butt" />
<text x="215" y="2518.7" font-size="42" text-anchor="end" fill="#269F72" font-weight="normal" ><tspan>1.8</tspan></text>
<line x1="240.6" y1="2628.3" x2="267.6" y2="2628.3" stroke="#000" stroke-width="6.6" stroke-linecap="butt" />
<text x="215" y="2635.7" font-size="42" text-anchor="end" fill="#269F72" font-weight="normal" ><tspan>2.0</tspan></text>
<line x1="240.6" y1="2745.3" x2="267.6" y2="2745.3" stroke="#000" stroke-width="6.6" stroke-linecap="butt" />
<text x="215" y="2752.7" font-size="42" text-anchor="end" fill="#269F72" font-weight="normal" ><tspan>2.2</tspan></text>
<line x1="240.6" y1="2862.3" x2="267.6" y2="2862.3" stroke="#000" stroke-width="6.6" stroke-linecap="butt" />
<text x="215" y="2869.7" font-size="42" text-anchor="end" fill="#269F72" font-weight="normal" ><tspan>2.4</tspan></text>
<line x1="3805.1" y1="2897.1" x2="3832.1" y2="2897.1" stroke="#FF1E37" stroke-width="6.8" stroke-linecap="butt" />
<text x="3855.5" y="2904.8" font-size="42" text-anchor="start" fill="#FF1E37" font-weight="normal" ><tspan>0</tspan></text>
<line x1="3805.1" y1="2774.3" x2="3832.1" y2="2774.3" stroke="#FF1E37" stroke-width="6.8" stroke-linecap="butt" />
<text x="3855.5" y="2782" font-size="42" text-anchor="start" fill="#FF1E37" font-weight="normal" ><tspan>10</tspan></text>
<line x1="3805.1" y1="2651.5" x2="3832.1" y2="2651.5" stroke="#FF1E37" stroke-width="6.8" stroke-linecap="butt" />
<text x="3855.5" y="2659.2" font-size="42" text-anchor="start" fill="#FF1E37" font-weight="normal" ><tspan>20</tspan></text>
<line x1="3805.1" y1="2528.8" x2="3832.1" y2="2528.8" stroke="#FF1E37" stroke-width="6.8" stroke-linecap="butt" />
<text x="3855.5" y="2536.5" font-size="42" text-anchor="start" fill="#FF1E37" font-weight="normal" ><tspan>30</tspan></text>
<line x1="3805.1" y1="2406" x2="3832.1" y2="2406" stroke="#FF1E37" stroke-width="6.8" stroke-linecap="butt" />
<text x="3855.5" y="2413.7" font-size="42" text-anchor="start" fill="#FF1E37" font-weight="normal" ><tspan>40</tspan></text>
<line x1="3805.1" y1="2283.2" x2="3832.1" y2="2283.2" stroke="#FF1E37" stroke-width="6.8" stroke-linecap="butt" />
<text x="3855.5" y="2290.9" font-size="42" text-anchor="start" fill="#FF1E37" font-weight="normal" ><tspan>50</tspan></text>
<line x1="3805.1" y1="2160.4" x2="3832.1" y2="2160.4" stroke="#FF1E37" stroke-width="6.8" stroke-linecap="butt" />
<text x="3855.5" y="2168.1" font-size="42" text-anchor="start" fill="#FF1E37" font-weight="normal" ><tspan>60</tspan></text>
<line x1="285.3" y1="2921.4" x2="285.3" y2="2948.4" stroke="#000" stroke-width="7" stroke-linecap="butt" />
<text x="285.6" y="3001.5" font-size="42" text-anchor="middle" fill="#000" font-weight="normal" ><tspan>0</tspan></text>
<line x1="634.9" y1="2921.4" x2="634.9" y2="2935.4" stroke="#000" stroke-width="5.6" stroke-linecap="butt" />
<line x1="984.4" y1="2921.4" x2="984.4" y2="2948.4" stroke="#000" stroke-width="7" stroke-linecap="butt" />
<text x="984.7" y="3001.5" font-size="42" text-anchor="middle" fill="#000" font-weight="normal" ><tspan>20</tspan></text>
<line x1="1334" y1="2921.4" x2="1334" y2="2935.4" stroke="#000" stroke-width="5.6" stroke-linecap="butt" />
<line x1="1683.6" y1="2921.4" x2="1683.6" y2="2948.4" stroke="#000" stroke-width="7" stroke-linecap="butt" />
<text x="1683.9" y="3001.5" font-size="42" text-anchor="middle" fill="#000" font-weight="normal" ><tspan>40</tspan></text>
<line x1="2033.2" y1="2921.4" x2="2033.2" y2="2935.4" stroke="#000" stroke-width="5.6" stroke-linecap="butt" />
<line x1="2382.7" y1="2921.4" x2="2382.7" y2="2948.4" stroke="#000" stroke-width="7" stroke-linecap="butt" />
<text x="2383" y="3001.5" font-size="42" text-anchor="middle" fill="#000" font-weight="normal" ><tspan>60</tspan></text>
<line x1="2732.3" y1="2921.4" x2="2732.3" y2="2935.4" stroke="#000" stroke-width="5.6" stroke-linecap="butt" />
<line x1="3081.9" y1="2921.4" x2="3081.9" y2="2948.4" stroke="#000" stroke-width="7" stroke-linecap="butt" />
<text x="3082.2" y="3001.5" font-size="42" text-anchor="middle" fill="#000" font-weight="normal" ><tspan>80</tspan></text>
<line x1="3431.4" y1="2921.4" x2="3431.4" y2="2935.4" stroke="#000" stroke-width="5.6" stroke-linecap="butt" />
<line x1="3781" y1="2921.4" x2="3781" y2="2948.4" stroke="#000" stroke-width="7" stroke-linecap="butt" />
<text x="3781.3" y="3001.5" font-size="42" text-anchor="middle" fill="#000" font-weight="normal" ><tspan>100</tspan></text>
<text x="1995.5" y="3032.5" font-size="53.5" text-anchor="middle" fill="#000" font-weight="normal" ><tspan>Operation time (h)</tspan></text>
<text x="94" y="2567" font-size="54" text-anchor="middle" fill="#269F72" font-weight="normal" transform="rotate(-90 94 2567)" ><tspan>Current (A)</tspan></text>
<text x="3979" y="2546.5" font-size="54" text-anchor="middle" fill="#FF1E37" font-weight="normal" transform="rotate(-90 3979 2546.5)" ><tspan>FE(%)</tspan></text>
<line x1="705" y1="2492.2" x2="510.6" y2="2492.2" stroke="#269F72" stroke-width="5" stroke-linecap="butt" />
<polygon points="481,2492.2 518,2480.2 518,2504.2" fill="#269F72" stroke="#269F72" stroke-width="2" stroke-linejoin="round"/>
<line x1="3281" y1="2226.5" x2="3455.1" y2="2226.5" stroke="#FF1405" stroke-width="6.5" stroke-linecap="butt" />
<polygon points="3485.5,2226.5 3447.5,2213 3447.5,2240" fill="#FF1405" stroke="#FF1405" stroke-width="2" stroke-linejoin="round"/>
<text x="2814.5" y="2250.4" font-size="54" text-anchor="start" fill="#FF6A0A" font-weight="normal" ><tspan>C</tspan><tspan font-size="37.8" dy="8.6">2</tspan><tspan dy="-8.6">H</tspan><tspan font-size="37.8" dy="8.6">4</tspan></text>
<text x="2811" y="2660.6" font-size="54" text-anchor="start" fill="#6E827F" font-weight="normal" ><tspan>H</tspan><tspan font-size="37.8" dy="8.6">2</tspan></text>
<text x="2806.5" y="2757.8" font-size="54" text-anchor="start" fill="#33BB00" font-weight="normal" ><tspan>CO</tspan></text>
<text x="2786.5" y="2879.8" font-size="54" text-anchor="start" fill="#C46CFA" font-weight="normal" ><tspan>C</tspan><tspan font-size="37.8" dy="8.6">3</tspan><tspan dy="-8.6">H</tspan><tspan font-size="37.8" dy="8.6">6</tspan></text>
<text x="33" y="2141" font-size="68" text-anchor="start" fill="#000" font-weight="bold" ><tspan>g</tspan></text>
</g></svg></body></html>
